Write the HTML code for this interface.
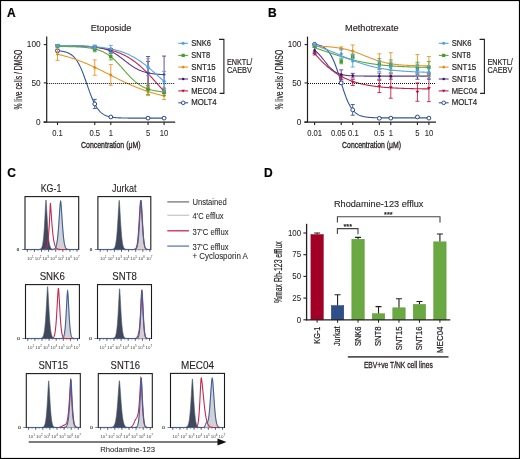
<!DOCTYPE html>
<html><head><meta charset="utf-8"><style>
html,body{margin:0;padding:0;background:#fff;}
svg{display:block;will-change:transform;}
text{font-family:"Liberation Sans",sans-serif;}
</style></head><body>
<svg width="520" height="459" viewBox="0 0 520 459">
<rect x="0" y="0" width="520" height="459" fill="#fff"/>
<text x="7.00" y="17.20" font-size="12" text-anchor="start" fill="#000" font-weight="bold" stroke="#000" stroke-width="0.18" >A</text>
<text x="111.00" y="31.30" font-size="9.9" text-anchor="middle" fill="#231f20" textLength="40.7" lengthAdjust="spacingAndGlyphs" stroke="#231f20" stroke-width="0.15" >Etoposide</text>
<path d="M57.50 50.73 L58.04 50.77 L58.57 50.82 L59.11 50.87 L59.64 50.92 L60.18 50.99 L60.71 51.05 L61.25 51.13 L61.79 51.21 L62.32 51.29 L62.86 51.39 L63.39 51.49 L63.93 51.61 L64.46 51.73 L65.00 51.87 L65.54 52.02 L66.07 52.18 L66.61 52.35 L67.14 52.54 L67.68 52.75 L68.21 52.98 L68.75 53.23 L69.28 53.49 L69.82 53.79 L70.36 54.10 L70.89 54.44 L71.43 54.81 L71.96 55.22 L72.50 55.65 L73.03 56.12 L73.57 56.62 L74.11 57.17 L74.64 57.75 L75.18 58.38 L75.71 59.05 L76.25 59.77 L76.78 60.54 L77.32 61.36 L77.86 62.23 L78.39 63.16 L78.93 64.13 L79.46 65.17 L80.00 66.25 L80.53 67.39 L81.07 68.58 L81.61 69.83 L82.14 71.12 L82.68 72.46 L83.21 73.84 L83.75 75.26 L84.28 76.71 L84.82 78.20 L85.36 79.70 L85.89 81.23 L86.43 82.77 L86.96 84.31 L87.50 85.86 L88.03 87.40 L88.57 88.92 L89.11 90.43 L89.64 91.91 L90.18 93.36 L90.71 94.77 L91.25 96.15 L91.78 97.48 L92.32 98.76 L92.85 100.00 L93.39 101.18 L93.93 102.32 L94.46 103.39 L95.00 104.42 L95.53 105.39 L96.07 106.30 L96.60 107.17 L97.14 107.98 L97.68 108.74 L98.21 109.46 L98.75 110.12 L99.28 110.74 L99.82 111.32 L100.35 111.86 L100.89 112.36 L101.43 112.83 L101.96 113.25 L102.50 113.65 L103.03 114.02 L103.57 114.36 L104.10 114.67 L104.64 114.96 L105.18 115.22 L105.71 115.47 L106.25 115.69 L106.78 115.90 L107.32 116.09 L107.85 116.26 L108.39 116.42 L108.93 116.56 L109.46 116.70 L110.00 116.82 L110.53 116.93 L111.07 117.04 L111.60 117.13 L112.14 117.22 L112.67 117.30 L113.21 117.37 L113.75 117.44 L114.28 117.50 L114.82 117.55 L115.35 117.60 L115.89 117.65 L116.42 117.69 L116.96 117.73 L117.50 117.76 L118.03 117.80 L118.57 117.83 L119.10 117.85 L119.64 117.88 L120.17 117.90 L120.71 117.92 L121.25 117.94 L121.78 117.96 L122.32 117.97 L122.85 117.99 L123.39 118.00 L123.92 118.01 L124.46 118.02 L125.00 118.03 L125.53 118.04 L126.07 118.05 L126.60 118.06 L127.14 118.06 L127.67 118.07 L128.21 118.08 L128.75 118.08 L129.28 118.09 L129.82 118.09 L130.35 118.10 L130.89 118.10 L131.42 118.10 L131.96 118.11 L132.49 118.11 L133.03 118.11 L133.57 118.11 L134.10 118.11 L134.64 118.12 L135.17 118.12 L135.71 118.12 L136.24 118.12 L136.78 118.12 L137.32 118.12 L137.85 118.13 L138.39 118.13 L138.92 118.13 L139.46 118.13 L139.99 118.13 L140.53 118.13 L141.07 118.13 L141.60 118.13 L142.14 118.13 L142.67 118.13 L143.21 118.13 L143.74 118.13 L144.28 118.13 L144.82 118.13 L145.35 118.13 L145.89 118.13 L146.42 118.13 L146.96 118.13 L147.49 118.13 L148.03 118.13 L148.57 118.14 L149.10 118.14 L149.64 118.14 L150.17 118.14 L150.71 118.14 L151.24 118.14 L151.78 118.14 L152.32 118.14 L152.85 118.14 L153.39 118.14 L153.92 118.14 L154.46 118.14 L154.99 118.14 L155.53 118.14 L156.06 118.14 L156.60 118.14 L157.14 118.14 L157.67 118.14 L158.21 118.14 L158.74 118.14 L159.28 118.14 L159.81 118.14 L160.35 118.14 L160.89 118.14 L161.42 118.14 L161.96 118.14 L162.49 118.14 L163.03 118.14 L163.56 118.14 L164.10 118.14" fill="none" stroke="#34569a" stroke-width="1.1"/>
<path d="M57.50 45.53 L58.04 45.54 L58.57 45.55 L59.11 45.55 L59.64 45.56 L60.18 45.57 L60.71 45.58 L61.25 45.59 L61.79 45.60 L62.32 45.61 L62.86 45.62 L63.39 45.63 L63.93 45.64 L64.46 45.65 L65.00 45.66 L65.54 45.67 L66.07 45.68 L66.61 45.70 L67.14 45.71 L67.68 45.72 L68.21 45.73 L68.75 45.75 L69.28 45.76 L69.82 45.78 L70.36 45.79 L70.89 45.81 L71.43 45.82 L71.96 45.84 L72.50 45.86 L73.03 45.88 L73.57 45.89 L74.11 45.91 L74.64 45.93 L75.18 45.95 L75.71 45.97 L76.25 45.99 L76.78 46.02 L77.32 46.04 L77.86 46.06 L78.39 46.09 L78.93 46.11 L79.46 46.14 L80.00 46.16 L80.53 46.19 L81.07 46.22 L81.61 46.25 L82.14 46.28 L82.68 46.31 L83.21 46.34 L83.75 46.37 L84.28 46.40 L84.82 46.44 L85.36 46.47 L85.89 46.51 L86.43 46.55 L86.96 46.59 L87.50 46.63 L88.03 46.67 L88.57 46.71 L89.11 46.75 L89.64 46.80 L90.18 46.85 L90.71 46.89 L91.25 46.94 L91.78 46.99 L92.32 47.05 L92.85 47.10 L93.39 47.15 L93.93 47.21 L94.46 47.27 L95.00 47.33 L95.53 47.39 L96.07 47.46 L96.60 47.52 L97.14 47.59 L97.68 47.66 L98.21 47.73 L98.75 47.81 L99.28 47.88 L99.82 47.96 L100.35 48.04 L100.89 48.13 L101.43 48.21 L101.96 48.30 L102.50 48.39 L103.03 48.48 L103.57 48.58 L104.10 48.68 L104.64 48.78 L105.18 48.89 L105.71 48.99 L106.25 49.10 L106.78 49.22 L107.32 49.33 L107.85 49.45 L108.39 49.58 L108.93 49.70 L109.46 49.83 L110.00 49.97 L110.53 50.11 L111.07 50.25 L111.60 50.39 L112.14 50.54 L112.67 50.70 L113.21 50.85 L113.75 51.02 L114.28 51.18 L114.82 51.35 L115.35 51.53 L115.89 51.71 L116.42 51.89 L116.96 52.08 L117.50 52.27 L118.03 52.47 L118.57 52.68 L119.10 52.89 L119.64 53.10 L120.17 53.32 L120.71 53.55 L121.25 53.78 L121.78 54.01 L122.32 54.25 L122.85 54.50 L123.39 54.76 L123.92 55.02 L124.46 55.28 L125.00 55.55 L125.53 55.83 L126.07 56.12 L126.60 56.41 L127.14 56.71 L127.67 57.01 L128.21 57.32 L128.75 57.64 L129.28 57.96 L129.82 58.29 L130.35 58.63 L130.89 58.98 L131.42 59.33 L131.96 59.69 L132.49 60.05 L133.03 60.43 L133.57 60.81 L134.10 61.20 L134.64 61.59 L135.17 61.99 L135.71 62.40 L136.24 62.82 L136.78 63.24 L137.32 63.67 L137.85 64.11 L138.39 64.55 L138.92 65.00 L139.46 65.46 L139.99 65.93 L140.53 66.40 L141.07 66.88 L141.60 67.36 L142.14 67.85 L142.67 68.35 L143.21 68.86 L143.74 69.37 L144.28 69.88 L144.82 70.41 L145.35 70.93 L145.89 71.47 L146.42 72.01 L146.96 72.55 L147.49 73.10 L148.03 73.66 L148.57 74.22 L149.10 74.78 L149.64 75.35 L150.17 75.92 L150.71 76.49 L151.24 77.07 L151.78 77.66 L152.32 78.24 L152.85 78.83 L153.39 79.42 L153.92 80.01 L154.46 80.61 L154.99 81.20 L155.53 81.80 L156.06 82.40 L156.60 83.00 L157.14 83.60 L157.67 84.20 L158.21 84.80 L158.74 85.41 L159.28 86.01 L159.81 86.60 L160.35 87.20 L160.89 87.80 L161.42 88.39 L161.96 88.99 L162.49 89.58 L163.03 90.17 L163.56 90.75 L164.10 91.33" fill="none" stroke="#be2447" stroke-width="1.1"/>
<path d="M57.50 45.84 L58.04 45.84 L58.57 45.84 L59.11 45.84 L59.64 45.85 L60.18 45.85 L60.71 45.85 L61.25 45.85 L61.79 45.85 L62.32 45.85 L62.86 45.86 L63.39 45.86 L63.93 45.86 L64.46 45.86 L65.00 45.87 L65.54 45.87 L66.07 45.87 L66.61 45.88 L67.14 45.88 L67.68 45.88 L68.21 45.89 L68.75 45.89 L69.28 45.90 L69.82 45.90 L70.36 45.91 L70.89 45.91 L71.43 45.92 L71.96 45.92 L72.50 45.93 L73.03 45.93 L73.57 45.94 L74.11 45.95 L74.64 45.96 L75.18 45.96 L75.71 45.97 L76.25 45.98 L76.78 45.99 L77.32 46.00 L77.86 46.01 L78.39 46.02 L78.93 46.04 L79.46 46.05 L80.00 46.06 L80.53 46.08 L81.07 46.09 L81.61 46.11 L82.14 46.13 L82.68 46.14 L83.21 46.16 L83.75 46.18 L84.28 46.20 L84.82 46.23 L85.36 46.25 L85.89 46.28 L86.43 46.30 L86.96 46.33 L87.50 46.36 L88.03 46.39 L88.57 46.43 L89.11 46.46 L89.64 46.50 L90.18 46.54 L90.71 46.58 L91.25 46.62 L91.78 46.67 L92.32 46.72 L92.85 46.77 L93.39 46.82 L93.93 46.88 L94.46 46.94 L95.00 47.00 L95.53 47.07 L96.07 47.14 L96.60 47.22 L97.14 47.29 L97.68 47.38 L98.21 47.46 L98.75 47.56 L99.28 47.65 L99.82 47.75 L100.35 47.86 L100.89 47.97 L101.43 48.09 L101.96 48.21 L102.50 48.34 L103.03 48.48 L103.57 48.62 L104.10 48.77 L104.64 48.92 L105.18 49.09 L105.71 49.26 L106.25 49.43 L106.78 49.62 L107.32 49.81 L107.85 50.02 L108.39 50.23 L108.93 50.44 L109.46 50.67 L110.00 50.91 L110.53 51.16 L111.07 51.41 L111.60 51.67 L112.14 51.95 L112.67 52.23 L113.21 52.52 L113.75 52.82 L114.28 53.13 L114.82 53.45 L115.35 53.78 L115.89 54.12 L116.42 54.46 L116.96 54.82 L117.50 55.18 L118.03 55.55 L118.57 55.93 L119.10 56.31 L119.64 56.70 L120.17 57.09 L120.71 57.49 L121.25 57.90 L121.78 58.31 L122.32 58.72 L122.85 59.13 L123.39 59.55 L123.92 59.97 L124.46 60.39 L125.00 60.81 L125.53 61.23 L126.07 61.64 L126.60 62.06 L127.14 62.47 L127.67 62.88 L128.21 63.29 L128.75 63.69 L129.28 64.09 L129.82 64.48 L130.35 64.86 L130.89 65.24 L131.42 65.61 L131.96 65.97 L132.49 66.33 L133.03 66.68 L133.57 67.02 L134.10 67.35 L134.64 67.67 L135.17 67.98 L135.71 68.28 L136.24 68.58 L136.78 68.86 L137.32 69.14 L137.85 69.41 L138.39 69.66 L138.92 69.91 L139.46 70.15 L139.99 70.38 L140.53 70.60 L141.07 70.82 L141.60 71.02 L142.14 71.22 L142.67 71.40 L143.21 71.58 L143.74 71.76 L144.28 71.92 L144.82 72.08 L145.35 72.23 L145.89 72.37 L146.42 72.51 L146.96 72.64 L147.49 72.76 L148.03 72.88 L148.57 73.00 L149.10 73.10 L149.64 73.21 L150.17 73.30 L150.71 73.40 L151.24 73.48 L151.78 73.57 L152.32 73.65 L152.85 73.72 L153.39 73.79 L153.92 73.86 L154.46 73.93 L154.99 73.99 L155.53 74.05 L156.06 74.10 L156.60 74.15 L157.14 74.20 L157.67 74.25 L158.21 74.29 L158.74 74.33 L159.28 74.37 L159.81 74.41 L160.35 74.45 L160.89 74.48 L161.42 74.51 L161.96 74.54 L162.49 74.57 L163.03 74.60 L163.56 74.62 L164.10 74.65" fill="none" stroke="#5b3b8c" stroke-width="1.1"/>
<path d="M57.50 54.22 L58.04 54.34 L58.57 54.47 L59.11 54.59 L59.64 54.72 L60.18 54.85 L60.71 54.98 L61.25 55.11 L61.79 55.25 L62.32 55.39 L62.86 55.53 L63.39 55.67 L63.93 55.81 L64.46 55.95 L65.00 56.10 L65.54 56.25 L66.07 56.40 L66.61 56.55 L67.14 56.71 L67.68 56.86 L68.21 57.02 L68.75 57.18 L69.28 57.34 L69.82 57.51 L70.36 57.68 L70.89 57.84 L71.43 58.01 L71.96 58.19 L72.50 58.36 L73.03 58.54 L73.57 58.72 L74.11 58.90 L74.64 59.08 L75.18 59.26 L75.71 59.45 L76.25 59.64 L76.78 59.83 L77.32 60.02 L77.86 60.22 L78.39 60.42 L78.93 60.61 L79.46 60.82 L80.00 61.02 L80.53 61.22 L81.07 61.43 L81.61 61.64 L82.14 61.85 L82.68 62.06 L83.21 62.28 L83.75 62.49 L84.28 62.71 L84.82 62.93 L85.36 63.15 L85.89 63.38 L86.43 63.60 L86.96 63.83 L87.50 64.06 L88.03 64.29 L88.57 64.52 L89.11 64.76 L89.64 64.99 L90.18 65.23 L90.71 65.47 L91.25 65.71 L91.78 65.95 L92.32 66.20 L92.85 66.44 L93.39 66.69 L93.93 66.94 L94.46 67.19 L95.00 67.44 L95.53 67.69 L96.07 67.95 L96.60 68.20 L97.14 68.46 L97.68 68.71 L98.21 68.97 L98.75 69.23 L99.28 69.49 L99.82 69.75 L100.35 70.02 L100.89 70.28 L101.43 70.54 L101.96 70.81 L102.50 71.07 L103.03 71.34 L103.57 71.61 L104.10 71.87 L104.64 72.14 L105.18 72.41 L105.71 72.68 L106.25 72.95 L106.78 73.22 L107.32 73.49 L107.85 73.76 L108.39 74.03 L108.93 74.30 L109.46 74.57 L110.00 74.84 L110.53 75.12 L111.07 75.39 L111.60 75.66 L112.14 75.93 L112.67 76.20 L113.21 76.47 L113.75 76.74 L114.28 77.01 L114.82 77.28 L115.35 77.55 L115.89 77.81 L116.42 78.08 L116.96 78.35 L117.50 78.62 L118.03 78.88 L118.57 79.15 L119.10 79.41 L119.64 79.67 L120.17 79.94 L120.71 80.20 L121.25 80.46 L121.78 80.72 L122.32 80.98 L122.85 81.23 L123.39 81.49 L123.92 81.75 L124.46 82.00 L125.00 82.25 L125.53 82.50 L126.07 82.75 L126.60 83.00 L127.14 83.25 L127.67 83.49 L128.21 83.74 L128.75 83.98 L129.28 84.22 L129.82 84.46 L130.35 84.70 L130.89 84.94 L131.42 85.17 L131.96 85.40 L132.49 85.64 L133.03 85.86 L133.57 86.09 L134.10 86.32 L134.64 86.54 L135.17 86.76 L135.71 86.99 L136.24 87.20 L136.78 87.42 L137.32 87.64 L137.85 87.85 L138.39 88.06 L138.92 88.27 L139.46 88.48 L139.99 88.68 L140.53 88.88 L141.07 89.08 L141.60 89.28 L142.14 89.48 L142.67 89.68 L143.21 89.87 L143.74 90.06 L144.28 90.25 L144.82 90.44 L145.35 90.62 L145.89 90.80 L146.42 90.98 L146.96 91.16 L147.49 91.34 L148.03 91.52 L148.57 91.69 L149.10 91.86 L149.64 92.03 L150.17 92.19 L150.71 92.36 L151.24 92.52 L151.78 92.68 L152.32 92.84 L152.85 93.00 L153.39 93.15 L153.92 93.31 L154.46 93.46 L154.99 93.61 L155.53 93.75 L156.06 93.90 L156.60 94.04 L157.14 94.18 L157.67 94.32 L158.21 94.46 L158.74 94.59 L159.28 94.73 L159.81 94.86 L160.35 94.99 L160.89 95.12 L161.42 95.24 L161.96 95.37 L162.49 95.49 L163.03 95.61 L163.56 95.73 L164.10 95.85" fill="none" stroke="#e8962a" stroke-width="1.1"/>
<path d="M57.50 46.46 L58.04 46.47 L58.57 46.47 L59.11 46.48 L59.64 46.48 L60.18 46.49 L60.71 46.49 L61.25 46.50 L61.79 46.50 L62.32 46.51 L62.86 46.51 L63.39 46.52 L63.93 46.53 L64.46 46.53 L65.00 46.54 L65.54 46.55 L66.07 46.56 L66.61 46.57 L67.14 46.57 L67.68 46.58 L68.21 46.59 L68.75 46.61 L69.28 46.62 L69.82 46.63 L70.36 46.64 L70.89 46.65 L71.43 46.67 L71.96 46.68 L72.50 46.70 L73.03 46.72 L73.57 46.73 L74.11 46.75 L74.64 46.77 L75.18 46.79 L75.71 46.81 L76.25 46.83 L76.78 46.86 L77.32 46.88 L77.86 46.91 L78.39 46.93 L78.93 46.96 L79.46 46.99 L80.00 47.03 L80.53 47.06 L81.07 47.10 L81.61 47.13 L82.14 47.17 L82.68 47.21 L83.21 47.26 L83.75 47.30 L84.28 47.35 L84.82 47.40 L85.36 47.45 L85.89 47.51 L86.43 47.57 L86.96 47.63 L87.50 47.70 L88.03 47.76 L88.57 47.84 L89.11 47.91 L89.64 47.99 L90.18 48.07 L90.71 48.16 L91.25 48.25 L91.78 48.35 L92.32 48.45 L92.85 48.56 L93.39 48.67 L93.93 48.79 L94.46 48.91 L95.00 49.04 L95.53 49.17 L96.07 49.31 L96.60 49.46 L97.14 49.61 L97.68 49.77 L98.21 49.94 L98.75 50.12 L99.28 50.30 L99.82 50.50 L100.35 50.70 L100.89 50.91 L101.43 51.13 L101.96 51.36 L102.50 51.59 L103.03 51.84 L103.57 52.10 L104.10 52.37 L104.64 52.65 L105.18 52.94 L105.71 53.24 L106.25 53.56 L106.78 53.88 L107.32 54.22 L107.85 54.57 L108.39 54.93 L108.93 55.30 L109.46 55.68 L110.00 56.08 L110.53 56.49 L111.07 56.92 L111.60 57.35 L112.14 57.80 L112.67 58.26 L113.21 58.73 L113.75 59.21 L114.28 59.70 L114.82 60.21 L115.35 60.73 L115.89 61.25 L116.42 61.79 L116.96 62.34 L117.50 62.89 L118.03 63.46 L118.57 64.03 L119.10 64.61 L119.64 65.19 L120.17 65.79 L120.71 66.38 L121.25 66.99 L121.78 67.59 L122.32 68.20 L122.85 68.81 L123.39 69.42 L123.92 70.03 L124.46 70.64 L125.00 71.25 L125.53 71.86 L126.07 72.46 L126.60 73.06 L127.14 73.65 L127.67 74.24 L128.21 74.83 L128.75 75.40 L129.28 75.97 L129.82 76.53 L130.35 77.09 L130.89 77.63 L131.42 78.16 L131.96 78.68 L132.49 79.20 L133.03 79.70 L133.57 80.19 L134.10 80.66 L134.64 81.13 L135.17 81.59 L135.71 82.03 L136.24 82.46 L136.78 82.87 L137.32 83.28 L137.85 83.67 L138.39 84.05 L138.92 84.42 L139.46 84.77 L139.99 85.12 L140.53 85.45 L141.07 85.77 L141.60 86.08 L142.14 86.38 L142.67 86.66 L143.21 86.94 L143.74 87.20 L144.28 87.46 L144.82 87.70 L145.35 87.93 L145.89 88.16 L146.42 88.37 L146.96 88.58 L147.49 88.78 L148.03 88.97 L148.57 89.15 L149.10 89.32 L149.64 89.49 L150.17 89.65 L150.71 89.80 L151.24 89.94 L151.78 90.08 L152.32 90.21 L152.85 90.34 L153.39 90.46 L153.92 90.57 L154.46 90.68 L154.99 90.78 L155.53 90.88 L156.06 90.98 L156.60 91.07 L157.14 91.15 L157.67 91.24 L158.21 91.31 L158.74 91.39 L159.28 91.46 L159.81 91.52 L160.35 91.59 L160.89 91.65 L161.42 91.71 L161.96 91.76 L162.49 91.81 L163.03 91.86 L163.56 91.91 L164.10 91.95" fill="none" stroke="#5fa83a" stroke-width="1.1"/>
<path d="M57.50 45.44 L58.04 45.44 L58.57 45.45 L59.11 45.45 L59.64 45.46 L60.18 45.47 L60.71 45.47 L61.25 45.48 L61.79 45.49 L62.32 45.49 L62.86 45.50 L63.39 45.51 L63.93 45.51 L64.46 45.52 L65.00 45.53 L65.54 45.54 L66.07 45.55 L66.61 45.56 L67.14 45.57 L67.68 45.58 L68.21 45.59 L68.75 45.60 L69.28 45.61 L69.82 45.62 L70.36 45.63 L70.89 45.64 L71.43 45.65 L71.96 45.66 L72.50 45.68 L73.03 45.69 L73.57 45.70 L74.11 45.72 L74.64 45.73 L75.18 45.74 L75.71 45.76 L76.25 45.78 L76.78 45.79 L77.32 45.81 L77.86 45.83 L78.39 45.84 L78.93 45.86 L79.46 45.88 L80.00 45.90 L80.53 45.92 L81.07 45.94 L81.61 45.96 L82.14 45.98 L82.68 46.01 L83.21 46.03 L83.75 46.05 L84.28 46.08 L84.82 46.10 L85.36 46.13 L85.89 46.16 L86.43 46.18 L86.96 46.21 L87.50 46.24 L88.03 46.27 L88.57 46.30 L89.11 46.34 L89.64 46.37 L90.18 46.40 L90.71 46.44 L91.25 46.48 L91.78 46.51 L92.32 46.55 L92.85 46.59 L93.39 46.63 L93.93 46.68 L94.46 46.72 L95.00 46.77 L95.53 46.81 L96.07 46.86 L96.60 46.91 L97.14 46.96 L97.68 47.01 L98.21 47.07 L98.75 47.12 L99.28 47.18 L99.82 47.24 L100.35 47.30 L100.89 47.36 L101.43 47.42 L101.96 47.49 L102.50 47.56 L103.03 47.63 L103.57 47.70 L104.10 47.77 L104.64 47.85 L105.18 47.93 L105.71 48.01 L106.25 48.09 L106.78 48.18 L107.32 48.27 L107.85 48.36 L108.39 48.45 L108.93 48.55 L109.46 48.64 L110.00 48.75 L110.53 48.85 L111.07 48.96 L111.60 49.07 L112.14 49.18 L112.67 49.30 L113.21 49.42 L113.75 49.54 L114.28 49.66 L114.82 49.79 L115.35 49.93 L115.89 50.06 L116.42 50.20 L116.96 50.35 L117.50 50.49 L118.03 50.65 L118.57 50.80 L119.10 50.96 L119.64 51.12 L120.17 51.29 L120.71 51.46 L121.25 51.64 L121.78 51.82 L122.32 52.01 L122.85 52.20 L123.39 52.39 L123.92 52.59 L124.46 52.79 L125.00 53.00 L125.53 53.22 L126.07 53.44 L126.60 53.66 L127.14 53.89 L127.67 54.12 L128.21 54.36 L128.75 54.61 L129.28 54.86 L129.82 55.12 L130.35 55.38 L130.89 55.64 L131.42 55.92 L131.96 56.19 L132.49 56.48 L133.03 56.77 L133.57 57.06 L134.10 57.36 L134.64 57.67 L135.17 57.98 L135.71 58.30 L136.24 58.63 L136.78 58.96 L137.32 59.29 L137.85 59.64 L138.39 59.98 L138.92 60.34 L139.46 60.70 L139.99 61.06 L140.53 61.43 L141.07 61.81 L141.60 62.19 L142.14 62.58 L142.67 62.97 L143.21 63.37 L143.74 63.77 L144.28 64.18 L144.82 64.59 L145.35 65.01 L145.89 65.43 L146.42 65.86 L146.96 66.29 L147.49 66.73 L148.03 67.17 L148.57 67.61 L149.10 68.06 L149.64 68.51 L150.17 68.97 L150.71 69.43 L151.24 69.89 L151.78 70.35 L152.32 70.82 L152.85 71.29 L153.39 71.76 L153.92 72.24 L154.46 72.72 L154.99 73.19 L155.53 73.67 L156.06 74.16 L156.60 74.64 L157.14 75.12 L157.67 75.61 L158.21 76.09 L158.74 76.57 L159.28 77.06 L159.81 77.54 L160.35 78.03 L160.89 78.51 L161.42 78.99 L161.96 79.47 L162.49 79.95 L163.03 80.42 L163.56 80.90 L164.10 81.37" fill="none" stroke="#57a5e3" stroke-width="1.1"/>
<line x1="47.20" y1="83.5" x2="175.20" y2="83.5" stroke="#111" stroke-width="1" stroke-dasharray="1 1"/>
<path d="M57.50 49.58V51.88M55.50 49.58H59.50M55.50 51.88H59.50" stroke="#34569a" stroke-width="0.9" fill="none"/>
<path d="M94.76 99.37V108.56M92.76 99.37H96.76M92.76 108.56H96.76" stroke="#34569a" stroke-width="0.9" fill="none"/>
<path d="M110.80 116.22V117.75M108.80 116.22H112.80M108.80 117.75H112.80" stroke="#34569a" stroke-width="0.9" fill="none"/>
<path d="M148.06 117.37V118.90M146.06 117.37H150.06M146.06 118.90H150.06" stroke="#34569a" stroke-width="0.9" fill="none"/>
<path d="M164.10 117.37V118.90M162.10 117.37H166.10M162.10 118.90H166.10" stroke="#34569a" stroke-width="0.9" fill="none"/>
<circle cx="57.50" cy="50.73" r="1.90" fill="#fff" stroke="#2a4a8a" stroke-width="1"/>
<circle cx="94.76" cy="103.97" r="1.90" fill="#fff" stroke="#2a4a8a" stroke-width="1"/>
<circle cx="110.80" cy="116.99" r="1.90" fill="#fff" stroke="#2a4a8a" stroke-width="1"/>
<circle cx="148.06" cy="118.14" r="1.90" fill="#fff" stroke="#2a4a8a" stroke-width="1"/>
<circle cx="164.10" cy="118.14" r="1.90" fill="#fff" stroke="#2a4a8a" stroke-width="1"/>
<path d="M57.50 44.60V46.13M55.50 44.60H59.50M55.50 46.13H59.50" stroke="#be2447" stroke-width="0.9" fill="none"/>
<path d="M94.76 46.13V49.20M92.76 46.13H96.76M92.76 49.20H96.76" stroke="#be2447" stroke-width="0.9" fill="none"/>
<path d="M110.80 48.43V51.49M108.80 48.43H112.80M108.80 51.49H112.80" stroke="#be2447" stroke-width="0.9" fill="none"/>
<path d="M148.06 61.45V85.96M146.06 61.45H150.06M146.06 85.96H150.06" stroke="#be2447" stroke-width="0.9" fill="none"/>
<path d="M164.10 89.03V93.62M162.10 89.03H166.10M162.10 93.62H166.10" stroke="#be2447" stroke-width="0.9" fill="none"/>
<path d="M55.70 44.11L59.30 44.11L57.50 46.99Z" fill="#b0102e"/>
<path d="M92.96 46.40L96.56 46.40L94.76 49.28Z" fill="#b0102e"/>
<path d="M109.00 48.70L112.60 48.70L110.80 51.58Z" fill="#b0102e"/>
<path d="M146.26 72.45L149.86 72.45L148.06 75.33Z" fill="#b0102e"/>
<path d="M162.30 90.07L165.90 90.07L164.10 92.95Z" fill="#b0102e"/>
<path d="M57.50 44.60V46.13M55.50 44.60H59.50M55.50 46.13H59.50" stroke="#5b3b8c" stroke-width="0.9" fill="none"/>
<path d="M94.76 46.13V49.20M92.76 46.13H96.76M92.76 49.20H96.76" stroke="#5b3b8c" stroke-width="0.9" fill="none"/>
<path d="M110.80 48.74V53.33M108.80 48.74H112.80M108.80 53.33H112.80" stroke="#5b3b8c" stroke-width="0.9" fill="none"/>
<path d="M148.06 56.55V89.64M146.06 56.55H150.06M146.06 89.64H150.06" stroke="#5b3b8c" stroke-width="0.9" fill="none"/>
<path d="M164.10 56.09V92.86M162.10 56.09H166.10M162.10 92.86H166.10" stroke="#5b3b8c" stroke-width="0.9" fill="none"/>
<circle cx="57.50" cy="45.37" r="1.30" fill="#3a105e"/>
<circle cx="94.76" cy="47.66" r="1.30" fill="#3a105e"/>
<circle cx="110.80" cy="51.03" r="1.30" fill="#3a105e"/>
<circle cx="148.06" cy="73.10" r="1.30" fill="#3a105e"/>
<circle cx="164.10" cy="74.47" r="1.30" fill="#3a105e"/>
<path d="M57.50 48.05V60.30M55.50 48.05H59.50M55.50 60.30H59.50" stroke="#e8962a" stroke-width="0.9" fill="none"/>
<path d="M94.76 59.92V75.24M92.76 59.92H96.76M92.76 75.24H96.76" stroke="#e8962a" stroke-width="0.9" fill="none"/>
<path d="M110.80 64.59V85.27M108.80 64.59H112.80M108.80 85.27H112.80" stroke="#e8962a" stroke-width="0.9" fill="none"/>
<path d="M148.06 87.96V95.62M146.06 87.96H150.06M146.06 95.62H150.06" stroke="#e8962a" stroke-width="0.9" fill="none"/>
<path d="M164.10 91.86V99.52M162.10 91.86H166.10M162.10 99.52H166.10" stroke="#e8962a" stroke-width="0.9" fill="none"/>
<path d="M57.50 52.38L59.30 54.17L57.50 55.97L55.70 54.17Z" fill="#e08a14"/>
<path d="M94.76 65.78L96.56 67.58L94.76 69.38L92.96 67.58Z" fill="#e08a14"/>
<path d="M110.80 73.13L112.60 74.93L110.80 76.73L109.00 74.93Z" fill="#e08a14"/>
<path d="M148.06 89.99L149.86 91.79L148.06 93.59L146.26 91.79Z" fill="#e08a14"/>
<path d="M164.10 93.89L165.90 95.69L164.10 97.49L162.30 95.69Z" fill="#e08a14"/>
<path d="M57.50 45.37V46.90M55.50 45.37H59.50M55.50 46.90H59.50" stroke="#5fa83a" stroke-width="0.9" fill="none"/>
<path d="M94.76 47.20V51.80M92.76 47.20H96.76M92.76 51.80H96.76" stroke="#5fa83a" stroke-width="0.9" fill="none"/>
<path d="M110.80 53.03V59.92M108.80 53.03H112.80M108.80 59.92H112.80" stroke="#5fa83a" stroke-width="0.9" fill="none"/>
<path d="M148.06 83.82V94.54M146.06 83.82H150.06M146.06 94.54H150.06" stroke="#5fa83a" stroke-width="0.9" fill="none"/>
<path d="M164.10 87.96V95.62M162.10 87.96H166.10M162.10 95.62H166.10" stroke="#5fa83a" stroke-width="0.9" fill="none"/>
<rect x="55.80" y="44.43" width="3.40" height="3.40" fill="#4a9a2a"/>
<rect x="93.06" y="47.80" width="3.40" height="3.40" fill="#4a9a2a"/>
<rect x="109.10" y="54.77" width="3.40" height="3.40" fill="#4a9a2a"/>
<rect x="146.36" y="87.48" width="3.40" height="3.40" fill="#4a9a2a"/>
<rect x="162.40" y="90.09" width="3.40" height="3.40" fill="#4a9a2a"/>
<path d="M57.50 44.45V46.29M55.50 44.45H59.50M55.50 46.29H59.50" stroke="#57a5e3" stroke-width="0.9" fill="none"/>
<path d="M94.76 44.98V48.81M92.76 44.98H96.76M92.76 48.81H96.76" stroke="#57a5e3" stroke-width="0.9" fill="none"/>
<path d="M110.80 45.37V52.26M108.80 45.37H112.80M108.80 52.26H112.80" stroke="#57a5e3" stroke-width="0.9" fill="none"/>
<path d="M148.06 58.77V75.62M146.06 58.77H150.06M146.06 75.62H150.06" stroke="#57a5e3" stroke-width="0.9" fill="none"/>
<path d="M164.10 71.41V91.33M162.10 71.41H166.10M162.10 91.33H166.10" stroke="#57a5e3" stroke-width="0.9" fill="none"/>
<circle cx="57.50" cy="45.37" r="1.60" fill="#4e9fe0"/>
<circle cx="94.76" cy="46.90" r="1.60" fill="#4e9fe0"/>
<circle cx="110.80" cy="48.81" r="1.60" fill="#4e9fe0"/>
<circle cx="148.06" cy="67.20" r="1.60" fill="#4e9fe0"/>
<circle cx="164.10" cy="81.37" r="1.60" fill="#4e9fe0"/>
<path d="M46.70 36.6V122.10" stroke="#231f20" stroke-width="1.2" fill="none"/>
<path d="M43.50 122.10H175.20" stroke="#231f20" stroke-width="1.2" fill="none"/>
<path d="M43.80 44.60H46.70" stroke="#231f20" stroke-width="1.1"/>
<text x="40.60" y="47.40" font-size="8.5" text-anchor="end" fill="#231f20" textLength="13.76" lengthAdjust="spacingAndGlyphs" stroke="#231f20" stroke-width="0.06" >100</text>
<path d="M43.80 82.90H46.70" stroke="#231f20" stroke-width="1.1"/>
<text x="40.60" y="85.70" font-size="8.5" text-anchor="end" fill="#231f20" textLength="9.17" lengthAdjust="spacingAndGlyphs" stroke="#231f20" stroke-width="0.06" >50</text>
<path d="M43.80 122.10H46.70" stroke="#231f20" stroke-width="1.1"/>
<text x="40.60" y="124.90" font-size="8.5" text-anchor="end" fill="#231f20" textLength="4.59" lengthAdjust="spacingAndGlyphs" stroke="#231f20" stroke-width="0.06" >0</text>
<path d="M57.50 122.10V125.00" stroke="#231f20" stroke-width="1.1"/>
<text x="57.50" y="135.80" font-size="8.5" text-anchor="middle" fill="#231f20" textLength="10.63" lengthAdjust="spacingAndGlyphs" stroke="#231f20" stroke-width="0.06" >0.1</text>
<path d="M94.76 122.10V125.00" stroke="#231f20" stroke-width="1.1"/>
<text x="94.76" y="135.80" font-size="8.5" text-anchor="middle" fill="#231f20" textLength="10.63" lengthAdjust="spacingAndGlyphs" stroke="#231f20" stroke-width="0.06" >0.5</text>
<path d="M110.80 122.10V125.00" stroke="#231f20" stroke-width="1.1"/>
<text x="110.80" y="135.80" font-size="8.5" text-anchor="middle" fill="#231f20" textLength="4.25" lengthAdjust="spacingAndGlyphs" stroke="#231f20" stroke-width="0.06" >1</text>
<path d="M148.06 122.10V125.00" stroke="#231f20" stroke-width="1.1"/>
<text x="148.06" y="135.80" font-size="8.5" text-anchor="middle" fill="#231f20" textLength="4.25" lengthAdjust="spacingAndGlyphs" stroke="#231f20" stroke-width="0.06" >5</text>
<path d="M164.10 122.10V125.00" stroke="#231f20" stroke-width="1.1"/>
<text x="164.10" y="135.80" font-size="8.5" text-anchor="middle" fill="#231f20" textLength="8.51" lengthAdjust="spacingAndGlyphs" stroke="#231f20" stroke-width="0.06" >10</text>
<text x="110.80" y="148.10" font-size="9.9" text-anchor="middle" fill="#231f20" textLength="59.5" lengthAdjust="spacingAndGlyphs" stroke="#231f20" stroke-width="0.35" >Concentration (μM)</text>
<text transform="translate(22.00,79.7) rotate(-90)" x="0" y="0" font-size="10.4" text-anchor="middle" fill="#231f20" stroke="#231f20" stroke-width="0.2" textLength="59.8" lengthAdjust="spacingAndGlyphs">% live cells / DMSO</text>
<path d="M178.30 43.30H188.10" stroke="#57a5e3" stroke-width="1.1"/>
<circle cx="183.20" cy="43.30" r="1.52" fill="#4e9fe0"/>
<text x="191.20" y="45.90" font-size="8.4" text-anchor="start" fill="#231f20" textLength="19.9" lengthAdjust="spacingAndGlyphs" stroke="#231f20" stroke-width="0.18" >SNK6</text>
<path d="M178.30 55.40H188.10" stroke="#5fa83a" stroke-width="1.1"/>
<rect x="181.59" y="53.78" width="3.23" height="3.23" fill="#4a9a2a"/>
<text x="191.20" y="58.00" font-size="8.4" text-anchor="start" fill="#231f20" textLength="19.0" lengthAdjust="spacingAndGlyphs" stroke="#231f20" stroke-width="0.18" >SNT8</text>
<path d="M178.30 67.10H188.10" stroke="#e8962a" stroke-width="1.1"/>
<path d="M183.20 65.39L184.91 67.10L183.20 68.81L181.49 67.10Z" fill="#e08a14"/>
<text x="191.20" y="69.70" font-size="8.4" text-anchor="start" fill="#231f20" textLength="24.5" lengthAdjust="spacingAndGlyphs" stroke="#231f20" stroke-width="0.18" >SNT15</text>
<path d="M178.30 79.00H188.10" stroke="#5b3b8c" stroke-width="1.1"/>
<circle cx="183.20" cy="79.00" r="1.23" fill="#3a105e"/>
<text x="191.20" y="81.60" font-size="8.4" text-anchor="start" fill="#231f20" textLength="24.5" lengthAdjust="spacingAndGlyphs" stroke="#231f20" stroke-width="0.18" >SNT16</text>
<path d="M178.30 90.90H188.10" stroke="#be2447" stroke-width="1.1"/>
<path d="M181.49 89.70L184.91 89.70L183.20 92.44Z" fill="#b0102e"/>
<text x="191.20" y="93.50" font-size="8.4" text-anchor="start" fill="#231f20" textLength="25.5" lengthAdjust="spacingAndGlyphs" stroke="#231f20" stroke-width="0.18" >MEC04</text>
<path d="M178.30 102.80H188.10" stroke="#34569a" stroke-width="1.1"/>
<circle cx="183.20" cy="102.80" r="1.80" fill="#fff" stroke="#2a4a8a" stroke-width="1"/>
<text x="191.20" y="105.40" font-size="8.4" text-anchor="start" fill="#231f20" textLength="25.5" lengthAdjust="spacingAndGlyphs" stroke="#231f20" stroke-width="0.18" >MOLT4</text>
<path d="M219.10 39.4H223.90V93.4H219.60" stroke="#231f20" stroke-width="1.1" fill="none"/>
<text x="226.90" y="64.80" font-size="8.3" text-anchor="start" fill="#231f20" textLength="25.5" lengthAdjust="spacingAndGlyphs" stroke="#231f20" stroke-width="0.18" >ENKTL/</text>
<text x="226.90" y="73.30" font-size="8.3" text-anchor="start" fill="#231f20" textLength="25" lengthAdjust="spacingAndGlyphs" stroke="#231f20" stroke-width="0.18" >CAEBV</text>
<text x="268.00" y="17.30" font-size="12" text-anchor="start" fill="#000" font-weight="bold" stroke="#000" stroke-width="0.18" >B</text>
<text x="371.80" y="31.30" font-size="9.9" text-anchor="middle" fill="#231f20" textLength="53.5" lengthAdjust="spacingAndGlyphs" stroke="#231f20" stroke-width="0.15" >Methotrexate</text>
<path d="M314.60 44.29 L315.17 44.38 L315.75 44.47 L316.32 44.57 L316.90 44.68 L317.47 44.81 L318.05 44.94 L318.62 45.09 L319.19 45.26 L319.77 45.44 L320.34 45.64 L320.92 45.86 L321.49 46.10 L322.07 46.36 L322.64 46.65 L323.22 46.96 L323.79 47.31 L324.36 47.69 L324.94 48.10 L325.51 48.56 L326.09 49.05 L326.66 49.58 L327.24 50.17 L327.81 50.80 L328.38 51.49 L328.96 52.23 L329.53 53.03 L330.11 53.89 L330.68 54.82 L331.26 55.81 L331.83 56.87 L332.41 58.00 L332.98 59.21 L333.55 60.48 L334.13 61.83 L334.70 63.24 L335.28 64.72 L335.85 66.27 L336.43 67.88 L337.00 69.55 L337.57 71.26 L338.15 73.02 L338.72 74.82 L339.30 76.65 L339.87 78.49 L340.45 80.35 L341.02 82.20 L341.60 84.06 L342.17 85.89 L342.74 87.70 L343.32 89.47 L343.89 91.21 L344.47 92.89 L345.04 94.52 L345.62 96.09 L346.19 97.60 L346.76 99.04 L347.34 100.42 L347.91 101.72 L348.49 102.95 L349.06 104.11 L349.64 105.19 L350.21 106.21 L350.79 107.16 L351.36 108.05 L351.93 108.87 L352.51 109.64 L353.08 110.34 L353.66 111.00 L354.23 111.60 L354.81 112.15 L355.38 112.66 L355.95 113.13 L356.53 113.55 L357.10 113.95 L357.68 114.31 L358.25 114.63 L358.83 114.93 L359.40 115.20 L359.98 115.45 L360.55 115.68 L361.12 115.89 L361.70 116.07 L362.27 116.24 L362.85 116.40 L363.42 116.54 L364.00 116.67 L364.57 116.78 L365.14 116.89 L365.72 116.98 L366.29 117.07 L366.87 117.15 L367.44 117.22 L368.02 117.29 L368.59 117.34 L369.17 117.40 L369.74 117.45 L370.31 117.49 L370.89 117.53 L371.46 117.57 L372.04 117.60 L372.61 117.63 L373.19 117.65 L373.76 117.68 L374.33 117.70 L374.91 117.72 L375.48 117.74 L376.06 117.75 L376.63 117.77 L377.21 117.78 L377.78 117.79 L378.36 117.80 L378.93 117.81 L379.50 117.82 L380.08 117.83 L380.65 117.84 L381.23 117.84 L381.80 117.85 L382.38 117.86 L382.95 117.86 L383.52 117.87 L384.10 117.87 L384.67 117.87 L385.25 117.88 L385.82 117.88 L386.40 117.88 L386.97 117.88 L387.55 117.89 L388.12 117.89 L388.69 117.89 L389.27 117.89 L389.84 117.89 L390.42 117.90 L390.99 117.90 L391.57 117.90 L392.14 117.90 L392.71 117.90 L393.29 117.90 L393.86 117.90 L394.44 117.90 L395.01 117.90 L395.59 117.90 L396.16 117.90 L396.74 117.90 L397.31 117.90 L397.88 117.90 L398.46 117.90 L399.03 117.91 L399.61 117.91 L400.18 117.91 L400.76 117.91 L401.33 117.91 L401.90 117.91 L402.48 117.91 L403.05 117.91 L403.63 117.91 L404.20 117.91 L404.78 117.91 L405.35 117.91 L405.93 117.91 L406.50 117.91 L407.07 117.91 L407.65 117.91 L408.22 117.91 L408.80 117.91 L409.37 117.91 L409.95 117.91 L410.52 117.91 L411.09 117.91 L411.67 117.91 L412.24 117.91 L412.82 117.91 L413.39 117.91 L413.97 117.91 L414.54 117.91 L415.12 117.91 L415.69 117.91 L416.26 117.91 L416.84 117.91 L417.41 117.91 L417.99 117.91 L418.56 117.91 L419.14 117.91 L419.71 117.91 L420.28 117.91 L420.86 117.91 L421.43 117.91 L422.01 117.91 L422.58 117.91 L423.16 117.91 L423.73 117.91 L424.31 117.91 L424.88 117.91 L425.45 117.91 L426.03 117.91 L426.60 117.91 L427.18 117.91 L427.75 117.91 L428.33 117.91 L428.90 117.91" fill="none" stroke="#34569a" stroke-width="1.1"/>
<path d="M314.60 53.38 L315.17 54.06 L315.75 54.73 L316.32 55.40 L316.90 56.06 L317.47 56.71 L318.05 57.35 L318.62 57.99 L319.19 58.62 L319.77 59.23 L320.34 59.84 L320.92 60.44 L321.49 61.04 L322.07 61.62 L322.64 62.20 L323.22 62.76 L323.79 63.32 L324.36 63.87 L324.94 64.41 L325.51 64.94 L326.09 65.46 L326.66 65.98 L327.24 66.49 L327.81 66.98 L328.38 67.47 L328.96 67.95 L329.53 68.42 L330.11 68.89 L330.68 69.34 L331.26 69.79 L331.83 70.23 L332.41 70.66 L332.98 71.08 L333.55 71.50 L334.13 71.90 L334.70 72.30 L335.28 72.69 L335.85 73.08 L336.43 73.45 L337.00 73.82 L337.57 74.18 L338.15 74.54 L338.72 74.88 L339.30 75.22 L339.87 75.55 L340.45 75.88 L341.02 76.20 L341.60 76.51 L342.17 76.81 L342.74 77.11 L343.32 77.40 L343.89 77.69 L344.47 77.97 L345.04 78.24 L345.62 78.51 L346.19 78.77 L346.76 79.02 L347.34 79.27 L347.91 79.52 L348.49 79.76 L349.06 79.99 L349.64 80.22 L350.21 80.44 L350.79 80.66 L351.36 80.87 L351.93 81.08 L352.51 81.28 L353.08 81.48 L353.66 81.67 L354.23 81.86 L354.81 82.04 L355.38 82.22 L355.95 82.40 L356.53 82.57 L357.10 82.74 L357.68 82.90 L358.25 83.06 L358.83 83.21 L359.40 83.37 L359.98 83.51 L360.55 83.66 L361.12 83.80 L361.70 83.94 L362.27 84.07 L362.85 84.20 L363.42 84.33 L364.00 84.45 L364.57 84.57 L365.14 84.69 L365.72 84.81 L366.29 84.92 L366.87 85.03 L367.44 85.14 L368.02 85.24 L368.59 85.34 L369.17 85.44 L369.74 85.54 L370.31 85.63 L370.89 85.72 L371.46 85.81 L372.04 85.90 L372.61 85.98 L373.19 86.06 L373.76 86.15 L374.33 86.22 L374.91 86.30 L375.48 86.37 L376.06 86.45 L376.63 86.52 L377.21 86.59 L377.78 86.65 L378.36 86.72 L378.93 86.78 L379.50 86.84 L380.08 86.91 L380.65 86.96 L381.23 87.02 L381.80 87.08 L382.38 87.13 L382.95 87.18 L383.52 87.24 L384.10 87.29 L384.67 87.34 L385.25 87.38 L385.82 87.43 L386.40 87.47 L386.97 87.52 L387.55 87.56 L388.12 87.60 L388.69 87.64 L389.27 87.68 L389.84 87.72 L390.42 87.76 L390.99 87.80 L391.57 87.83 L392.14 87.87 L392.71 87.90 L393.29 87.93 L393.86 87.96 L394.44 88.00 L395.01 88.03 L395.59 88.06 L396.16 88.08 L396.74 88.11 L397.31 88.14 L397.88 88.17 L398.46 88.19 L399.03 88.22 L399.61 88.24 L400.18 88.27 L400.76 88.29 L401.33 88.31 L401.90 88.33 L402.48 88.35 L403.05 88.38 L403.63 88.40 L404.20 88.42 L404.78 88.43 L405.35 88.45 L405.93 88.47 L406.50 88.49 L407.07 88.51 L407.65 88.52 L408.22 88.54 L408.80 88.56 L409.37 88.57 L409.95 88.59 L410.52 88.60 L411.09 88.62 L411.67 88.63 L412.24 88.64 L412.82 88.66 L413.39 88.67 L413.97 88.68 L414.54 88.69 L415.12 88.71 L415.69 88.72 L416.26 88.73 L416.84 88.74 L417.41 88.75 L417.99 88.76 L418.56 88.77 L419.14 88.78 L419.71 88.79 L420.28 88.80 L420.86 88.81 L421.43 88.82 L422.01 88.82 L422.58 88.83 L423.16 88.84 L423.73 88.85 L424.31 88.86 L424.88 88.86 L425.45 88.87 L426.03 88.88 L426.60 88.89 L427.18 88.89 L427.75 88.90 L428.33 88.90 L428.90 88.91" fill="none" stroke="#be2447" stroke-width="1.1"/>
<path d="M314.60 50.45 L315.17 50.86 L315.75 51.30 L316.32 51.77 L316.90 52.26 L317.47 52.78 L318.05 53.33 L318.62 53.90 L319.19 54.50 L319.77 55.13 L320.34 55.78 L320.92 56.45 L321.49 57.13 L322.07 57.84 L322.64 58.56 L323.22 59.28 L323.79 60.02 L324.36 60.76 L324.94 61.50 L325.51 62.23 L326.09 62.96 L326.66 63.68 L327.24 64.39 L327.81 65.08 L328.38 65.75 L328.96 66.40 L329.53 67.03 L330.11 67.64 L330.68 68.22 L331.26 68.77 L331.83 69.29 L332.41 69.79 L332.98 70.26 L333.55 70.71 L334.13 71.13 L334.70 71.52 L335.28 71.88 L335.85 72.22 L336.43 72.54 L337.00 72.83 L337.57 73.11 L338.15 73.36 L338.72 73.59 L339.30 73.81 L339.87 74.01 L340.45 74.19 L341.02 74.36 L341.60 74.51 L342.17 74.65 L342.74 74.78 L343.32 74.90 L343.89 75.01 L344.47 75.11 L345.04 75.20 L345.62 75.28 L346.19 75.35 L346.76 75.42 L347.34 75.49 L347.91 75.54 L348.49 75.59 L349.06 75.64 L349.64 75.69 L350.21 75.72 L350.79 75.76 L351.36 75.79 L351.93 75.82 L352.51 75.85 L353.08 75.87 L353.66 75.90 L354.23 75.92 L354.81 75.94 L355.38 75.95 L355.95 75.97 L356.53 75.98 L357.10 75.99 L357.68 76.00 L358.25 76.02 L358.83 76.02 L359.40 76.03 L359.98 76.04 L360.55 76.05 L361.12 76.05 L361.70 76.06 L362.27 76.07 L362.85 76.07 L363.42 76.07 L364.00 76.08 L364.57 76.08 L365.14 76.09 L365.72 76.09 L366.29 76.09 L366.87 76.09 L367.44 76.10 L368.02 76.10 L368.59 76.10 L369.17 76.10 L369.74 76.10 L370.31 76.10 L370.89 76.11 L371.46 76.11 L372.04 76.11 L372.61 76.11 L373.19 76.11 L373.76 76.11 L374.33 76.11 L374.91 76.11 L375.48 76.11 L376.06 76.11 L376.63 76.11 L377.21 76.11 L377.78 76.11 L378.36 76.11 L378.93 76.11 L379.50 76.11 L380.08 76.12 L380.65 76.12 L381.23 76.12 L381.80 76.12 L382.38 76.12 L382.95 76.12 L383.52 76.12 L384.10 76.12 L384.67 76.12 L385.25 76.12 L385.82 76.12 L386.40 76.12 L386.97 76.12 L387.55 76.12 L388.12 76.12 L388.69 76.12 L389.27 76.12 L389.84 76.12 L390.42 76.12 L390.99 76.12 L391.57 76.12 L392.14 76.12 L392.71 76.12 L393.29 76.12 L393.86 76.12 L394.44 76.12 L395.01 76.12 L395.59 76.12 L396.16 76.12 L396.74 76.12 L397.31 76.12 L397.88 76.12 L398.46 76.12 L399.03 76.12 L399.61 76.12 L400.18 76.12 L400.76 76.12 L401.33 76.12 L401.90 76.12 L402.48 76.12 L403.05 76.12 L403.63 76.12 L404.20 76.12 L404.78 76.12 L405.35 76.12 L405.93 76.12 L406.50 76.12 L407.07 76.12 L407.65 76.12 L408.22 76.12 L408.80 76.12 L409.37 76.12 L409.95 76.12 L410.52 76.12 L411.09 76.12 L411.67 76.12 L412.24 76.12 L412.82 76.12 L413.39 76.12 L413.97 76.12 L414.54 76.12 L415.12 76.12 L415.69 76.12 L416.26 76.12 L416.84 76.12 L417.41 76.12 L417.99 76.12 L418.56 76.12 L419.14 76.12 L419.71 76.12 L420.28 76.12 L420.86 76.12 L421.43 76.12 L422.01 76.12 L422.58 76.12 L423.16 76.12 L423.73 76.12 L424.31 76.12 L424.88 76.12 L425.45 76.12 L426.03 76.12 L426.60 76.12 L427.18 76.12 L427.75 76.12 L428.33 76.12 L428.90 76.12" fill="none" stroke="#5b3b8c" stroke-width="1.1"/>
<path d="M314.60 46.09 L315.17 46.10 L315.75 46.12 L316.32 46.14 L316.90 46.16 L317.47 46.18 L318.05 46.20 L318.62 46.22 L319.19 46.24 L319.77 46.26 L320.34 46.29 L320.92 46.31 L321.49 46.34 L322.07 46.36 L322.64 46.39 L323.22 46.42 L323.79 46.45 L324.36 46.48 L324.94 46.52 L325.51 46.55 L326.09 46.59 L326.66 46.63 L327.24 46.67 L327.81 46.71 L328.38 46.75 L328.96 46.80 L329.53 46.85 L330.11 46.89 L330.68 46.95 L331.26 47.00 L331.83 47.05 L332.41 47.11 L332.98 47.17 L333.55 47.23 L334.13 47.30 L334.70 47.37 L335.28 47.44 L335.85 47.51 L336.43 47.59 L337.00 47.67 L337.57 47.75 L338.15 47.83 L338.72 47.92 L339.30 48.01 L339.87 48.11 L340.45 48.20 L341.02 48.31 L341.60 48.41 L342.17 48.52 L342.74 48.63 L343.32 48.75 L343.89 48.87 L344.47 48.99 L345.04 49.12 L345.62 49.25 L346.19 49.39 L346.76 49.53 L347.34 49.67 L347.91 49.82 L348.49 49.97 L349.06 50.13 L349.64 50.29 L350.21 50.46 L350.79 50.62 L351.36 50.80 L351.93 50.97 L352.51 51.16 L353.08 51.34 L353.66 51.53 L354.23 51.72 L354.81 51.92 L355.38 52.12 L355.95 52.32 L356.53 52.53 L357.10 52.74 L357.68 52.95 L358.25 53.17 L358.83 53.39 L359.40 53.61 L359.98 53.83 L360.55 54.06 L361.12 54.28 L361.70 54.51 L362.27 54.74 L362.85 54.97 L363.42 55.21 L364.00 55.44 L364.57 55.67 L365.14 55.91 L365.72 56.14 L366.29 56.38 L366.87 56.61 L367.44 56.84 L368.02 57.07 L368.59 57.30 L369.17 57.53 L369.74 57.76 L370.31 57.98 L370.89 58.21 L371.46 58.43 L372.04 58.64 L372.61 58.86 L373.19 59.07 L373.76 59.28 L374.33 59.49 L374.91 59.69 L375.48 59.89 L376.06 60.08 L376.63 60.28 L377.21 60.46 L377.78 60.65 L378.36 60.83 L378.93 61.00 L379.50 61.18 L380.08 61.34 L380.65 61.51 L381.23 61.67 L381.80 61.82 L382.38 61.97 L382.95 62.12 L383.52 62.26 L384.10 62.40 L384.67 62.54 L385.25 62.67 L385.82 62.80 L386.40 62.92 L386.97 63.04 L387.55 63.15 L388.12 63.27 L388.69 63.37 L389.27 63.48 L389.84 63.58 L390.42 63.68 L390.99 63.77 L391.57 63.86 L392.14 63.95 L392.71 64.03 L393.29 64.11 L393.86 64.19 L394.44 64.26 L395.01 64.34 L395.59 64.41 L396.16 64.47 L396.74 64.54 L397.31 64.60 L397.88 64.66 L398.46 64.72 L399.03 64.77 L399.61 64.82 L400.18 64.87 L400.76 64.92 L401.33 64.97 L401.90 65.01 L402.48 65.06 L403.05 65.10 L403.63 65.14 L404.20 65.18 L404.78 65.21 L405.35 65.25 L405.93 65.28 L406.50 65.31 L407.07 65.34 L407.65 65.37 L408.22 65.40 L408.80 65.43 L409.37 65.45 L409.95 65.48 L410.52 65.50 L411.09 65.52 L411.67 65.54 L412.24 65.57 L412.82 65.59 L413.39 65.60 L413.97 65.62 L414.54 65.64 L415.12 65.66 L415.69 65.67 L416.26 65.69 L416.84 65.70 L417.41 65.72 L417.99 65.73 L418.56 65.74 L419.14 65.75 L419.71 65.76 L420.28 65.78 L420.86 65.79 L421.43 65.80 L422.01 65.81 L422.58 65.82 L423.16 65.82 L423.73 65.83 L424.31 65.84 L424.88 65.85 L425.45 65.86 L426.03 65.86 L426.60 65.87 L427.18 65.88 L427.75 65.88 L428.33 65.89 L428.90 65.89" fill="none" stroke="#e8962a" stroke-width="1.1"/>
<path d="M314.60 47.79 L315.17 47.96 L315.75 48.14 L316.32 48.33 L316.90 48.51 L317.47 48.69 L318.05 48.87 L318.62 49.06 L319.19 49.25 L319.77 49.43 L320.34 49.62 L320.92 49.81 L321.49 50.00 L322.07 50.19 L322.64 50.38 L323.22 50.57 L323.79 50.77 L324.36 50.96 L324.94 51.15 L325.51 51.35 L326.09 51.54 L326.66 51.73 L327.24 51.93 L327.81 52.12 L328.38 52.32 L328.96 52.51 L329.53 52.71 L330.11 52.90 L330.68 53.10 L331.26 53.29 L331.83 53.48 L332.41 53.68 L332.98 53.87 L333.55 54.06 L334.13 54.25 L334.70 54.44 L335.28 54.64 L335.85 54.83 L336.43 55.01 L337.00 55.20 L337.57 55.39 L338.15 55.58 L338.72 55.76 L339.30 55.95 L339.87 56.13 L340.45 56.31 L341.02 56.49 L341.60 56.67 L342.17 56.85 L342.74 57.03 L343.32 57.21 L343.89 57.38 L344.47 57.55 L345.04 57.72 L345.62 57.89 L346.19 58.06 L346.76 58.23 L347.34 58.40 L347.91 58.56 L348.49 58.72 L349.06 58.88 L349.64 59.04 L350.21 59.20 L350.79 59.35 L351.36 59.51 L351.93 59.66 L352.51 59.81 L353.08 59.95 L353.66 60.10 L354.23 60.25 L354.81 60.39 L355.38 60.53 L355.95 60.67 L356.53 60.80 L357.10 60.94 L357.68 61.07 L358.25 61.20 L358.83 61.33 L359.40 61.46 L359.98 61.58 L360.55 61.71 L361.12 61.83 L361.70 61.95 L362.27 62.07 L362.85 62.18 L363.42 62.30 L364.00 62.41 L364.57 62.52 L365.14 62.63 L365.72 62.74 L366.29 62.84 L366.87 62.94 L367.44 63.05 L368.02 63.15 L368.59 63.24 L369.17 63.34 L369.74 63.43 L370.31 63.53 L370.89 63.62 L371.46 63.71 L372.04 63.80 L372.61 63.88 L373.19 63.97 L373.76 64.05 L374.33 64.13 L374.91 64.21 L375.48 64.29 L376.06 64.37 L376.63 64.44 L377.21 64.51 L377.78 64.59 L378.36 64.66 L378.93 64.73 L379.50 64.79 L380.08 64.86 L380.65 64.93 L381.23 64.99 L381.80 65.05 L382.38 65.11 L382.95 65.17 L383.52 65.23 L384.10 65.29 L384.67 65.35 L385.25 65.40 L385.82 65.46 L386.40 65.51 L386.97 65.56 L387.55 65.61 L388.12 65.66 L388.69 65.71 L389.27 65.76 L389.84 65.80 L390.42 65.85 L390.99 65.89 L391.57 65.94 L392.14 65.98 L392.71 66.02 L393.29 66.06 L393.86 66.10 L394.44 66.14 L395.01 66.18 L395.59 66.22 L396.16 66.25 L396.74 66.29 L397.31 66.32 L397.88 66.36 L398.46 66.39 L399.03 66.42 L399.61 66.45 L400.18 66.48 L400.76 66.51 L401.33 66.54 L401.90 66.57 L402.48 66.60 L403.05 66.63 L403.63 66.65 L404.20 66.68 L404.78 66.71 L405.35 66.73 L405.93 66.76 L406.50 66.78 L407.07 66.80 L407.65 66.83 L408.22 66.85 L408.80 66.87 L409.37 66.89 L409.95 66.91 L410.52 66.93 L411.09 66.95 L411.67 66.97 L412.24 66.99 L412.82 67.01 L413.39 67.02 L413.97 67.04 L414.54 67.06 L415.12 67.08 L415.69 67.09 L416.26 67.11 L416.84 67.12 L417.41 67.14 L417.99 67.15 L418.56 67.17 L419.14 67.18 L419.71 67.20 L420.28 67.21 L420.86 67.22 L421.43 67.23 L422.01 67.25 L422.58 67.26 L423.16 67.27 L423.73 67.28 L424.31 67.29 L424.88 67.31 L425.45 67.32 L426.03 67.33 L426.60 67.34 L427.18 67.35 L427.75 67.36 L428.33 67.37 L428.90 67.38" fill="none" stroke="#5fa83a" stroke-width="1.1"/>
<path d="M314.60 45.37 L315.17 45.55 L315.75 45.72 L316.32 45.91 L316.90 46.09 L317.47 46.28 L318.05 46.47 L318.62 46.66 L319.19 46.85 L319.77 47.05 L320.34 47.25 L320.92 47.45 L321.49 47.66 L322.07 47.86 L322.64 48.07 L323.22 48.28 L323.79 48.49 L324.36 48.71 L324.94 48.92 L325.51 49.14 L326.09 49.36 L326.66 49.58 L327.24 49.81 L327.81 50.03 L328.38 50.26 L328.96 50.49 L329.53 50.72 L330.11 50.95 L330.68 51.19 L331.26 51.42 L331.83 51.66 L332.41 51.89 L332.98 52.13 L333.55 52.37 L334.13 52.61 L334.70 52.85 L335.28 53.09 L335.85 53.34 L336.43 53.58 L337.00 53.82 L337.57 54.07 L338.15 54.31 L338.72 54.56 L339.30 54.80 L339.87 55.04 L340.45 55.29 L341.02 55.53 L341.60 55.78 L342.17 56.02 L342.74 56.26 L343.32 56.51 L343.89 56.75 L344.47 56.99 L345.04 57.23 L345.62 57.47 L346.19 57.71 L346.76 57.95 L347.34 58.18 L347.91 58.42 L348.49 58.65 L349.06 58.88 L349.64 59.12 L350.21 59.35 L350.79 59.57 L351.36 59.80 L351.93 60.03 L352.51 60.25 L353.08 60.47 L353.66 60.69 L354.23 60.91 L354.81 61.12 L355.38 61.34 L355.95 61.55 L356.53 61.76 L357.10 61.96 L357.68 62.17 L358.25 62.37 L358.83 62.57 L359.40 62.77 L359.98 62.97 L360.55 63.16 L361.12 63.35 L361.70 63.54 L362.27 63.72 L362.85 63.91 L363.42 64.09 L364.00 64.27 L364.57 64.44 L365.14 64.62 L365.72 64.79 L366.29 64.95 L366.87 65.12 L367.44 65.28 L368.02 65.44 L368.59 65.60 L369.17 65.76 L369.74 65.91 L370.31 66.06 L370.89 66.21 L371.46 66.35 L372.04 66.50 L372.61 66.64 L373.19 66.77 L373.76 66.91 L374.33 67.04 L374.91 67.17 L375.48 67.30 L376.06 67.43 L376.63 67.55 L377.21 67.67 L377.78 67.79 L378.36 67.90 L378.93 68.02 L379.50 68.13 L380.08 68.24 L380.65 68.35 L381.23 68.45 L381.80 68.55 L382.38 68.66 L382.95 68.75 L383.52 68.85 L384.10 68.95 L384.67 69.04 L385.25 69.13 L385.82 69.22 L386.40 69.30 L386.97 69.39 L387.55 69.47 L388.12 69.55 L388.69 69.63 L389.27 69.71 L389.84 69.79 L390.42 69.86 L390.99 69.93 L391.57 70.00 L392.14 70.07 L392.71 70.14 L393.29 70.21 L393.86 70.27 L394.44 70.33 L395.01 70.40 L395.59 70.46 L396.16 70.51 L396.74 70.57 L397.31 70.63 L397.88 70.68 L398.46 70.74 L399.03 70.79 L399.61 70.84 L400.18 70.89 L400.76 70.94 L401.33 70.98 L401.90 71.03 L402.48 71.08 L403.05 71.12 L403.63 71.16 L404.20 71.20 L404.78 71.25 L405.35 71.28 L405.93 71.32 L406.50 71.36 L407.07 71.40 L407.65 71.43 L408.22 71.47 L408.80 71.50 L409.37 71.54 L409.95 71.57 L410.52 71.60 L411.09 71.63 L411.67 71.66 L412.24 71.69 L412.82 71.72 L413.39 71.75 L413.97 71.78 L414.54 71.80 L415.12 71.83 L415.69 71.85 L416.26 71.88 L416.84 71.90 L417.41 71.92 L417.99 71.95 L418.56 71.97 L419.14 71.99 L419.71 72.01 L420.28 72.03 L420.86 72.05 L421.43 72.07 L422.01 72.09 L422.58 72.11 L423.16 72.13 L423.73 72.14 L424.31 72.16 L424.88 72.18 L425.45 72.19 L426.03 72.21 L426.60 72.23 L427.18 72.24 L427.75 72.25 L428.33 72.27 L428.90 72.28" fill="none" stroke="#57a5e3" stroke-width="1.1"/>
<line x1="308.00" y1="83.5" x2="436.00" y2="83.5" stroke="#111" stroke-width="1" stroke-dasharray="1 1"/>
<path d="M314.60 43.53V45.06M312.60 43.53H316.60M312.60 45.06H316.60" stroke="#34569a" stroke-width="0.9" fill="none"/>
<path d="M341.23 81.37V84.43M339.23 81.37H343.23M339.23 84.43H343.23" stroke="#34569a" stroke-width="0.9" fill="none"/>
<path d="M352.70 104.50V115.23M350.70 104.50H354.70M350.70 115.23H354.70" stroke="#34569a" stroke-width="0.9" fill="none"/>
<path d="M379.33 117.52V119.06M377.33 117.52H381.33M377.33 119.06H381.33" stroke="#34569a" stroke-width="0.9" fill="none"/>
<path d="M390.80 117.37V118.90M388.80 117.37H392.80M388.80 118.90H392.80" stroke="#34569a" stroke-width="0.9" fill="none"/>
<path d="M417.43 116.22V117.75M415.43 116.22H419.43M415.43 117.75H419.43" stroke="#34569a" stroke-width="0.9" fill="none"/>
<path d="M428.90 117.37V118.90M426.90 117.37H430.90M426.90 118.90H430.90" stroke="#34569a" stroke-width="0.9" fill="none"/>
<circle cx="314.60" cy="44.29" r="1.90" fill="#fff" stroke="#2a4a8a" stroke-width="1"/>
<circle cx="341.23" cy="82.90" r="1.90" fill="#fff" stroke="#2a4a8a" stroke-width="1"/>
<circle cx="352.70" cy="109.86" r="1.90" fill="#fff" stroke="#2a4a8a" stroke-width="1"/>
<circle cx="379.33" cy="118.29" r="1.90" fill="#fff" stroke="#2a4a8a" stroke-width="1"/>
<circle cx="390.80" cy="118.14" r="1.90" fill="#fff" stroke="#2a4a8a" stroke-width="1"/>
<circle cx="417.43" cy="116.99" r="1.90" fill="#fff" stroke="#2a4a8a" stroke-width="1"/>
<circle cx="428.90" cy="118.14" r="1.90" fill="#fff" stroke="#2a4a8a" stroke-width="1"/>
<path d="M314.60 51.88V54.94M312.60 51.88H316.60M312.60 54.94H316.60" stroke="#be2447" stroke-width="0.9" fill="none"/>
<path d="M341.23 75.24V79.84M339.23 75.24H343.23M339.23 79.84H343.23" stroke="#be2447" stroke-width="0.9" fill="none"/>
<path d="M352.70 79.38V85.50M350.70 79.38H354.70M350.70 85.50H354.70" stroke="#be2447" stroke-width="0.9" fill="none"/>
<path d="M379.33 80.30V92.55M377.33 80.30H381.33M377.33 92.55H381.33" stroke="#be2447" stroke-width="0.9" fill="none"/>
<path d="M390.80 76.77V98.22M388.80 76.77H392.80M388.80 98.22H392.80" stroke="#be2447" stroke-width="0.9" fill="none"/>
<path d="M417.43 82.90V101.28M415.43 82.90H419.43M415.43 101.28H419.43" stroke="#be2447" stroke-width="0.9" fill="none"/>
<path d="M428.90 74.86V101.67M426.90 74.86H430.90M426.90 101.67H430.90" stroke="#be2447" stroke-width="0.9" fill="none"/>
<path d="M312.80 52.15L316.40 52.15L314.60 55.03Z" fill="#b0102e"/>
<path d="M339.43 76.28L343.03 76.28L341.23 79.16Z" fill="#b0102e"/>
<path d="M350.90 81.18L354.50 81.18L352.70 84.06Z" fill="#b0102e"/>
<path d="M377.53 85.16L381.13 85.16L379.33 88.04Z" fill="#b0102e"/>
<path d="M389.00 86.24L392.60 86.24L390.80 89.12Z" fill="#b0102e"/>
<path d="M415.63 90.83L419.23 90.83L417.43 93.71Z" fill="#b0102e"/>
<path d="M427.10 87.00L430.70 87.00L428.90 89.88Z" fill="#b0102e"/>
<path d="M314.60 47.36V53.49M312.60 47.36H316.60M312.60 53.49H316.60" stroke="#5b3b8c" stroke-width="0.9" fill="none"/>
<path d="M341.23 69.88V79.07M339.23 69.88H343.23M339.23 79.07H343.23" stroke="#5b3b8c" stroke-width="0.9" fill="none"/>
<path d="M352.70 73.33V77.92M350.70 73.33H354.70M350.70 77.92H354.70" stroke="#5b3b8c" stroke-width="0.9" fill="none"/>
<path d="M379.33 73.10V79.22M377.33 73.10H381.33M377.33 79.22H381.33" stroke="#5b3b8c" stroke-width="0.9" fill="none"/>
<path d="M390.80 73.10V79.22M388.80 73.10H392.80M388.80 79.22H392.80" stroke="#5b3b8c" stroke-width="0.9" fill="none"/>
<path d="M417.43 73.10V79.22M415.43 73.10H419.43M415.43 79.22H419.43" stroke="#5b3b8c" stroke-width="0.9" fill="none"/>
<path d="M428.90 73.10V79.22M426.90 73.10H430.90M426.90 79.22H430.90" stroke="#5b3b8c" stroke-width="0.9" fill="none"/>
<circle cx="314.60" cy="50.42" r="1.30" fill="#3a105e"/>
<circle cx="341.23" cy="74.47" r="1.30" fill="#3a105e"/>
<circle cx="352.70" cy="75.62" r="1.30" fill="#3a105e"/>
<circle cx="379.33" cy="76.16" r="1.30" fill="#3a105e"/>
<circle cx="390.80" cy="76.16" r="1.30" fill="#3a105e"/>
<circle cx="417.43" cy="76.16" r="1.30" fill="#3a105e"/>
<circle cx="428.90" cy="76.16" r="1.30" fill="#3a105e"/>
<path d="M314.60 45.37V46.90M312.60 45.37H316.60M312.60 46.90H316.60" stroke="#e8962a" stroke-width="0.9" fill="none"/>
<path d="M341.23 46.90V49.96M339.23 46.90H343.23M339.23 49.96H343.23" stroke="#e8962a" stroke-width="0.9" fill="none"/>
<path d="M352.70 44.98V57.24M350.70 44.98H354.70M350.70 57.24H354.70" stroke="#e8962a" stroke-width="0.9" fill="none"/>
<path d="M379.33 53.79V69.11M377.33 53.79H381.33M377.33 69.11H381.33" stroke="#e8962a" stroke-width="0.9" fill="none"/>
<path d="M390.80 52.64V74.09M388.80 52.64H392.80M388.80 74.09H392.80" stroke="#e8962a" stroke-width="0.9" fill="none"/>
<path d="M417.43 54.56V76.01M415.43 54.56H419.43M415.43 76.01H419.43" stroke="#e8962a" stroke-width="0.9" fill="none"/>
<path d="M428.90 56.47V76.39M426.90 56.47H430.90M426.90 76.39H430.90" stroke="#e8962a" stroke-width="0.9" fill="none"/>
<path d="M314.60 44.33L316.40 46.13L314.60 47.93L312.80 46.13Z" fill="#e08a14"/>
<path d="M341.23 46.63L343.03 48.43L341.23 50.23L339.43 48.43Z" fill="#e08a14"/>
<path d="M352.70 49.31L354.50 51.11L352.70 52.91L350.90 51.11Z" fill="#e08a14"/>
<path d="M379.33 59.65L381.13 61.45L379.33 63.25L377.53 61.45Z" fill="#e08a14"/>
<path d="M390.80 61.57L392.60 63.37L390.80 65.17L389.00 63.37Z" fill="#e08a14"/>
<path d="M417.43 63.48L419.23 65.28L417.43 67.08L415.63 65.28Z" fill="#e08a14"/>
<path d="M428.90 64.63L430.70 66.43L428.90 68.23L427.10 66.43Z" fill="#e08a14"/>
<path d="M314.60 45.37V46.90M312.60 45.37H316.60M312.60 46.90H316.60" stroke="#5fa83a" stroke-width="0.9" fill="none"/>
<path d="M341.23 59.15V63.75M339.23 59.15H343.23M339.23 63.75H343.23" stroke="#5fa83a" stroke-width="0.9" fill="none"/>
<path d="M352.70 54.02V58.62M350.70 54.02H354.70M350.70 58.62H354.70" stroke="#5fa83a" stroke-width="0.9" fill="none"/>
<path d="M379.33 58.62V69.34M377.33 58.62H381.33M377.33 69.34H381.33" stroke="#5fa83a" stroke-width="0.9" fill="none"/>
<path d="M390.80 59.92V70.64M388.80 59.92H392.80M388.80 70.64H392.80" stroke="#5fa83a" stroke-width="0.9" fill="none"/>
<path d="M417.43 62.22V74.47M415.43 62.22H419.43M415.43 74.47H419.43" stroke="#5fa83a" stroke-width="0.9" fill="none"/>
<path d="M428.90 61.45V73.71M426.90 61.45H430.90M426.90 73.71H430.90" stroke="#5fa83a" stroke-width="0.9" fill="none"/>
<rect x="312.90" y="44.43" width="3.40" height="3.40" fill="#4a9a2a"/>
<rect x="339.53" y="59.75" width="3.40" height="3.40" fill="#4a9a2a"/>
<rect x="351.00" y="54.62" width="3.40" height="3.40" fill="#4a9a2a"/>
<rect x="377.63" y="62.28" width="3.40" height="3.40" fill="#4a9a2a"/>
<rect x="389.10" y="63.58" width="3.40" height="3.40" fill="#4a9a2a"/>
<rect x="415.73" y="66.65" width="3.40" height="3.40" fill="#4a9a2a"/>
<rect x="427.20" y="65.88" width="3.40" height="3.40" fill="#4a9a2a"/>
<path d="M314.60 44.06V45.60M312.60 44.06H316.60M312.60 45.60H316.60" stroke="#57a5e3" stroke-width="0.9" fill="none"/>
<path d="M341.23 49.20V58.39M339.23 49.20H343.23M339.23 58.39H343.23" stroke="#57a5e3" stroke-width="0.9" fill="none"/>
<path d="M352.70 54.79V67.04M350.70 54.79H354.70M350.70 67.04H354.70" stroke="#57a5e3" stroke-width="0.9" fill="none"/>
<path d="M379.33 60.69V71.41M377.33 60.69H381.33M377.33 71.41H381.33" stroke="#57a5e3" stroke-width="0.9" fill="none"/>
<path d="M390.80 62.22V72.94M388.80 62.22H392.80M388.80 72.94H392.80" stroke="#57a5e3" stroke-width="0.9" fill="none"/>
<path d="M417.43 64.13V76.39M415.43 64.13H419.43M415.43 76.39H419.43" stroke="#57a5e3" stroke-width="0.9" fill="none"/>
<path d="M428.90 66.05V78.30M426.90 66.05H430.90M426.90 78.30H430.90" stroke="#57a5e3" stroke-width="0.9" fill="none"/>
<circle cx="314.60" cy="44.83" r="1.60" fill="#4e9fe0"/>
<circle cx="341.23" cy="53.79" r="1.60" fill="#4e9fe0"/>
<circle cx="352.70" cy="60.92" r="1.60" fill="#4e9fe0"/>
<circle cx="379.33" cy="66.05" r="1.60" fill="#4e9fe0"/>
<circle cx="390.80" cy="67.58" r="1.60" fill="#4e9fe0"/>
<circle cx="417.43" cy="70.26" r="1.60" fill="#4e9fe0"/>
<circle cx="428.90" cy="72.18" r="1.60" fill="#4e9fe0"/>
<path d="M307.50 36.6V122.10" stroke="#231f20" stroke-width="1.2" fill="none"/>
<path d="M304.30 122.10H436.00" stroke="#231f20" stroke-width="1.2" fill="none"/>
<path d="M304.60 44.60H307.50" stroke="#231f20" stroke-width="1.1"/>
<text x="301.40" y="47.40" font-size="8.5" text-anchor="end" fill="#231f20" textLength="13.76" lengthAdjust="spacingAndGlyphs" stroke="#231f20" stroke-width="0.06" >100</text>
<path d="M304.60 82.90H307.50" stroke="#231f20" stroke-width="1.1"/>
<text x="301.40" y="85.70" font-size="8.5" text-anchor="end" fill="#231f20" textLength="9.17" lengthAdjust="spacingAndGlyphs" stroke="#231f20" stroke-width="0.06" >50</text>
<path d="M304.60 122.10H307.50" stroke="#231f20" stroke-width="1.1"/>
<text x="301.40" y="124.90" font-size="8.5" text-anchor="end" fill="#231f20" textLength="4.59" lengthAdjust="spacingAndGlyphs" stroke="#231f20" stroke-width="0.06" >0</text>
<path d="M314.60 122.10V125.00" stroke="#231f20" stroke-width="1.1"/>
<text x="314.60" y="135.80" font-size="8.5" text-anchor="middle" fill="#231f20" textLength="14.89" lengthAdjust="spacingAndGlyphs" stroke="#231f20" stroke-width="0.06" >0.01</text>
<path d="M341.23 122.10V125.00" stroke="#231f20" stroke-width="1.1"/>
<text x="338.43" y="135.80" font-size="8.5" text-anchor="middle" fill="#231f20" textLength="14.89" lengthAdjust="spacingAndGlyphs" stroke="#231f20" stroke-width="0.06" >0.05</text>
<path d="M352.70 122.10V125.00" stroke="#231f20" stroke-width="1.1"/>
<text x="353.40" y="135.80" font-size="8.5" text-anchor="middle" fill="#231f20" textLength="10.63" lengthAdjust="spacingAndGlyphs" stroke="#231f20" stroke-width="0.06" >0.1</text>
<path d="M379.33 122.10V125.00" stroke="#231f20" stroke-width="1.1"/>
<text x="379.33" y="135.80" font-size="8.5" text-anchor="middle" fill="#231f20" textLength="10.63" lengthAdjust="spacingAndGlyphs" stroke="#231f20" stroke-width="0.06" >0.5</text>
<path d="M390.80 122.10V125.00" stroke="#231f20" stroke-width="1.1"/>
<text x="390.80" y="135.80" font-size="8.5" text-anchor="middle" fill="#231f20" textLength="4.25" lengthAdjust="spacingAndGlyphs" stroke="#231f20" stroke-width="0.06" >1</text>
<path d="M417.43 122.10V125.00" stroke="#231f20" stroke-width="1.1"/>
<text x="417.43" y="135.80" font-size="8.5" text-anchor="middle" fill="#231f20" textLength="4.25" lengthAdjust="spacingAndGlyphs" stroke="#231f20" stroke-width="0.06" >5</text>
<path d="M428.90 122.10V125.00" stroke="#231f20" stroke-width="1.1"/>
<text x="428.90" y="135.80" font-size="8.5" text-anchor="middle" fill="#231f20" textLength="8.51" lengthAdjust="spacingAndGlyphs" stroke="#231f20" stroke-width="0.06" >10</text>
<text x="371.60" y="148.10" font-size="9.9" text-anchor="middle" fill="#231f20" textLength="59.0" lengthAdjust="spacingAndGlyphs" stroke="#231f20" stroke-width="0.35" >Concentration (μM)</text>
<text transform="translate(282.80,79.7) rotate(-90)" x="0" y="0" font-size="10.4" text-anchor="middle" fill="#231f20" stroke="#231f20" stroke-width="0.2" textLength="59.8" lengthAdjust="spacingAndGlyphs">% live cells / DMSO</text>
<path d="M438.80 43.30H448.60" stroke="#57a5e3" stroke-width="1.1"/>
<circle cx="443.70" cy="43.30" r="1.52" fill="#4e9fe0"/>
<text x="451.70" y="45.90" font-size="8.4" text-anchor="start" fill="#231f20" textLength="19.9" lengthAdjust="spacingAndGlyphs" stroke="#231f20" stroke-width="0.18" >SNK6</text>
<path d="M438.80 55.40H448.60" stroke="#5fa83a" stroke-width="1.1"/>
<rect x="442.08" y="53.78" width="3.23" height="3.23" fill="#4a9a2a"/>
<text x="451.70" y="58.00" font-size="8.4" text-anchor="start" fill="#231f20" textLength="19.0" lengthAdjust="spacingAndGlyphs" stroke="#231f20" stroke-width="0.18" >SNT8</text>
<path d="M438.80 67.10H448.60" stroke="#e8962a" stroke-width="1.1"/>
<path d="M443.70 65.39L445.41 67.10L443.70 68.81L441.99 67.10Z" fill="#e08a14"/>
<text x="451.70" y="69.70" font-size="8.4" text-anchor="start" fill="#231f20" textLength="24.5" lengthAdjust="spacingAndGlyphs" stroke="#231f20" stroke-width="0.18" >SNT15</text>
<path d="M438.80 79.00H448.60" stroke="#5b3b8c" stroke-width="1.1"/>
<circle cx="443.70" cy="79.00" r="1.23" fill="#3a105e"/>
<text x="451.70" y="81.60" font-size="8.4" text-anchor="start" fill="#231f20" textLength="24.5" lengthAdjust="spacingAndGlyphs" stroke="#231f20" stroke-width="0.18" >SNT16</text>
<path d="M438.80 90.90H448.60" stroke="#be2447" stroke-width="1.1"/>
<path d="M441.99 89.70L445.41 89.70L443.70 92.44Z" fill="#b0102e"/>
<text x="451.70" y="93.50" font-size="8.4" text-anchor="start" fill="#231f20" textLength="25.5" lengthAdjust="spacingAndGlyphs" stroke="#231f20" stroke-width="0.18" >MEC04</text>
<path d="M438.80 102.80H448.60" stroke="#34569a" stroke-width="1.1"/>
<circle cx="443.70" cy="102.80" r="1.80" fill="#fff" stroke="#2a4a8a" stroke-width="1"/>
<text x="451.70" y="105.40" font-size="8.4" text-anchor="start" fill="#231f20" textLength="25.5" lengthAdjust="spacingAndGlyphs" stroke="#231f20" stroke-width="0.18" >MOLT4</text>
<path d="M479.60 39.4H484.40V93.4H480.10" stroke="#231f20" stroke-width="1.1" fill="none"/>
<text x="487.40" y="64.80" font-size="8.3" text-anchor="start" fill="#231f20" textLength="25.5" lengthAdjust="spacingAndGlyphs" stroke="#231f20" stroke-width="0.18" >ENKTL/</text>
<text x="487.40" y="73.30" font-size="8.3" text-anchor="start" fill="#231f20" textLength="25" lengthAdjust="spacingAndGlyphs" stroke="#231f20" stroke-width="0.18" >CAEBV</text>
<text x="7.30" y="177.00" font-size="12" text-anchor="start" fill="#000" font-weight="bold" stroke="#000" stroke-width="0.18" >C</text>
<text x="51.00" y="191.80" font-size="10.4" text-anchor="middle" fill="#231f20" textLength="20.7" lengthAdjust="spacingAndGlyphs" stroke="#231f20" stroke-width="0.12" >KG-1</text>
<rect x="25.00" y="196.60" width="53.70" height="52.90" fill="none" stroke="#1a1a1a" stroke-width="1.1"/>
<path d="M25.50 249.50 L25.83 249.50 L26.16 249.50 L26.49 249.50 L26.83 249.50 L27.16 249.50 L27.49 249.50 L27.82 249.50 L28.15 249.50 L28.48 249.50 L28.81 249.50 L29.15 249.50 L29.48 249.50 L29.81 249.50 L30.14 249.50 L30.47 249.50 L30.80 249.50 L31.13 249.50 L31.47 249.50 L31.80 249.50 L32.13 249.50 L32.46 249.50 L32.79 249.50 L33.12 249.50 L33.45 249.50 L33.79 249.50 L34.12 249.50 L34.45 249.50 L34.78 249.50 L35.11 249.50 L35.44 249.50 L35.77 249.50 L36.11 249.50 L36.44 249.50 L36.77 249.50 L37.10 249.50 L37.43 249.49 L37.76 249.49 L38.00 249.48 L38.09 249.48 L38.13 249.48 L38.27 249.47 L38.40 249.47 L38.43 249.47 L38.54 249.46 L38.67 249.45 L38.76 249.45 L38.81 249.44 L38.94 249.43 L39.08 249.42 L39.09 249.42 L39.21 249.40 L39.34 249.38 L39.42 249.37 L39.48 249.36 L39.61 249.34 L39.75 249.30 L39.75 249.30 L39.88 249.27 L40.02 249.22 L40.08 249.20 L40.15 249.17 L40.29 249.11 L40.42 249.05 L40.42 249.05 L40.55 248.97 L40.69 248.87 L40.75 248.83 L40.82 248.76 L40.96 248.64 L41.08 248.51 L41.09 248.49 L41.23 248.32 L41.36 248.13 L41.41 248.05 L41.50 247.91 L41.63 247.65 L41.74 247.42 L41.76 247.36 L41.90 247.03 L42.03 246.66 L42.07 246.54 L42.17 246.23 L42.30 245.75 L42.40 245.35 L42.44 245.21 L42.57 244.60 L42.71 243.91 L42.74 243.75 L42.84 243.15 L42.97 242.30 L43.07 241.66 L43.11 241.35 L43.24 240.30 L43.38 239.15 L43.40 238.97 L43.51 237.88 L43.65 236.50 L43.73 235.59 L43.78 234.99 L43.92 233.35 L44.05 231.59 L44.06 231.44 L44.18 229.69 L44.32 227.66 L44.39 226.51 L44.45 225.51 L44.59 223.25 L44.72 220.88 L44.72 220.85 L44.86 218.42 L44.99 215.89 L45.06 214.67 L45.13 213.32 L45.26 210.74 L45.39 208.36 L45.39 208.21 L45.53 205.78 L45.66 203.53 L45.72 202.69 L45.80 201.56 L45.93 200.08 L46.05 199.93 L46.07 200.05 L46.20 201.41 L46.34 203.21 L46.38 203.89 L46.47 205.30 L46.61 207.55 L46.71 209.44 L46.74 209.92 L46.87 212.33 L47.01 214.76 L47.04 215.40 L47.14 217.16 L47.28 219.51 L47.38 221.19 L47.41 221.79 L47.55 223.99 L47.68 226.10 L47.71 226.49 L47.82 228.09 L47.95 229.98 L48.04 231.16 L48.08 231.75 L48.22 233.40 L48.35 234.94 L48.37 235.13 L48.49 236.37 L48.62 237.69 L48.70 238.42 L48.76 238.90 L48.89 240.01 L49.03 241.02 L49.03 241.08 L49.16 241.95 L49.29 242.78 L49.36 243.19 L49.43 243.54 L49.56 244.22 L49.70 244.83 L49.70 244.84 L49.83 245.39 L49.97 245.88 L50.03 246.09 L50.10 246.32 L50.24 246.72 L50.36 247.04 L50.37 247.06 L50.50 247.37 L50.64 247.65 L50.69 247.74 L50.77 247.89 L50.91 248.10 L51.02 248.26 L51.04 248.29 L51.18 248.45 L51.31 248.59 L51.35 248.63 L51.45 248.72 L51.58 248.83 L51.68 248.90 L51.71 248.92 L51.85 249.00 L51.98 249.07 L52.02 249.09 L52.12 249.13 L52.25 249.19 L52.35 249.22 L52.39 249.23 L52.52 249.27 L52.66 249.31 L52.68 249.31 L52.79 249.34 L52.92 249.36 L53.01 249.38 L53.06 249.38 L53.19 249.40 L53.33 249.42 L53.34 249.42 L53.46 249.43 L53.60 249.44 L53.67 249.45 L53.73 249.45 L53.87 249.46 L54.00 249.46 L54.00 249.46 L54.34 249.48 L54.67 249.49 L55.00 249.49 L55.33 249.49 L55.66 249.50 L55.99 249.50 L56.32 249.50 L56.66 249.50 L56.99 249.50 L57.32 249.50 L57.65 249.50 L57.98 249.50 L58.31 249.50 L58.64 249.50 L58.98 249.50 L59.31 249.50 L59.64 249.50 L59.97 249.50 L60.30 249.50 L60.63 249.50 L60.96 249.50 L61.30 249.50 L61.63 249.50 L61.96 249.50 L62.29 249.50 L62.62 249.50 L62.95 249.50 L63.28 249.50 L63.62 249.50 L63.95 249.50 L64.28 249.50 L64.61 249.50 L64.94 249.50 L65.27 249.50 L65.61 249.50 L65.94 249.50 L66.27 249.50 L66.60 249.50 L66.93 249.50 L67.26 249.50 L67.59 249.50 L67.93 249.50 L68.26 249.50 L68.59 249.50 L68.92 249.50 L69.25 249.50 L69.58 249.50 L69.91 249.50 L70.25 249.50 L70.58 249.50 L70.91 249.50 L71.24 249.50 L71.57 249.50 L71.90 249.50 L72.23 249.50 L72.57 249.50 L72.90 249.50 L73.23 249.50 L73.56 249.50 L73.89 249.50 L74.22 249.50 L74.55 249.50 L74.89 249.50 L75.22 249.50 L75.55 249.50 L75.88 249.50 L76.21 249.50 L76.54 249.50 L76.87 249.50 L77.21 249.50 L77.54 249.50 L77.87 249.50 L78.20 249.50 L78.20 249.50 L25.50 249.50Z" fill="#3f495b" stroke="#4c566a" stroke-width="0.6"/>
<path d="M25.50 249.50 L25.83 249.50 L26.16 249.50 L26.49 249.50 L26.83 249.50 L27.16 249.50 L27.49 249.50 L27.82 249.50 L28.15 249.50 L28.48 249.50 L28.81 249.50 L29.15 249.50 L29.48 249.50 L29.81 249.50 L30.14 249.50 L30.47 249.50 L30.80 249.50 L31.13 249.50 L31.47 249.50 L31.80 249.50 L32.13 249.50 L32.46 249.50 L32.79 249.50 L33.12 249.50 L33.45 249.50 L33.79 249.50 L34.12 249.50 L34.45 249.50 L34.78 249.50 L35.11 249.50 L35.44 249.50 L35.77 249.50 L36.11 249.50 L36.44 249.50 L36.77 249.50 L37.10 249.50 L37.43 249.50 L37.76 249.50 L38.09 249.50 L38.43 249.50 L38.76 249.50 L39.09 249.50 L39.42 249.50 L39.75 249.50 L40.08 249.50 L40.42 249.50 L40.75 249.50 L41.08 249.50 L41.41 249.50 L41.74 249.50 L42.07 249.50 L42.40 249.50 L42.74 249.50 L43.07 249.50 L43.40 249.50 L43.73 249.50 L44.06 249.50 L44.39 249.50 L44.72 249.50 L45.06 249.50 L45.39 249.50 L45.72 249.50 L46.05 249.50 L46.38 249.50 L46.71 249.50 L47.04 249.50 L47.38 249.50 L47.71 249.50 L48.04 249.50 L48.37 249.50 L48.70 249.50 L49.03 249.50 L49.36 249.50 L49.70 249.50 L50.03 249.50 L50.36 249.50 L50.69 249.50 L51.02 249.50 L51.35 249.50 L51.68 249.50 L52.02 249.49 L52.35 249.49 L52.60 249.48 L52.68 249.48 L52.73 249.48 L52.87 249.47 L53.00 249.46 L53.01 249.46 L53.14 249.45 L53.27 249.44 L53.34 249.44 L53.41 249.43 L53.54 249.41 L53.67 249.39 L53.68 249.39 L53.81 249.37 L53.94 249.34 L54.00 249.33 L54.08 249.31 L54.21 249.27 L54.34 249.22 L54.35 249.22 L54.48 249.16 L54.62 249.09 L54.67 249.06 L54.75 249.01 L54.89 248.92 L55.00 248.83 L55.02 248.81 L55.15 248.68 L55.29 248.53 L55.33 248.48 L55.42 248.36 L55.56 248.16 L55.66 247.98 L55.69 247.92 L55.83 247.66 L55.96 247.36 L55.99 247.28 L56.10 247.01 L56.23 246.62 L56.32 246.31 L56.36 246.17 L56.50 245.67 L56.63 245.11 L56.66 245.01 L56.77 244.48 L56.90 243.78 L56.99 243.30 L57.04 243.01 L57.17 242.15 L57.31 241.21 L57.32 241.11 L57.44 240.18 L57.57 239.05 L57.65 238.38 L57.71 237.83 L57.84 236.52 L57.98 235.11 L57.98 235.07 L58.11 233.61 L58.25 232.01 L58.31 231.19 L58.38 230.32 L58.52 228.55 L58.64 226.79 L58.65 226.71 L58.78 224.80 L58.92 222.85 L58.98 222.01 L59.05 220.85 L59.19 218.84 L59.31 217.06 L59.32 216.83 L59.46 214.85 L59.59 212.91 L59.64 212.25 L59.73 211.06 L59.86 209.32 L59.97 207.99 L59.99 207.71 L60.13 206.29 L60.26 205.10 L60.30 204.81 L60.40 204.18 L60.53 203.61 L60.63 203.53 L60.67 203.61 L60.80 204.18 L60.94 205.10 L60.96 205.33 L61.07 206.29 L61.21 207.71 L61.30 208.78 L61.34 209.32 L61.47 211.06 L61.61 212.91 L61.63 213.19 L61.74 214.85 L61.88 216.83 L61.96 218.05 L62.01 218.84 L62.15 220.85 L62.28 222.85 L62.29 222.99 L62.42 224.80 L62.55 226.71 L62.62 227.71 L62.68 228.55 L62.82 230.32 L62.95 232.01 L62.95 232.01 L63.09 233.61 L63.22 235.11 L63.28 235.78 L63.36 236.52 L63.49 237.83 L63.62 238.98 L63.63 239.05 L63.76 240.18 L63.89 241.21 L63.95 241.59 L64.03 242.15 L64.16 243.01 L64.28 243.68 L64.30 243.78 L64.43 244.48 L64.57 245.11 L64.61 245.30 L64.70 245.67 L64.84 246.17 L64.94 246.53 L64.97 246.62 L65.10 247.01 L65.24 247.36 L65.27 247.44 L65.37 247.66 L65.51 247.92 L65.61 248.09 L65.64 248.16 L65.78 248.36 L65.91 248.53 L65.94 248.56 L66.05 248.68 L66.18 248.81 L66.27 248.88 L66.31 248.92 L66.45 249.01 L66.58 249.09 L66.60 249.10 L66.72 249.16 L66.85 249.22 L66.93 249.25 L66.99 249.27 L67.12 249.31 L67.26 249.34 L67.26 249.34 L67.39 249.37 L67.52 249.39 L67.59 249.40 L67.66 249.41 L67.79 249.43 L67.93 249.44 L67.93 249.44 L68.06 249.45 L68.20 249.46 L68.26 249.47 L68.33 249.47 L68.47 249.48 L68.59 249.48 L68.60 249.48 L68.92 249.49 L69.25 249.49 L69.58 249.50 L69.91 249.50 L70.25 249.50 L70.58 249.50 L70.91 249.50 L71.24 249.50 L71.57 249.50 L71.90 249.50 L72.23 249.50 L72.57 249.50 L72.90 249.50 L73.23 249.50 L73.56 249.50 L73.89 249.50 L74.22 249.50 L74.55 249.50 L74.89 249.50 L75.22 249.50 L75.55 249.50 L75.88 249.50 L76.21 249.50 L76.54 249.50 L76.87 249.50 L77.21 249.50 L77.54 249.50 L77.87 249.50 L78.20 249.50 L78.20 249.50 L25.50 249.50Z" fill="#d2d2d4" stroke="#b9b9bb" stroke-width="0.5"/>
<path d="M25.50 249.50 L25.83 249.50 L26.16 249.50 L26.49 249.50 L26.83 249.50 L27.16 249.50 L27.49 249.50 L27.82 249.50 L28.15 249.50 L28.48 249.50 L28.81 249.50 L29.15 249.50 L29.48 249.50 L29.81 249.50 L30.14 249.50 L30.47 249.50 L30.80 249.50 L31.13 249.50 L31.47 249.50 L31.80 249.50 L32.13 249.50 L32.46 249.50 L32.79 249.50 L33.12 249.50 L33.45 249.50 L33.79 249.50 L34.12 249.50 L34.45 249.50 L34.78 249.50 L35.11 249.50 L35.44 249.50 L35.77 249.50 L36.11 249.50 L36.44 249.50 L36.77 249.50 L37.10 249.50 L37.43 249.50 L37.76 249.50 L38.09 249.50 L38.43 249.50 L38.76 249.50 L39.09 249.50 L39.42 249.50 L39.75 249.50 L40.08 249.50 L40.42 249.50 L40.75 249.50 L41.08 249.50 L41.41 249.50 L41.74 249.49 L42.07 249.49 L42.40 249.49 L42.40 249.49 L42.53 249.48 L42.67 249.48 L42.74 249.48 L42.80 249.48 L42.94 249.47 L43.07 249.47 L43.07 249.47 L43.21 249.46 L43.34 249.45 L43.40 249.45 L43.48 249.44 L43.61 249.43 L43.73 249.42 L43.74 249.42 L43.88 249.41 L44.01 249.39 L44.06 249.38 L44.15 249.37 L44.28 249.35 L44.39 249.33 L44.42 249.32 L44.55 249.29 L44.69 249.25 L44.72 249.24 L44.82 249.21 L44.95 249.16 L45.06 249.12 L45.09 249.10 L45.22 249.03 L45.36 248.96 L45.39 248.94 L45.49 248.87 L45.63 248.76 L45.72 248.68 L45.76 248.64 L45.90 248.50 L46.03 248.34 L46.05 248.32 L46.16 248.16 L46.30 247.95 L46.38 247.81 L46.43 247.71 L46.57 247.44 L46.70 247.12 L46.71 247.10 L46.84 246.77 L46.97 246.36 L47.04 246.12 L47.11 245.90 L47.24 245.38 L47.37 244.80 L47.38 244.79 L47.51 244.14 L47.64 243.39 L47.71 243.01 L47.78 242.56 L47.91 241.63 L48.04 240.67 L48.05 240.60 L48.18 239.45 L48.32 238.17 L48.37 237.62 L48.45 236.76 L48.58 235.22 L48.70 233.76 L48.72 233.52 L48.85 231.67 L48.99 229.66 L49.03 228.97 L49.12 227.50 L49.26 225.17 L49.36 223.21 L49.39 222.70 L49.53 220.08 L49.66 217.34 L49.70 216.61 L49.79 214.52 L49.93 211.65 L50.03 209.59 L50.06 208.82 L50.20 206.14 L50.33 203.85 L50.36 203.50 L50.47 203.57 L50.60 205.02 L50.69 206.14 L50.74 206.76 L50.87 208.64 L51.01 210.60 L51.02 210.84 L51.14 212.59 L51.27 214.58 L51.35 215.74 L51.41 216.55 L51.54 218.49 L51.68 220.37 L51.68 220.47 L51.81 222.19 L51.95 223.95 L52.02 224.83 L52.08 225.64 L52.22 227.25 L52.35 228.76 L52.35 228.79 L52.48 230.25 L52.62 231.63 L52.68 232.22 L52.75 232.94 L52.89 234.17 L53.01 235.22 L53.02 235.32 L53.16 236.41 L53.29 237.42 L53.34 237.79 L53.43 238.37 L53.56 239.26 L53.67 239.96 L53.69 240.09 L53.83 240.86 L53.96 241.57 L54.00 241.78 L54.10 242.23 L54.23 242.84 L54.34 243.29 L54.37 243.41 L54.50 243.93 L54.64 244.42 L54.67 244.53 L54.77 244.86 L54.90 245.27 L55.00 245.54 L55.04 245.65 L55.17 246.00 L55.31 246.31 L55.33 246.36 L55.44 246.60 L55.58 246.87 L55.66 247.03 L55.71 247.11 L55.85 247.34 L55.98 247.54 L55.99 247.56 L56.11 247.73 L56.25 247.90 L56.32 247.98 L56.38 248.05 L56.52 248.19 L56.65 248.32 L56.66 248.32 L56.79 248.43 L56.92 248.54 L56.99 248.59 L57.06 248.63 L57.19 248.72 L57.32 248.79 L57.32 248.80 L57.46 248.87 L57.59 248.93 L57.65 248.96 L57.73 248.99 L57.86 249.04 L57.98 249.08 L58.00 249.09 L58.13 249.13 L58.27 249.17 L58.31 249.18 L58.40 249.20 L58.64 249.26 L58.98 249.32 L59.31 249.36 L59.64 249.40 L59.97 249.42 L60.30 249.44 L60.63 249.46 L60.96 249.47 L61.30 249.48 L61.63 249.48 L61.96 249.49 L62.29 249.49 L62.62 249.49 L62.95 249.49 L63.28 249.50 L63.62 249.50 L63.95 249.50 L64.28 249.50 L64.61 249.50 L64.94 249.50 L65.27 249.50 L65.61 249.50 L65.94 249.50 L66.27 249.50 L66.60 249.50 L66.93 249.50 L67.26 249.50 L67.59 249.50 L67.93 249.50 L68.26 249.50 L68.59 249.50 L68.92 249.50 L69.25 249.50 L69.58 249.50 L69.91 249.50 L70.25 249.50 L70.58 249.50 L70.91 249.50 L71.24 249.50 L71.57 249.50 L71.90 249.50 L72.23 249.50 L72.57 249.50 L72.90 249.50 L73.23 249.50 L73.56 249.50 L73.89 249.50 L74.22 249.50 L74.55 249.50 L74.89 249.50 L75.22 249.50 L75.55 249.50 L75.88 249.50 L76.21 249.50 L76.54 249.50 L76.87 249.50 L77.21 249.50 L77.54 249.50 L77.87 249.50 L78.20 249.50" fill="none" stroke="#c62a50" stroke-width="1.1"/>
<path d="M25.50 249.50 L25.83 249.50 L26.16 249.50 L26.49 249.50 L26.83 249.50 L27.16 249.50 L27.49 249.50 L27.82 249.50 L28.15 249.50 L28.48 249.50 L28.81 249.50 L29.15 249.50 L29.48 249.50 L29.81 249.50 L30.14 249.50 L30.47 249.50 L30.80 249.50 L31.13 249.50 L31.47 249.50 L31.80 249.50 L32.13 249.50 L32.46 249.50 L32.79 249.50 L33.12 249.50 L33.45 249.50 L33.79 249.50 L34.12 249.50 L34.45 249.50 L34.78 249.50 L35.11 249.50 L35.44 249.50 L35.77 249.50 L36.11 249.50 L36.44 249.50 L36.77 249.50 L37.10 249.50 L37.43 249.50 L37.76 249.50 L38.09 249.50 L38.43 249.50 L38.76 249.50 L39.09 249.50 L39.42 249.50 L39.75 249.50 L40.08 249.50 L40.42 249.50 L40.75 249.50 L41.08 249.50 L41.41 249.50 L41.74 249.50 L42.07 249.50 L42.40 249.50 L42.74 249.50 L43.07 249.50 L43.40 249.50 L43.73 249.50 L44.06 249.50 L44.39 249.50 L44.72 249.50 L45.06 249.50 L45.39 249.50 L45.72 249.50 L46.05 249.50 L46.38 249.50 L46.71 249.50 L47.04 249.50 L47.38 249.50 L47.71 249.50 L48.04 249.50 L48.37 249.50 L48.70 249.50 L49.03 249.50 L49.36 249.50 L49.70 249.50 L50.03 249.50 L50.36 249.50 L50.69 249.50 L51.02 249.49 L51.35 249.49 L51.68 249.49 L52.02 249.48 L52.35 249.46 L52.60 249.45 L52.68 249.44 L52.73 249.44 L52.87 249.43 L53.00 249.41 L53.01 249.41 L53.14 249.40 L53.27 249.38 L53.34 249.36 L53.41 249.35 L53.54 249.32 L53.67 249.29 L53.68 249.29 L53.81 249.25 L53.94 249.21 L54.00 249.19 L54.08 249.16 L54.21 249.10 L54.34 249.03 L54.35 249.03 L54.48 248.95 L54.62 248.85 L54.67 248.81 L54.75 248.74 L54.89 248.62 L55.00 248.50 L55.02 248.48 L55.15 248.31 L55.29 248.13 L55.33 248.07 L55.42 247.92 L55.56 247.68 L55.66 247.47 L55.69 247.41 L55.83 247.10 L55.96 246.76 L55.99 246.67 L56.10 246.37 L56.23 245.94 L56.32 245.60 L56.36 245.45 L56.50 244.91 L56.63 244.32 L56.66 244.21 L56.77 243.66 L56.90 242.93 L56.99 242.43 L57.04 242.13 L57.17 241.25 L57.31 240.30 L57.32 240.20 L57.44 239.25 L57.57 238.13 L57.65 237.46 L57.71 236.91 L57.84 235.60 L57.98 234.20 L57.98 234.17 L58.11 232.71 L58.25 231.13 L58.31 230.32 L58.38 229.46 L58.52 227.71 L58.64 225.95 L58.65 225.87 L58.78 223.97 L58.92 222.01 L58.98 221.16 L59.05 219.99 L59.19 217.95 L59.31 216.12 L59.32 215.89 L59.46 213.83 L59.59 211.80 L59.64 211.09 L59.73 209.82 L59.86 207.93 L59.97 206.47 L59.99 206.15 L60.13 204.54 L60.26 203.14 L60.30 202.79 L60.40 202.01 L60.53 201.26 L60.63 201.15 L60.67 201.26 L60.80 202.01 L60.94 203.14 L60.96 203.42 L61.07 204.54 L61.21 206.15 L61.30 207.34 L61.34 207.93 L61.47 209.82 L61.61 211.80 L61.63 212.08 L61.74 213.83 L61.88 215.89 L61.96 217.14 L62.01 217.95 L62.15 219.99 L62.28 222.01 L62.29 222.15 L62.42 223.97 L62.55 225.87 L62.62 226.87 L62.68 227.71 L62.82 229.46 L62.95 231.13 L62.95 231.14 L63.09 232.71 L63.22 234.20 L63.28 234.87 L63.36 235.60 L63.49 236.91 L63.62 238.05 L63.63 238.13 L63.76 239.25 L63.89 240.30 L63.95 240.69 L64.03 241.25 L64.16 242.13 L64.28 242.82 L64.30 242.93 L64.43 243.66 L64.57 244.32 L64.61 244.52 L64.70 244.91 L64.84 245.45 L64.94 245.84 L64.97 245.94 L65.10 246.37 L65.24 246.76 L65.27 246.85 L65.37 247.10 L65.51 247.41 L65.61 247.61 L65.64 247.68 L65.78 247.92 L65.91 248.13 L65.94 248.17 L66.05 248.31 L66.18 248.48 L66.27 248.57 L66.31 248.62 L66.45 248.74 L66.58 248.85 L66.60 248.86 L66.72 248.95 L66.85 249.03 L66.93 249.07 L66.99 249.10 L67.12 249.16 L67.26 249.21 L67.26 249.21 L67.39 249.25 L67.52 249.29 L67.59 249.31 L67.66 249.32 L67.79 249.35 L67.93 249.38 L67.93 249.38 L68.06 249.40 L68.20 249.41 L68.26 249.42 L68.33 249.43 L68.47 249.44 L68.59 249.45 L68.60 249.45 L68.92 249.47 L69.25 249.48 L69.58 249.49 L69.91 249.49 L70.25 249.50 L70.58 249.50 L70.91 249.50 L71.24 249.50 L71.57 249.50 L71.90 249.50 L72.23 249.50 L72.57 249.50 L72.90 249.50 L73.23 249.50 L73.56 249.50 L73.89 249.50 L74.22 249.50 L74.55 249.50 L74.89 249.50 L75.22 249.50 L75.55 249.50 L75.88 249.50 L76.21 249.50 L76.54 249.50 L76.87 249.50 L77.21 249.50 L77.54 249.50 L77.87 249.50 L78.20 249.50" fill="none" stroke="#41609c" stroke-width="1.1"/>
<path d="M22.00 249.50H25.00" stroke="#444" stroke-width="0.7"/>
<text x="18.10" y="251.10" font-size="4.4" text-anchor="middle" fill="#333" stroke="#333" stroke-width="0.18" >0</text>
<path d="M27.30 249.50V251.80M34.40 249.50V251.80M41.50 249.50V251.80M48.60 249.50V251.80M55.70 249.50V251.80M62.80 249.50V251.80M69.90 249.50V251.80M77.00 249.50V251.80" stroke="#333" stroke-width="0.8"/>
<path d="M30.80 249.50V250.90M37.90 249.50V250.90M45.00 249.50V250.90M52.10 249.50V250.90M59.20 249.50V250.90M66.30 249.50V250.90M73.40 249.50V250.90" stroke="#777" stroke-width="0.6"/>
<text x="30.40" y="260.10" font-size="4.4" text-anchor="middle" fill="#444">10<tspan font-size="3" dy="-2.3">1</tspan></text>
<text x="38.05" y="260.10" font-size="4.4" text-anchor="middle" fill="#444">10<tspan font-size="3" dy="-2.3">2</tspan></text>
<text x="45.70" y="260.10" font-size="4.4" text-anchor="middle" fill="#444">10<tspan font-size="3" dy="-2.3">3</tspan></text>
<text x="53.35" y="260.10" font-size="4.4" text-anchor="middle" fill="#444">10<tspan font-size="3" dy="-2.3">4</tspan></text>
<text x="61.00" y="260.10" font-size="4.4" text-anchor="middle" fill="#444">10<tspan font-size="3" dy="-2.3">5</tspan></text>
<text x="68.65" y="260.10" font-size="4.4" text-anchor="middle" fill="#444">10<tspan font-size="3" dy="-2.3">6</tspan></text>
<text x="76.30" y="260.10" font-size="4.4" text-anchor="middle" fill="#444">10<tspan font-size="3" dy="-2.3">7</tspan></text>
<text x="124.20" y="191.90" font-size="10.4" text-anchor="middle" fill="#231f20" textLength="24.4" lengthAdjust="spacingAndGlyphs" stroke="#231f20" stroke-width="0.12" >Jurkat</text>
<rect x="97.90" y="196.60" width="52.90" height="52.90" fill="none" stroke="#1a1a1a" stroke-width="1.1"/>
<path d="M98.40 249.50 L98.73 249.50 L99.05 249.50 L99.38 249.50 L99.71 249.50 L100.03 249.50 L100.36 249.50 L100.68 249.50 L101.01 249.50 L101.34 249.50 L101.66 249.50 L101.99 249.50 L102.32 249.50 L102.64 249.50 L102.97 249.50 L103.30 249.50 L103.62 249.50 L103.95 249.50 L104.28 249.50 L104.60 249.50 L104.93 249.50 L105.25 249.50 L105.58 249.50 L105.91 249.50 L106.23 249.50 L106.56 249.50 L106.89 249.50 L107.21 249.50 L107.54 249.50 L107.87 249.50 L108.19 249.50 L108.52 249.50 L108.85 249.50 L109.17 249.50 L109.50 249.50 L109.82 249.49 L110.15 249.49 L110.48 249.49 L110.80 249.48 L111.13 249.47 L111.20 249.46 L111.33 249.46 L111.46 249.45 L111.47 249.45 L111.60 249.44 L111.74 249.43 L111.78 249.43 L111.87 249.42 L112.01 249.40 L112.11 249.39 L112.14 249.38 L112.28 249.36 L112.41 249.34 L112.44 249.33 L112.54 249.31 L112.68 249.27 L112.76 249.25 L112.81 249.24 L112.95 249.19 L113.08 249.14 L113.09 249.13 L113.22 249.08 L113.35 249.01 L113.42 248.97 L113.49 248.92 L113.62 248.83 L113.74 248.73 L113.75 248.72 L113.89 248.60 L114.02 248.46 L114.07 248.40 L114.16 248.29 L114.29 248.11 L114.39 247.95 L114.43 247.90 L114.56 247.66 L114.70 247.39 L114.72 247.33 L114.83 247.08 L114.96 246.73 L115.05 246.50 L115.10 246.34 L115.23 245.91 L115.37 245.41 L115.37 245.39 L115.50 244.87 L115.64 244.26 L115.70 243.95 L115.77 243.58 L115.91 242.82 L116.03 242.08 L116.04 241.99 L116.17 241.07 L116.31 240.07 L116.35 239.72 L116.44 238.96 L116.58 237.76 L116.68 236.78 L116.71 236.45 L116.85 235.03 L116.98 233.50 L117.01 233.21 L117.12 231.85 L117.25 230.09 L117.33 228.97 L117.38 228.22 L117.52 226.24 L117.65 224.15 L117.66 224.07 L117.79 221.96 L117.92 219.69 L117.98 218.62 L118.06 217.35 L118.19 214.97 L118.31 212.82 L118.33 212.56 L118.46 210.16 L118.59 207.81 L118.64 207.08 L118.73 205.56 L118.86 203.49 L118.96 202.12 L119.00 201.70 L119.13 200.35 L119.27 200.35 L119.29 200.54 L119.40 201.70 L119.54 203.49 L119.62 204.71 L119.67 205.56 L119.81 207.81 L119.94 210.16 L119.94 210.22 L120.07 212.56 L120.21 214.97 L120.27 216.06 L120.34 217.35 L120.48 219.69 L120.60 221.70 L120.61 221.96 L120.75 224.15 L120.88 226.24 L120.92 226.87 L121.02 228.22 L121.15 230.09 L121.25 231.41 L121.28 231.85 L121.42 233.50 L121.55 235.03 L121.58 235.28 L121.69 236.45 L121.82 237.76 L121.90 238.49 L121.96 238.96 L122.09 240.07 L122.23 241.07 L122.23 241.10 L122.36 241.99 L122.49 242.82 L122.55 243.17 L122.63 243.58 L122.76 244.26 L122.88 244.80 L122.90 244.87 L123.03 245.41 L123.17 245.91 L123.21 246.04 L123.30 246.34 L123.44 246.73 L123.53 246.99 L123.57 247.08 L123.70 247.39 L123.84 247.66 L123.86 247.70 L123.97 247.90 L124.11 248.11 L124.19 248.22 L124.24 248.29 L124.38 248.46 L124.51 248.60 L124.51 248.60 L124.65 248.72 L124.78 248.83 L124.84 248.87 L124.91 248.92 L125.05 249.01 L125.17 249.07 L125.18 249.08 L125.32 249.14 L125.45 249.19 L125.49 249.20 L125.59 249.24 L125.72 249.27 L125.82 249.30 L125.86 249.31 L125.99 249.34 L126.12 249.36 L126.15 249.37 L126.26 249.38 L126.39 249.40 L126.47 249.41 L126.53 249.42 L126.66 249.43 L126.80 249.44 L126.80 249.44 L126.93 249.45 L127.07 249.46 L127.12 249.46 L127.20 249.46 L127.45 249.47 L127.78 249.48 L128.10 249.49 L128.43 249.49 L128.76 249.50 L129.08 249.50 L129.41 249.50 L129.74 249.50 L130.06 249.50 L130.39 249.50 L130.72 249.50 L131.04 249.50 L131.37 249.50 L131.69 249.50 L132.02 249.50 L132.35 249.50 L132.67 249.50 L133.00 249.50 L133.33 249.50 L133.65 249.50 L133.98 249.50 L134.31 249.50 L134.63 249.50 L134.96 249.50 L135.28 249.50 L135.61 249.50 L135.94 249.50 L136.26 249.50 L136.59 249.50 L136.92 249.50 L137.24 249.50 L137.57 249.50 L137.90 249.50 L138.22 249.50 L138.55 249.50 L138.88 249.50 L139.20 249.50 L139.53 249.50 L139.85 249.50 L140.18 249.50 L140.51 249.50 L140.83 249.50 L141.16 249.50 L141.49 249.50 L141.81 249.50 L142.14 249.50 L142.47 249.50 L142.79 249.50 L143.12 249.50 L143.45 249.50 L143.77 249.50 L144.10 249.50 L144.42 249.50 L144.75 249.50 L145.08 249.50 L145.40 249.50 L145.73 249.50 L146.06 249.50 L146.38 249.50 L146.71 249.50 L147.04 249.50 L147.36 249.50 L147.69 249.50 L148.02 249.50 L148.34 249.50 L148.67 249.50 L148.99 249.50 L149.32 249.50 L149.65 249.50 L149.97 249.50 L150.30 249.50 L150.30 249.50 L98.40 249.50Z" fill="#3f495b" stroke="#4c566a" stroke-width="0.6"/>
<path d="M98.40 249.50 L98.73 249.50 L99.05 249.50 L99.38 249.50 L99.71 249.50 L100.03 249.50 L100.36 249.50 L100.68 249.50 L101.01 249.50 L101.34 249.50 L101.66 249.50 L101.99 249.50 L102.32 249.50 L102.64 249.50 L102.97 249.50 L103.30 249.50 L103.62 249.50 L103.95 249.50 L104.28 249.50 L104.60 249.50 L104.93 249.50 L105.25 249.50 L105.58 249.50 L105.91 249.50 L106.23 249.50 L106.56 249.50 L106.89 249.50 L107.21 249.50 L107.54 249.50 L107.87 249.50 L108.19 249.50 L108.52 249.50 L108.85 249.50 L109.17 249.50 L109.50 249.50 L109.82 249.50 L110.15 249.50 L110.48 249.50 L110.80 249.50 L111.13 249.50 L111.46 249.50 L111.78 249.50 L112.11 249.50 L112.44 249.50 L112.76 249.50 L113.09 249.50 L113.42 249.50 L113.74 249.50 L114.07 249.50 L114.39 249.50 L114.72 249.50 L115.05 249.50 L115.37 249.50 L115.70 249.50 L116.03 249.50 L116.35 249.50 L116.68 249.50 L117.01 249.50 L117.33 249.50 L117.66 249.50 L117.98 249.50 L118.31 249.50 L118.64 249.50 L118.96 249.50 L119.29 249.50 L119.62 249.50 L119.94 249.50 L120.27 249.50 L120.60 249.50 L120.92 249.50 L121.25 249.50 L121.58 249.50 L121.90 249.50 L122.23 249.50 L122.55 249.50 L122.88 249.50 L123.21 249.50 L123.53 249.50 L123.86 249.50 L124.19 249.50 L124.51 249.50 L124.84 249.50 L125.17 249.50 L125.49 249.50 L125.82 249.50 L126.15 249.50 L126.47 249.50 L126.80 249.50 L127.12 249.50 L127.45 249.50 L127.78 249.50 L128.10 249.50 L128.43 249.50 L128.76 249.50 L129.08 249.50 L129.41 249.50 L129.74 249.50 L130.06 249.50 L130.39 249.50 L130.72 249.50 L131.04 249.50 L131.37 249.50 L131.69 249.50 L132.02 249.50 L132.35 249.50 L132.67 249.50 L132.90 249.50 L133.00 249.50 L133.03 249.50 L133.17 249.50 L133.30 249.50 L133.33 249.50 L133.44 249.50 L133.57 249.50 L133.65 249.50 L133.71 249.50 L133.84 249.49 L133.98 249.49 L133.98 249.49 L134.11 249.49 L134.24 249.48 L134.31 249.48 L134.38 249.48 L134.51 249.47 L134.63 249.46 L134.65 249.46 L134.78 249.45 L134.92 249.44 L134.96 249.43 L135.05 249.42 L135.19 249.39 L135.28 249.37 L135.32 249.36 L135.45 249.32 L135.59 249.27 L135.61 249.26 L135.72 249.21 L135.86 249.13 L135.94 249.08 L135.99 249.04 L136.13 248.92 L136.26 248.78 L136.26 248.77 L136.40 248.60 L136.53 248.40 L136.59 248.29 L136.66 248.14 L136.80 247.84 L136.92 247.54 L136.93 247.49 L137.07 247.07 L137.20 246.58 L137.24 246.42 L137.34 246.01 L137.47 245.35 L137.57 244.81 L137.61 244.59 L137.74 243.73 L137.87 242.74 L137.90 242.58 L138.01 241.64 L138.14 240.40 L138.22 239.61 L138.28 239.03 L138.41 237.52 L138.55 235.87 L138.55 235.84 L138.68 234.08 L138.82 232.16 L138.88 231.27 L138.95 230.11 L139.08 227.95 L139.20 226.00 L139.22 225.70 L139.35 223.37 L139.49 220.99 L139.53 220.28 L139.62 218.60 L139.76 216.22 L139.85 214.53 L139.89 213.90 L140.03 211.67 L140.16 209.59 L140.18 209.28 L140.29 207.70 L140.43 206.05 L140.51 205.22 L140.56 204.69 L140.70 203.68 L140.83 203.09 L140.83 203.09 L140.97 203.09 L141.10 203.68 L141.16 204.07 L141.24 204.69 L141.37 206.05 L141.49 207.46 L141.51 207.70 L141.64 209.59 L141.77 211.67 L141.81 212.31 L141.91 213.90 L142.04 216.22 L142.14 217.93 L142.18 218.60 L142.31 220.99 L142.45 223.37 L142.47 223.72 L142.58 225.70 L142.72 227.95 L142.79 229.21 L142.85 230.11 L142.98 232.16 L143.12 234.08 L143.12 234.09 L143.25 235.87 L143.39 237.52 L143.45 238.19 L143.52 239.03 L143.66 240.40 L143.77 241.47 L143.79 241.64 L143.93 242.74 L144.06 243.73 L144.10 243.99 L144.19 244.59 L144.33 245.35 L144.42 245.83 L144.46 246.01 L144.60 246.58 L144.73 247.07 L144.75 247.14 L144.87 247.49 L145.00 247.84 L145.08 248.02 L145.14 248.14 L145.27 248.40 L145.40 248.60 L145.40 248.60 L145.54 248.78 L145.67 248.92 L145.73 248.97 L145.81 249.04 L145.94 249.13 L146.06 249.20 L146.08 249.21 L146.21 249.27 L146.35 249.32 L146.38 249.33 L146.48 249.36 L146.61 249.39 L146.71 249.41 L146.75 249.42 L146.88 249.44 L147.02 249.45 L147.04 249.45 L147.15 249.46 L147.29 249.47 L147.36 249.48 L147.42 249.48 L147.56 249.48 L147.69 249.49 L147.69 249.49 L147.82 249.49 L147.96 249.49 L148.02 249.49 L148.09 249.50 L148.23 249.50 L148.34 249.50 L148.36 249.50 L148.50 249.50 L148.63 249.50 L148.67 249.50 L148.77 249.50 L148.90 249.50 L148.99 249.50 L149.32 249.50 L149.65 249.50 L149.97 249.50 L150.30 249.50 L150.30 249.50 L98.40 249.50Z" fill="#d2d2d4" stroke="#b9b9bb" stroke-width="0.5"/>
<path d="M98.40 249.50 L98.73 249.50 L99.05 249.50 L99.38 249.50 L99.71 249.50 L100.03 249.50 L100.36 249.50 L100.68 249.50 L101.01 249.50 L101.34 249.50 L101.66 249.50 L101.99 249.50 L102.32 249.50 L102.64 249.50 L102.97 249.50 L103.30 249.50 L103.62 249.50 L103.95 249.50 L104.28 249.50 L104.60 249.50 L104.93 249.50 L105.25 249.50 L105.58 249.50 L105.91 249.50 L106.23 249.50 L106.56 249.50 L106.89 249.50 L107.21 249.50 L107.54 249.50 L107.87 249.50 L108.19 249.50 L108.52 249.50 L108.85 249.50 L109.17 249.50 L109.50 249.50 L109.82 249.50 L110.15 249.50 L110.48 249.50 L110.80 249.50 L111.13 249.50 L111.46 249.50 L111.78 249.50 L112.11 249.50 L112.44 249.50 L112.76 249.50 L113.09 249.50 L113.42 249.50 L113.74 249.50 L114.07 249.50 L114.39 249.50 L114.72 249.50 L115.05 249.50 L115.37 249.50 L115.70 249.50 L116.03 249.50 L116.35 249.50 L116.68 249.50 L117.01 249.50 L117.33 249.50 L117.66 249.50 L117.98 249.50 L118.31 249.50 L118.64 249.50 L118.96 249.50 L119.29 249.50 L119.62 249.50 L119.94 249.50 L120.27 249.50 L120.60 249.50 L120.92 249.50 L121.25 249.50 L121.58 249.50 L121.90 249.50 L122.23 249.50 L122.55 249.50 L122.88 249.50 L123.21 249.50 L123.53 249.50 L123.86 249.50 L124.19 249.50 L124.51 249.50 L124.84 249.50 L125.17 249.50 L125.49 249.50 L125.82 249.50 L126.15 249.50 L126.47 249.50 L126.80 249.50 L127.12 249.50 L127.45 249.50 L127.78 249.50 L128.10 249.50 L128.43 249.50 L128.76 249.50 L129.08 249.50 L129.41 249.50 L129.74 249.50 L130.06 249.50 L130.39 249.50 L130.72 249.50 L131.04 249.50 L131.37 249.50 L131.69 249.50 L132.02 249.50 L132.35 249.50 L132.67 249.49 L132.70 249.49 L132.83 249.49 L132.97 249.49 L133.00 249.49 L133.10 249.49 L133.24 249.48 L133.33 249.48 L133.37 249.48 L133.51 249.47 L133.64 249.47 L133.65 249.46 L133.78 249.46 L133.91 249.45 L133.98 249.44 L134.04 249.43 L134.18 249.41 L134.31 249.39 L134.31 249.39 L134.45 249.37 L134.58 249.33 L134.63 249.32 L134.72 249.30 L134.85 249.25 L134.96 249.20 L134.99 249.19 L135.12 249.12 L135.25 249.04 L135.28 249.02 L135.39 248.94 L135.52 248.83 L135.61 248.74 L135.66 248.69 L135.79 248.52 L135.93 248.33 L135.94 248.31 L136.06 248.10 L136.20 247.84 L136.26 247.69 L136.33 247.53 L136.46 247.17 L136.59 246.79 L136.60 246.76 L136.73 246.29 L136.87 245.75 L136.92 245.54 L137.00 245.14 L137.14 244.45 L137.24 243.84 L137.27 243.67 L137.41 242.79 L137.54 241.81 L137.57 241.59 L137.67 240.73 L137.81 239.54 L137.90 238.70 L137.94 238.22 L138.08 236.79 L138.21 235.24 L138.22 235.12 L138.35 233.56 L138.48 231.77 L138.55 230.82 L138.62 229.86 L138.75 227.84 L138.88 225.88 L138.88 225.73 L139.02 223.53 L139.15 221.26 L139.20 220.44 L139.29 218.95 L139.42 216.62 L139.53 214.79 L139.56 214.29 L139.69 212.00 L139.83 209.79 L139.85 209.33 L139.96 207.69 L140.09 205.76 L140.18 204.62 L140.23 204.03 L140.36 202.57 L140.50 201.43 L140.51 201.37 L140.63 200.73 L140.77 200.73 L140.83 201.02 L140.90 201.43 L141.04 202.57 L141.16 203.91 L141.17 204.03 L141.31 205.76 L141.44 207.69 L141.49 208.41 L141.57 209.79 L141.71 212.00 L141.81 213.78 L141.84 214.29 L141.98 216.62 L142.11 218.95 L142.14 219.43 L142.25 221.26 L142.38 223.53 L142.47 224.93 L142.52 225.73 L142.65 227.84 L142.78 229.86 L142.79 229.98 L142.92 231.77 L143.05 233.56 L143.12 234.40 L143.19 235.24 L143.32 236.79 L143.45 238.11 L143.46 238.22 L143.59 239.54 L143.73 240.73 L143.77 241.12 L143.86 241.81 L143.99 242.79 L144.10 243.48 L144.13 243.67 L144.26 244.45 L144.40 245.14 L144.42 245.27 L144.53 245.75 L144.67 246.29 L144.75 246.59 L144.80 246.76 L144.94 247.17 L145.07 247.53 L145.08 247.55 L145.20 247.84 L145.34 248.10 L145.40 248.22 L145.47 248.33 L145.61 248.52 L145.73 248.67 L145.74 248.69 L145.88 248.83 L146.01 248.94 L146.06 248.98 L146.15 249.04 L146.28 249.12 L146.38 249.18 L146.41 249.19 L146.55 249.25 L146.68 249.30 L146.71 249.30 L146.82 249.33 L146.95 249.37 L147.04 249.38 L147.09 249.39 L147.22 249.41 L147.36 249.43 L147.36 249.43 L147.49 249.45 L147.62 249.46 L147.69 249.46 L147.76 249.47 L147.89 249.47 L148.02 249.48 L148.03 249.48 L148.16 249.48 L148.30 249.49 L148.34 249.49 L148.43 249.49 L148.57 249.49 L148.67 249.49 L148.70 249.49 L148.99 249.50 L149.32 249.50 L149.65 249.50 L149.97 249.50 L150.30 249.50" fill="none" stroke="#c62a50" stroke-width="1.1"/>
<path d="M98.40 249.50 L98.73 249.50 L99.05 249.50 L99.38 249.50 L99.71 249.50 L100.03 249.50 L100.36 249.50 L100.68 249.50 L101.01 249.50 L101.34 249.50 L101.66 249.50 L101.99 249.50 L102.32 249.50 L102.64 249.50 L102.97 249.50 L103.30 249.50 L103.62 249.50 L103.95 249.50 L104.28 249.50 L104.60 249.50 L104.93 249.50 L105.25 249.50 L105.58 249.50 L105.91 249.50 L106.23 249.50 L106.56 249.50 L106.89 249.50 L107.21 249.50 L107.54 249.50 L107.87 249.50 L108.19 249.50 L108.52 249.50 L108.85 249.50 L109.17 249.50 L109.50 249.50 L109.82 249.50 L110.15 249.50 L110.48 249.50 L110.80 249.50 L111.13 249.50 L111.46 249.50 L111.78 249.50 L112.11 249.50 L112.44 249.50 L112.76 249.50 L113.09 249.50 L113.42 249.50 L113.74 249.50 L114.07 249.50 L114.39 249.50 L114.72 249.50 L115.05 249.50 L115.37 249.50 L115.70 249.50 L116.03 249.50 L116.35 249.50 L116.68 249.50 L117.01 249.50 L117.33 249.50 L117.66 249.50 L117.98 249.50 L118.31 249.50 L118.64 249.50 L118.96 249.50 L119.29 249.50 L119.62 249.50 L119.94 249.50 L120.27 249.50 L120.60 249.50 L120.92 249.50 L121.25 249.50 L121.58 249.50 L121.90 249.50 L122.23 249.50 L122.55 249.50 L122.88 249.50 L123.21 249.50 L123.53 249.50 L123.86 249.50 L124.19 249.50 L124.51 249.50 L124.84 249.50 L125.17 249.50 L125.49 249.50 L125.82 249.50 L126.15 249.50 L126.47 249.50 L126.80 249.50 L127.12 249.50 L127.45 249.50 L127.78 249.50 L128.10 249.50 L128.43 249.50 L128.76 249.50 L129.08 249.50 L129.41 249.50 L129.74 249.50 L130.06 249.50 L130.39 249.50 L130.72 249.50 L131.04 249.50 L131.37 249.50 L131.69 249.50 L132.02 249.50 L132.35 249.50 L132.67 249.50 L133.00 249.50 L133.13 249.50 L133.27 249.49 L133.33 249.49 L133.40 249.49 L133.54 249.49 L133.65 249.49 L133.67 249.49 L133.81 249.49 L133.94 249.48 L133.98 249.48 L134.08 249.48 L134.21 249.47 L134.31 249.46 L134.34 249.46 L134.48 249.45 L134.61 249.43 L134.63 249.43 L134.75 249.42 L134.88 249.40 L134.96 249.38 L135.02 249.37 L135.15 249.34 L135.28 249.30 L135.29 249.30 L135.42 249.25 L135.55 249.19 L135.61 249.16 L135.69 249.11 L135.82 249.02 L135.94 248.93 L135.96 248.92 L136.09 248.79 L136.23 248.63 L136.26 248.59 L136.36 248.45 L136.50 248.23 L136.59 248.06 L136.63 247.98 L136.76 247.68 L136.90 247.33 L136.92 247.28 L137.03 246.92 L137.17 246.45 L137.24 246.15 L137.30 245.90 L137.44 245.28 L137.57 244.58 L137.57 244.57 L137.71 243.77 L137.84 242.86 L137.90 242.45 L137.97 241.84 L138.11 240.70 L138.22 239.65 L138.24 239.44 L138.38 238.06 L138.51 236.53 L138.55 236.10 L138.65 234.88 L138.78 233.09 L138.88 231.76 L138.92 231.17 L139.05 229.12 L139.18 226.96 L139.20 226.68 L139.32 224.69 L139.45 222.34 L139.53 221.01 L139.59 219.93 L139.72 217.48 L139.85 215.06 L139.86 215.02 L139.99 212.59 L140.13 210.22 L140.18 209.29 L140.26 207.97 L140.39 205.89 L140.51 204.31 L140.53 204.02 L140.66 202.44 L140.80 201.21 L140.83 200.95 L140.93 200.44 L141.07 200.44 L141.16 200.92 L141.20 201.21 L141.34 202.44 L141.47 204.02 L141.49 204.23 L141.61 205.89 L141.74 207.97 L141.81 209.19 L141.87 210.22 L142.01 212.59 L142.14 214.96 L142.14 215.02 L142.28 217.48 L142.41 219.93 L142.47 220.91 L142.55 222.34 L142.68 224.69 L142.79 226.58 L142.82 226.96 L142.95 229.12 L143.08 231.17 L143.12 231.68 L143.22 233.09 L143.35 234.88 L143.45 236.03 L143.49 236.53 L143.62 238.06 L143.76 239.44 L143.77 239.60 L143.89 240.70 L144.03 241.84 L144.10 242.41 L144.16 242.86 L144.29 243.77 L144.42 244.55 L144.43 244.57 L144.56 245.28 L144.70 245.90 L144.75 246.13 L144.83 246.45 L144.97 246.92 L145.08 247.26 L145.10 247.33 L145.24 247.68 L145.37 247.98 L145.40 248.05 L145.50 248.23 L145.64 248.45 L145.73 248.58 L145.77 248.63 L145.91 248.79 L146.04 248.92 L146.06 248.93 L146.18 249.02 L146.31 249.11 L146.38 249.15 L146.45 249.19 L146.58 249.25 L146.71 249.29 L146.71 249.30 L146.85 249.34 L146.98 249.37 L147.04 249.38 L147.12 249.40 L147.25 249.42 L147.36 249.43 L147.39 249.43 L147.52 249.45 L147.66 249.46 L147.69 249.46 L147.79 249.47 L147.92 249.48 L148.02 249.48 L148.06 249.48 L148.19 249.49 L148.33 249.49 L148.34 249.49 L148.46 249.49 L148.60 249.49 L148.67 249.49 L148.73 249.49 L148.87 249.50 L148.99 249.50 L149.00 249.50 L149.32 249.50 L149.65 249.50 L149.97 249.50 L150.30 249.50" fill="none" stroke="#41609c" stroke-width="1.1"/>
<path d="M94.90 249.50H97.90" stroke="#444" stroke-width="0.7"/>
<text x="91.00" y="251.10" font-size="4.4" text-anchor="middle" fill="#333" stroke="#333" stroke-width="0.18" >0</text>
<path d="M100.20 249.50V251.80M107.30 249.50V251.80M114.40 249.50V251.80M121.50 249.50V251.80M128.60 249.50V251.80M135.70 249.50V251.80M142.80 249.50V251.80M149.90 249.50V251.80" stroke="#333" stroke-width="0.8"/>
<path d="M103.70 249.50V250.90M110.80 249.50V250.90M117.90 249.50V250.90M125.00 249.50V250.90M132.10 249.50V250.90M139.20 249.50V250.90M146.30 249.50V250.90" stroke="#777" stroke-width="0.6"/>
<text x="103.30" y="260.10" font-size="4.4" text-anchor="middle" fill="#444">10<tspan font-size="3" dy="-2.3">1</tspan></text>
<text x="110.95" y="260.10" font-size="4.4" text-anchor="middle" fill="#444">10<tspan font-size="3" dy="-2.3">2</tspan></text>
<text x="118.60" y="260.10" font-size="4.4" text-anchor="middle" fill="#444">10<tspan font-size="3" dy="-2.3">3</tspan></text>
<text x="126.25" y="260.10" font-size="4.4" text-anchor="middle" fill="#444">10<tspan font-size="3" dy="-2.3">4</tspan></text>
<text x="133.90" y="260.10" font-size="4.4" text-anchor="middle" fill="#444">10<tspan font-size="3" dy="-2.3">5</tspan></text>
<text x="141.55" y="260.10" font-size="4.4" text-anchor="middle" fill="#444">10<tspan font-size="3" dy="-2.3">6</tspan></text>
<text x="149.20" y="260.10" font-size="4.4" text-anchor="middle" fill="#444">10<tspan font-size="3" dy="-2.3">7</tspan></text>
<text x="52.30" y="280.10" font-size="10.4" text-anchor="middle" fill="#231f20" textLength="25.3" lengthAdjust="spacingAndGlyphs" stroke="#231f20" stroke-width="0.12" >SNK6</text>
<rect x="25.50" y="284.60" width="53.90" height="53.90" fill="none" stroke="#1a1a1a" stroke-width="1.1"/>
<path d="M26.00 338.50 L26.33 338.50 L26.67 338.50 L27.00 338.50 L27.33 338.50 L27.66 338.50 L28.00 338.50 L28.33 338.50 L28.66 338.50 L28.99 338.50 L29.33 338.50 L29.66 338.50 L29.99 338.50 L30.33 338.50 L30.66 338.50 L30.99 338.50 L31.32 338.50 L31.66 338.50 L31.99 338.50 L32.32 338.50 L32.65 338.50 L32.99 338.50 L33.32 338.50 L33.65 338.50 L33.98 338.50 L34.32 338.50 L34.65 338.50 L34.98 338.50 L35.32 338.50 L35.65 338.50 L35.98 338.50 L36.31 338.50 L36.65 338.50 L36.98 338.50 L37.31 338.50 L37.64 338.50 L37.98 338.50 L38.31 338.49 L38.64 338.49 L38.98 338.48 L39.31 338.47 L39.60 338.46 L39.64 338.46 L39.73 338.46 L39.87 338.45 L39.97 338.44 L40.00 338.44 L40.14 338.43 L40.27 338.41 L40.31 338.41 L40.41 338.40 L40.54 338.38 L40.64 338.36 L40.68 338.36 L40.81 338.33 L40.94 338.30 L40.97 338.29 L41.08 338.26 L41.21 338.22 L41.30 338.19 L41.35 338.17 L41.48 338.12 L41.62 338.05 L41.64 338.04 L41.75 337.98 L41.89 337.89 L41.97 337.83 L42.02 337.80 L42.15 337.68 L42.29 337.55 L42.30 337.54 L42.42 337.40 L42.56 337.23 L42.64 337.12 L42.69 337.04 L42.83 336.82 L42.96 336.56 L42.97 336.55 L43.10 336.28 L43.23 335.96 L43.30 335.77 L43.36 335.59 L43.50 335.18 L43.63 334.72 L43.63 334.72 L43.77 334.21 L43.90 333.63 L43.97 333.34 L44.04 332.99 L44.17 332.28 L44.30 331.53 L44.31 331.49 L44.44 330.61 L44.57 329.65 L44.63 329.21 L44.71 328.59 L44.84 327.43 L44.96 326.30 L44.98 326.17 L45.11 324.79 L45.25 323.30 L45.30 322.72 L45.38 321.69 L45.52 319.96 L45.63 318.41 L45.65 318.11 L45.78 316.15 L45.92 314.06 L45.96 313.37 L46.05 311.87 L46.19 309.57 L46.29 307.68 L46.32 307.19 L46.46 304.73 L46.59 302.22 L46.63 301.54 L46.73 299.69 L46.86 297.17 L46.96 295.33 L46.99 294.70 L47.13 292.34 L47.26 290.17 L47.29 289.73 L47.40 288.28 L47.53 286.87 L47.63 286.59 L47.67 286.87 L47.80 288.28 L47.94 290.17 L47.96 290.52 L48.07 292.34 L48.21 294.70 L48.29 296.27 L48.34 297.17 L48.47 299.69 L48.61 302.22 L48.62 302.51 L48.74 304.73 L48.88 307.19 L48.96 308.60 L49.01 309.57 L49.15 311.87 L49.28 314.06 L49.29 314.20 L49.42 316.15 L49.55 318.11 L49.62 319.12 L49.68 319.96 L49.82 321.69 L49.95 323.30 L49.95 323.32 L50.09 324.79 L50.22 326.17 L50.29 326.80 L50.36 327.43 L50.49 328.59 L50.62 329.61 L50.63 329.65 L50.76 330.61 L50.89 331.49 L50.95 331.84 L51.03 332.28 L51.16 332.99 L51.29 333.58 L51.30 333.63 L51.43 334.21 L51.57 334.72 L51.62 334.91 L51.70 335.18 L51.84 335.59 L51.95 335.91 L51.97 335.96 L52.10 336.28 L52.24 336.56 L52.28 336.65 L52.37 336.82 L52.51 337.04 L52.62 337.20 L52.64 337.23 L52.78 337.40 L52.91 337.55 L52.95 337.59 L53.05 337.68 L53.18 337.80 L53.28 337.87 L53.31 337.89 L53.45 337.98 L53.58 338.05 L53.61 338.07 L53.72 338.12 L53.85 338.17 L53.95 338.21 L53.99 338.22 L54.12 338.26 L54.26 338.30 L54.28 338.30 L54.39 338.33 L54.52 338.36 L54.61 338.37 L54.66 338.38 L54.79 338.40 L54.93 338.41 L54.95 338.41 L55.06 338.43 L55.20 338.44 L55.28 338.44 L55.33 338.45 L55.47 338.46 L55.60 338.46 L55.61 338.46 L55.94 338.48 L56.28 338.49 L56.61 338.49 L56.94 338.49 L57.27 338.50 L57.61 338.50 L57.94 338.50 L58.27 338.50 L58.61 338.50 L58.94 338.50 L59.27 338.50 L59.60 338.50 L59.94 338.50 L60.27 338.50 L60.60 338.50 L60.93 338.50 L61.27 338.50 L61.60 338.50 L61.93 338.50 L62.26 338.50 L62.60 338.50 L62.93 338.50 L63.26 338.50 L63.60 338.50 L63.93 338.50 L64.26 338.50 L64.59 338.50 L64.93 338.50 L65.26 338.50 L65.59 338.50 L65.92 338.50 L66.26 338.50 L66.59 338.50 L66.92 338.50 L67.26 338.50 L67.59 338.50 L67.92 338.50 L68.25 338.50 L68.59 338.50 L68.92 338.50 L69.25 338.50 L69.58 338.50 L69.92 338.50 L70.25 338.50 L70.58 338.50 L70.92 338.50 L71.25 338.50 L71.58 338.50 L71.91 338.50 L72.25 338.50 L72.58 338.50 L72.91 338.50 L73.24 338.50 L73.58 338.50 L73.91 338.50 L74.24 338.50 L74.57 338.50 L74.91 338.50 L75.24 338.50 L75.57 338.50 L75.91 338.50 L76.24 338.50 L76.57 338.50 L76.90 338.50 L77.24 338.50 L77.57 338.50 L77.90 338.50 L78.23 338.50 L78.57 338.50 L78.90 338.50 L78.90 338.50 L26.00 338.50Z" fill="#3f495b" stroke="#4c566a" stroke-width="0.6"/>
<path d="M26.00 338.50 L26.33 338.50 L26.67 338.50 L27.00 338.50 L27.33 338.50 L27.66 338.50 L28.00 338.50 L28.33 338.50 L28.66 338.50 L28.99 338.50 L29.33 338.50 L29.66 338.50 L29.99 338.50 L30.33 338.50 L30.66 338.50 L30.99 338.50 L31.32 338.50 L31.66 338.50 L31.99 338.50 L32.32 338.50 L32.65 338.50 L32.99 338.50 L33.32 338.50 L33.65 338.50 L33.98 338.50 L34.32 338.50 L34.65 338.50 L34.98 338.50 L35.32 338.50 L35.65 338.50 L35.98 338.50 L36.31 338.50 L36.65 338.50 L36.98 338.50 L37.31 338.50 L37.64 338.50 L37.98 338.50 L38.31 338.50 L38.64 338.50 L38.98 338.50 L39.31 338.50 L39.64 338.50 L39.97 338.50 L40.31 338.50 L40.64 338.50 L40.97 338.50 L41.30 338.50 L41.64 338.50 L41.97 338.50 L42.30 338.50 L42.64 338.50 L42.97 338.50 L43.30 338.50 L43.63 338.50 L43.97 338.50 L44.30 338.50 L44.63 338.50 L44.96 338.50 L45.30 338.50 L45.63 338.50 L45.96 338.50 L46.29 338.50 L46.63 338.50 L46.96 338.50 L47.29 338.50 L47.63 338.50 L47.96 338.50 L48.29 338.50 L48.62 338.50 L48.96 338.50 L49.29 338.50 L49.62 338.50 L49.95 338.50 L50.29 338.50 L50.62 338.50 L50.95 338.50 L51.29 338.50 L51.62 338.50 L51.95 338.50 L52.28 338.50 L52.62 338.50 L52.95 338.50 L53.28 338.50 L53.61 338.50 L53.95 338.50 L54.28 338.50 L54.61 338.50 L54.95 338.50 L55.28 338.50 L55.61 338.50 L55.94 338.50 L56.28 338.50 L56.61 338.50 L56.94 338.50 L57.27 338.50 L57.61 338.50 L57.94 338.50 L58.27 338.50 L58.61 338.50 L58.94 338.50 L59.27 338.50 L59.60 338.50 L59.60 338.50 L59.73 338.50 L59.87 338.50 L59.94 338.50 L60.00 338.50 L60.14 338.50 L60.27 338.50 L60.27 338.50 L60.41 338.50 L60.54 338.50 L60.60 338.50 L60.68 338.50 L60.81 338.50 L60.93 338.50 L60.94 338.50 L61.08 338.50 L61.21 338.50 L61.27 338.50 L61.35 338.50 L61.48 338.49 L61.60 338.49 L61.62 338.49 L61.75 338.49 L61.89 338.48 L61.93 338.48 L62.02 338.48 L62.15 338.47 L62.26 338.46 L62.29 338.46 L62.42 338.44 L62.56 338.42 L62.60 338.42 L62.69 338.40 L62.83 338.36 L62.93 338.33 L62.96 338.31 L63.10 338.25 L63.23 338.17 L63.26 338.15 L63.36 338.07 L63.50 337.94 L63.60 337.83 L63.63 337.78 L63.77 337.58 L63.90 337.32 L63.93 337.27 L64.04 337.01 L64.17 336.63 L64.26 336.33 L64.31 336.16 L64.44 335.60 L64.57 334.93 L64.59 334.83 L64.71 334.14 L64.84 333.22 L64.93 332.57 L64.98 332.14 L65.11 330.90 L65.25 329.49 L65.26 329.36 L65.38 327.90 L65.52 326.12 L65.59 325.04 L65.65 324.16 L65.78 322.01 L65.92 319.70 L65.92 319.61 L66.05 317.24 L66.19 314.65 L66.26 313.28 L66.32 311.97 L66.46 309.24 L66.59 306.55 L66.59 306.51 L66.73 303.85 L66.86 301.31 L66.92 300.20 L66.99 298.96 L67.13 296.89 L67.26 295.26 L67.26 295.17 L67.40 293.88 L67.53 293.12 L67.59 293.01 L67.67 293.12 L67.80 293.88 L67.92 294.99 L67.94 295.17 L68.07 296.89 L68.21 298.96 L68.25 299.78 L68.34 301.31 L68.47 303.85 L68.59 306.07 L68.61 306.51 L68.74 309.24 L68.88 311.97 L68.92 312.80 L69.01 314.65 L69.15 317.24 L69.25 319.18 L69.28 319.70 L69.42 322.01 L69.55 324.16 L69.58 324.68 L69.68 326.12 L69.82 327.90 L69.92 329.08 L69.95 329.49 L70.09 330.90 L70.22 332.14 L70.25 332.38 L70.36 333.22 L70.49 334.14 L70.58 334.70 L70.63 334.93 L70.76 335.60 L70.89 336.16 L70.92 336.24 L71.03 336.63 L71.16 337.01 L71.25 337.21 L71.30 337.32 L71.43 337.58 L71.57 337.78 L71.58 337.80 L71.70 337.94 L71.84 338.07 L71.91 338.13 L71.97 338.17 L72.10 338.25 L72.24 338.31 L72.25 338.32 L72.37 338.36 L72.51 338.40 L72.58 338.41 L72.64 338.42 L72.78 338.44 L72.91 338.46 L72.91 338.46 L73.05 338.47 L73.18 338.48 L73.24 338.48 L73.31 338.48 L73.45 338.49 L73.58 338.49 L73.58 338.49 L73.72 338.49 L73.85 338.50 L73.91 338.50 L73.99 338.50 L74.12 338.50 L74.24 338.50 L74.26 338.50 L74.39 338.50 L74.52 338.50 L74.57 338.50 L74.66 338.50 L74.79 338.50 L74.91 338.50 L74.93 338.50 L75.06 338.50 L75.20 338.50 L75.24 338.50 L75.33 338.50 L75.47 338.50 L75.57 338.50 L75.60 338.50 L75.91 338.50 L76.24 338.50 L76.57 338.50 L76.90 338.50 L77.24 338.50 L77.57 338.50 L77.90 338.50 L78.23 338.50 L78.57 338.50 L78.90 338.50 L78.90 338.50 L26.00 338.50Z" fill="#d2d2d4" stroke="#b9b9bb" stroke-width="0.5"/>
<path d="M26.00 338.50 L26.33 338.50 L26.67 338.50 L27.00 338.50 L27.33 338.50 L27.66 338.50 L28.00 338.50 L28.33 338.50 L28.66 338.50 L28.99 338.50 L29.33 338.50 L29.66 338.50 L29.99 338.50 L30.33 338.50 L30.66 338.50 L30.99 338.50 L31.32 338.50 L31.66 338.50 L31.99 338.50 L32.32 338.50 L32.65 338.50 L32.99 338.50 L33.32 338.50 L33.65 338.50 L33.98 338.50 L34.32 338.50 L34.65 338.50 L34.98 338.50 L35.32 338.50 L35.65 338.50 L35.98 338.50 L36.31 338.50 L36.65 338.50 L36.98 338.50 L37.31 338.50 L37.64 338.50 L37.98 338.50 L38.31 338.50 L38.64 338.50 L38.98 338.50 L39.31 338.50 L39.64 338.50 L39.97 338.50 L40.31 338.50 L40.64 338.50 L40.97 338.50 L41.30 338.50 L41.64 338.50 L41.97 338.50 L42.30 338.50 L42.64 338.50 L42.97 338.50 L43.30 338.50 L43.63 338.50 L43.97 338.50 L44.30 338.50 L44.63 338.50 L44.96 338.50 L45.30 338.50 L45.63 338.50 L45.96 338.50 L46.29 338.50 L46.63 338.50 L46.96 338.50 L47.29 338.50 L47.63 338.50 L47.96 338.50 L48.29 338.50 L48.62 338.50 L48.96 338.50 L49.29 338.50 L49.62 338.50 L49.95 338.50 L50.29 338.49 L50.40 338.49 L50.53 338.49 L50.62 338.49 L50.67 338.48 L50.80 338.48 L50.94 338.47 L50.95 338.47 L51.07 338.47 L51.21 338.46 L51.29 338.46 L51.34 338.45 L51.48 338.44 L51.61 338.43 L51.62 338.43 L51.74 338.41 L51.88 338.39 L51.95 338.38 L52.01 338.37 L52.15 338.34 L52.28 338.30 L52.28 338.30 L52.42 338.26 L52.55 338.21 L52.62 338.18 L52.69 338.15 L52.82 338.08 L52.95 338.00 L52.95 337.99 L53.09 337.89 L53.22 337.77 L53.28 337.72 L53.36 337.63 L53.49 337.47 L53.61 337.30 L53.63 337.28 L53.76 337.06 L53.90 336.81 L53.95 336.70 L54.03 336.51 L54.16 336.17 L54.28 335.85 L54.30 335.79 L54.43 335.34 L54.57 334.84 L54.61 334.65 L54.70 334.26 L54.84 333.62 L54.95 333.04 L54.97 332.89 L55.11 332.07 L55.24 331.16 L55.28 330.89 L55.37 330.15 L55.51 329.03 L55.61 328.11 L55.64 327.79 L55.78 326.44 L55.91 324.97 L55.94 324.62 L56.05 323.37 L56.18 321.65 L56.28 320.37 L56.32 319.81 L56.45 317.84 L56.58 315.76 L56.61 315.38 L56.72 313.58 L56.85 311.30 L56.94 309.77 L56.99 308.94 L57.12 306.53 L57.26 304.09 L57.27 303.78 L57.39 301.65 L57.53 299.25 L57.61 297.83 L57.66 296.91 L57.79 294.71 L57.93 292.68 L57.94 292.54 L58.06 290.91 L58.20 289.47 L58.27 288.87 L58.33 288.50 L58.47 288.50 L58.60 289.47 L58.61 289.50 L58.74 290.91 L58.87 292.68 L58.94 293.67 L59.01 294.71 L59.14 296.91 L59.27 299.18 L59.27 299.25 L59.41 301.65 L59.54 304.09 L59.60 305.19 L59.68 306.53 L59.81 308.94 L59.94 311.12 L59.95 311.30 L60.08 313.58 L60.22 315.76 L60.27 316.60 L60.35 317.84 L60.48 319.81 L60.60 321.42 L60.62 321.65 L60.75 323.37 L60.89 324.97 L60.93 325.49 L61.02 326.44 L61.16 327.79 L61.27 328.81 L61.29 329.03 L61.43 330.15 L61.56 331.16 L61.60 331.44 L61.69 332.07 L61.83 332.89 L61.93 333.46 L61.96 333.62 L62.10 334.26 L62.23 334.84 L62.26 334.97 L62.37 335.34 L62.50 335.79 L62.60 336.07 L62.64 336.17 L62.77 336.51 L62.90 336.81 L62.93 336.86 L63.04 337.06 L63.17 337.28 L63.26 337.41 L63.31 337.47 L63.44 337.63 L63.58 337.77 L63.60 337.79 L63.71 337.89 L63.85 337.99 L63.93 338.05 L63.98 338.08 L64.11 338.15 L64.25 338.21 L64.26 338.21 L64.38 338.26 L64.52 338.30 L64.59 338.32 L64.65 338.34 L64.79 338.37 L64.92 338.39 L64.93 338.39 L65.06 338.41 L65.19 338.43 L65.26 338.43 L65.32 338.44 L65.46 338.45 L65.59 338.46 L65.59 338.46 L65.73 338.47 L65.86 338.47 L65.92 338.48 L66.00 338.48 L66.13 338.48 L66.26 338.49 L66.27 338.49 L66.40 338.49 L66.59 338.49 L66.92 338.50 L67.26 338.50 L67.59 338.50 L67.92 338.50 L68.25 338.50 L68.59 338.50 L68.92 338.50 L69.25 338.50 L69.58 338.50 L69.92 338.50 L70.25 338.50 L70.58 338.50 L70.92 338.50 L71.25 338.50 L71.58 338.50 L71.91 338.50 L72.25 338.50 L72.58 338.50 L72.91 338.50 L73.24 338.50 L73.58 338.50 L73.91 338.50 L74.24 338.50 L74.57 338.50 L74.91 338.50 L75.24 338.50 L75.57 338.50 L75.91 338.50 L76.24 338.50 L76.57 338.50 L76.90 338.50 L77.24 338.50 L77.57 338.50 L77.90 338.50 L78.23 338.50 L78.57 338.50 L78.90 338.50" fill="none" stroke="#c62a50" stroke-width="1.1"/>
<path d="M26.00 338.50 L26.33 338.50 L26.67 338.50 L27.00 338.50 L27.33 338.50 L27.66 338.50 L28.00 338.50 L28.33 338.50 L28.66 338.50 L28.99 338.50 L29.33 338.50 L29.66 338.50 L29.99 338.50 L30.33 338.50 L30.66 338.50 L30.99 338.50 L31.32 338.50 L31.66 338.50 L31.99 338.50 L32.32 338.50 L32.65 338.50 L32.99 338.50 L33.32 338.50 L33.65 338.50 L33.98 338.50 L34.32 338.50 L34.65 338.50 L34.98 338.50 L35.32 338.50 L35.65 338.50 L35.98 338.50 L36.31 338.50 L36.65 338.50 L36.98 338.50 L37.31 338.50 L37.64 338.50 L37.98 338.50 L38.31 338.50 L38.64 338.50 L38.98 338.50 L39.31 338.50 L39.64 338.50 L39.97 338.50 L40.31 338.50 L40.64 338.50 L40.97 338.50 L41.30 338.50 L41.64 338.50 L41.97 338.50 L42.30 338.50 L42.64 338.50 L42.97 338.50 L43.30 338.50 L43.63 338.50 L43.97 338.50 L44.30 338.50 L44.63 338.50 L44.96 338.50 L45.30 338.50 L45.63 338.50 L45.96 338.50 L46.29 338.50 L46.63 338.50 L46.96 338.50 L47.29 338.50 L47.63 338.50 L47.96 338.50 L48.29 338.50 L48.62 338.50 L48.96 338.50 L49.29 338.50 L49.62 338.50 L49.95 338.50 L50.29 338.50 L50.62 338.50 L50.95 338.50 L51.29 338.50 L51.62 338.50 L51.95 338.50 L52.28 338.50 L52.62 338.50 L52.95 338.50 L53.28 338.50 L53.61 338.50 L53.95 338.50 L54.28 338.50 L54.61 338.50 L54.95 338.50 L55.28 338.50 L55.61 338.50 L55.94 338.50 L56.28 338.50 L56.61 338.50 L56.94 338.50 L57.27 338.50 L57.61 338.50 L57.94 338.50 L58.27 338.50 L58.61 338.50 L58.94 338.50 L59.27 338.50 L59.60 338.50 L59.60 338.50 L59.73 338.50 L59.87 338.50 L59.94 338.50 L60.00 338.50 L60.14 338.49 L60.27 338.49 L60.27 338.49 L60.41 338.49 L60.54 338.49 L60.60 338.48 L60.68 338.48 L60.81 338.48 L60.93 338.47 L60.94 338.47 L61.08 338.46 L61.21 338.45 L61.27 338.45 L61.35 338.44 L61.48 338.43 L61.60 338.41 L61.62 338.41 L61.75 338.39 L61.89 338.36 L61.93 338.35 L62.02 338.32 L62.15 338.28 L62.26 338.24 L62.29 338.23 L62.42 338.17 L62.56 338.09 L62.60 338.07 L62.69 338.00 L62.83 337.89 L62.93 337.80 L62.96 337.76 L63.10 337.61 L63.23 337.42 L63.26 337.37 L63.36 337.20 L63.50 336.95 L63.60 336.73 L63.63 336.64 L63.77 336.29 L63.90 335.88 L63.93 335.79 L64.04 335.40 L64.17 334.85 L64.26 334.44 L64.31 334.22 L64.44 333.50 L64.57 332.69 L64.59 332.56 L64.71 331.76 L64.84 330.72 L64.93 330.02 L64.98 329.56 L65.11 328.26 L65.25 326.83 L65.26 326.69 L65.38 325.26 L65.52 323.54 L65.59 322.50 L65.65 321.68 L65.78 319.67 L65.92 317.53 L65.92 317.44 L66.05 315.26 L66.19 312.88 L66.26 311.63 L66.32 310.42 L66.46 307.88 L66.59 305.35 L66.59 305.32 L66.73 302.76 L66.86 300.26 L66.92 299.13 L66.99 297.86 L67.13 295.65 L67.26 293.81 L67.26 293.69 L67.40 292.10 L67.53 291.03 L67.59 290.81 L67.67 291.03 L67.80 292.10 L67.92 293.49 L67.94 293.69 L68.07 295.65 L68.21 297.86 L68.25 298.71 L68.34 300.26 L68.47 302.76 L68.59 304.89 L68.61 305.32 L68.74 307.88 L68.88 310.42 L68.92 311.19 L69.01 312.88 L69.15 315.26 L69.25 317.05 L69.28 317.53 L69.42 319.67 L69.55 321.68 L69.58 322.17 L69.68 323.54 L69.82 325.26 L69.92 326.42 L69.95 326.83 L70.09 328.26 L70.22 329.56 L70.25 329.81 L70.36 330.72 L70.49 331.76 L70.58 332.40 L70.63 332.69 L70.76 333.50 L70.89 334.22 L70.92 334.33 L71.03 334.85 L71.16 335.40 L71.25 335.71 L71.30 335.88 L71.43 336.29 L71.57 336.64 L71.58 336.68 L71.70 336.95 L71.84 337.20 L71.91 337.34 L71.97 337.42 L72.10 337.61 L72.24 337.76 L72.25 337.77 L72.37 337.89 L72.51 338.00 L72.58 338.05 L72.64 338.09 L72.78 338.17 L72.91 338.23 L72.91 338.23 L73.05 338.28 L73.18 338.32 L73.24 338.34 L73.31 338.36 L73.45 338.39 L73.58 338.41 L73.58 338.41 L73.72 338.43 L73.85 338.44 L73.91 338.45 L73.99 338.45 L74.12 338.46 L74.24 338.47 L74.26 338.47 L74.39 338.48 L74.52 338.48 L74.57 338.48 L74.66 338.49 L74.79 338.49 L74.91 338.49 L74.93 338.49 L75.06 338.49 L75.20 338.50 L75.24 338.50 L75.33 338.50 L75.47 338.50 L75.57 338.50 L75.60 338.50 L75.91 338.50 L76.24 338.50 L76.57 338.50 L76.90 338.50 L77.24 338.50 L77.57 338.50 L77.90 338.50 L78.23 338.50 L78.57 338.50 L78.90 338.50" fill="none" stroke="#41609c" stroke-width="1.1"/>
<path d="M22.50 338.50H25.50" stroke="#444" stroke-width="0.7"/>
<text x="18.60" y="340.10" font-size="4.4" text-anchor="middle" fill="#333" stroke="#333" stroke-width="0.18" >0</text>
<path d="M27.80 338.50V340.80M34.90 338.50V340.80M42.00 338.50V340.80M49.10 338.50V340.80M56.20 338.50V340.80M63.30 338.50V340.80M70.40 338.50V340.80M77.50 338.50V340.80" stroke="#333" stroke-width="0.8"/>
<path d="M31.30 338.50V339.90M38.40 338.50V339.90M45.50 338.50V339.90M52.60 338.50V339.90M59.70 338.50V339.90M66.80 338.50V339.90M73.90 338.50V339.90" stroke="#777" stroke-width="0.6"/>
<text x="30.90" y="349.10" font-size="4.4" text-anchor="middle" fill="#444">10<tspan font-size="3" dy="-2.3">1</tspan></text>
<text x="38.55" y="349.10" font-size="4.4" text-anchor="middle" fill="#444">10<tspan font-size="3" dy="-2.3">2</tspan></text>
<text x="46.20" y="349.10" font-size="4.4" text-anchor="middle" fill="#444">10<tspan font-size="3" dy="-2.3">3</tspan></text>
<text x="53.85" y="349.10" font-size="4.4" text-anchor="middle" fill="#444">10<tspan font-size="3" dy="-2.3">4</tspan></text>
<text x="61.50" y="349.10" font-size="4.4" text-anchor="middle" fill="#444">10<tspan font-size="3" dy="-2.3">5</tspan></text>
<text x="69.15" y="349.10" font-size="4.4" text-anchor="middle" fill="#444">10<tspan font-size="3" dy="-2.3">6</tspan></text>
<text x="76.80" y="349.10" font-size="4.4" text-anchor="middle" fill="#444">10<tspan font-size="3" dy="-2.3">7</tspan></text>
<text x="124.60" y="280.10" font-size="10.4" text-anchor="middle" fill="#231f20" textLength="24.5" lengthAdjust="spacingAndGlyphs" stroke="#231f20" stroke-width="0.12" >SNT8</text>
<rect x="97.50" y="284.60" width="54.00" height="53.90" fill="none" stroke="#1a1a1a" stroke-width="1.1"/>
<path d="M98.00 338.50 L98.33 338.50 L98.67 338.50 L99.00 338.50 L99.33 338.50 L99.67 338.50 L100.00 338.50 L100.33 338.50 L100.67 338.50 L101.00 338.50 L101.33 338.50 L101.67 338.50 L102.00 338.50 L102.33 338.50 L102.67 338.50 L103.00 338.50 L103.33 338.50 L103.67 338.50 L104.00 338.50 L104.33 338.50 L104.67 338.50 L105.00 338.50 L105.33 338.50 L105.67 338.50 L106.00 338.50 L106.33 338.50 L106.67 338.50 L107.00 338.50 L107.33 338.50 L107.67 338.50 L108.00 338.50 L108.33 338.50 L108.67 338.50 L109.00 338.50 L109.33 338.50 L109.67 338.50 L110.00 338.50 L110.33 338.50 L110.67 338.50 L111.00 338.49 L111.33 338.49 L111.60 338.48 L111.67 338.48 L111.73 338.48 L111.87 338.47 L112.00 338.47 L112.00 338.47 L112.14 338.46 L112.27 338.45 L112.33 338.45 L112.41 338.44 L112.54 338.43 L112.67 338.42 L112.68 338.42 L112.81 338.40 L112.94 338.38 L113.00 338.37 L113.08 338.36 L113.21 338.33 L113.33 338.31 L113.35 338.30 L113.48 338.27 L113.62 338.22 L113.67 338.20 L113.75 338.17 L113.89 338.11 L114.00 338.05 L114.02 338.04 L114.15 337.96 L114.29 337.87 L114.33 337.83 L114.42 337.76 L114.56 337.63 L114.67 337.51 L114.69 337.49 L114.83 337.32 L114.96 337.12 L115.00 337.06 L115.10 336.90 L115.23 336.64 L115.33 336.42 L115.36 336.35 L115.50 336.02 L115.63 335.64 L115.67 335.54 L115.77 335.21 L115.90 334.73 L116.00 334.34 L116.04 334.18 L116.17 333.57 L116.31 332.88 L116.33 332.73 L116.44 332.11 L116.57 331.25 L116.67 330.61 L116.71 330.30 L116.84 329.25 L116.98 328.09 L117.00 327.89 L117.11 326.81 L117.25 325.42 L117.33 324.46 L117.38 323.90 L117.52 322.25 L117.65 320.48 L117.67 320.25 L117.78 318.57 L117.92 316.53 L118.00 315.25 L118.05 314.37 L118.19 312.09 L118.32 309.70 L118.33 309.51 L118.46 307.23 L118.59 304.68 L118.67 303.24 L118.73 302.10 L118.86 299.51 L118.99 296.96 L119.00 296.87 L119.13 294.52 L119.26 292.25 L119.33 291.18 L119.40 290.27 L119.53 288.79 L119.67 288.78 L119.67 288.79 L119.80 290.27 L119.94 292.25 L120.00 293.30 L120.07 294.52 L120.21 296.96 L120.33 299.39 L120.34 299.51 L120.47 302.10 L120.61 304.68 L120.67 305.79 L120.74 307.23 L120.88 309.70 L121.00 311.89 L121.01 312.09 L121.15 314.37 L121.28 316.53 L121.33 317.35 L121.42 318.57 L121.55 320.48 L121.67 322.03 L121.68 322.25 L121.82 323.90 L121.95 325.42 L122.00 325.92 L122.09 326.81 L122.22 328.09 L122.33 329.06 L122.36 329.25 L122.49 330.30 L122.63 331.25 L122.67 331.53 L122.76 332.11 L122.89 332.88 L123.00 333.43 L123.03 333.57 L123.16 334.18 L123.30 334.73 L123.33 334.86 L123.43 335.21 L123.57 335.64 L123.67 335.93 L123.70 336.02 L123.84 336.35 L123.97 336.64 L124.00 336.70 L124.10 336.90 L124.24 337.12 L124.33 337.26 L124.37 337.32 L124.51 337.49 L124.64 337.63 L124.67 337.66 L124.78 337.76 L124.91 337.87 L125.00 337.93 L125.05 337.96 L125.18 338.04 L125.31 338.11 L125.33 338.12 L125.45 338.17 L125.58 338.22 L125.67 338.25 L125.72 338.27 L125.85 338.30 L125.99 338.33 L126.00 338.34 L126.12 338.36 L126.26 338.38 L126.33 338.40 L126.39 338.40 L126.52 338.42 L126.66 338.43 L126.67 338.43 L126.79 338.44 L126.93 338.45 L127.00 338.46 L127.06 338.46 L127.20 338.47 L127.33 338.47 L127.33 338.47 L127.47 338.48 L127.60 338.48 L127.67 338.48 L128.00 338.49 L128.33 338.49 L128.67 338.50 L129.00 338.50 L129.33 338.50 L129.67 338.50 L130.00 338.50 L130.33 338.50 L130.67 338.50 L131.00 338.50 L131.33 338.50 L131.67 338.50 L132.00 338.50 L132.33 338.50 L132.67 338.50 L133.00 338.50 L133.33 338.50 L133.67 338.50 L134.00 338.50 L134.33 338.50 L134.67 338.50 L135.00 338.50 L135.33 338.50 L135.67 338.50 L136.00 338.50 L136.33 338.50 L136.67 338.50 L137.00 338.50 L137.33 338.50 L137.67 338.50 L138.00 338.50 L138.33 338.50 L138.67 338.50 L139.00 338.50 L139.33 338.50 L139.67 338.50 L140.00 338.50 L140.33 338.50 L140.67 338.50 L141.00 338.50 L141.33 338.50 L141.67 338.50 L142.00 338.50 L142.33 338.50 L142.67 338.50 L143.00 338.50 L143.33 338.50 L143.67 338.50 L144.00 338.50 L144.33 338.50 L144.67 338.50 L145.00 338.50 L145.33 338.50 L145.67 338.50 L146.00 338.50 L146.33 338.50 L146.67 338.50 L147.00 338.50 L147.33 338.50 L147.67 338.50 L148.00 338.50 L148.33 338.50 L148.67 338.50 L149.00 338.50 L149.33 338.50 L149.67 338.50 L150.00 338.50 L150.33 338.50 L150.67 338.50 L151.00 338.50 L151.00 338.50 L98.00 338.50Z" fill="#3f495b" stroke="#4c566a" stroke-width="0.6"/>
<path d="M98.00 338.50 L98.33 338.50 L98.67 338.50 L99.00 338.50 L99.33 338.50 L99.67 338.50 L100.00 338.50 L100.33 338.50 L100.67 338.50 L101.00 338.50 L101.33 338.50 L101.67 338.50 L102.00 338.50 L102.33 338.50 L102.67 338.50 L103.00 338.50 L103.33 338.50 L103.67 338.50 L104.00 338.50 L104.33 338.50 L104.67 338.50 L105.00 338.50 L105.33 338.50 L105.67 338.50 L106.00 338.50 L106.33 338.50 L106.67 338.50 L107.00 338.50 L107.33 338.50 L107.67 338.50 L108.00 338.50 L108.33 338.50 L108.67 338.50 L109.00 338.50 L109.33 338.50 L109.67 338.50 L110.00 338.50 L110.33 338.50 L110.67 338.50 L111.00 338.50 L111.33 338.50 L111.67 338.50 L112.00 338.50 L112.33 338.50 L112.67 338.50 L113.00 338.50 L113.33 338.50 L113.67 338.50 L114.00 338.50 L114.33 338.50 L114.67 338.50 L115.00 338.50 L115.33 338.50 L115.67 338.50 L116.00 338.50 L116.33 338.50 L116.67 338.50 L117.00 338.50 L117.33 338.50 L117.67 338.50 L118.00 338.50 L118.33 338.50 L118.67 338.50 L119.00 338.50 L119.33 338.50 L119.67 338.50 L120.00 338.50 L120.33 338.50 L120.67 338.50 L121.00 338.50 L121.33 338.50 L121.67 338.50 L122.00 338.50 L122.33 338.50 L122.67 338.50 L123.00 338.50 L123.33 338.50 L123.67 338.50 L124.00 338.50 L124.33 338.50 L124.67 338.50 L125.00 338.50 L125.33 338.50 L125.67 338.50 L126.00 338.50 L126.33 338.50 L126.67 338.50 L127.00 338.50 L127.33 338.50 L127.67 338.50 L128.00 338.50 L128.33 338.50 L128.67 338.50 L129.00 338.50 L129.33 338.50 L129.67 338.50 L130.00 338.50 L130.33 338.50 L130.67 338.50 L131.00 338.50 L131.33 338.50 L131.67 338.50 L132.00 338.50 L132.33 338.50 L132.67 338.50 L133.00 338.50 L133.33 338.50 L133.67 338.50 L133.80 338.50 L133.93 338.50 L134.00 338.50 L134.07 338.50 L134.20 338.50 L134.33 338.50 L134.34 338.50 L134.47 338.50 L134.61 338.50 L134.67 338.50 L134.74 338.50 L134.88 338.50 L135.00 338.50 L135.01 338.50 L135.14 338.50 L135.28 338.50 L135.33 338.50 L135.41 338.50 L135.55 338.50 L135.67 338.50 L135.68 338.50 L135.82 338.50 L135.95 338.50 L136.00 338.50 L136.09 338.50 L136.22 338.50 L136.33 338.49 L136.35 338.49 L136.49 338.49 L136.62 338.49 L136.67 338.49 L136.76 338.48 L136.89 338.47 L137.00 338.47 L137.03 338.46 L137.16 338.45 L137.30 338.43 L137.33 338.42 L137.43 338.40 L137.56 338.35 L137.67 338.31 L137.70 338.30 L137.83 338.22 L137.97 338.12 L138.00 338.10 L138.10 337.99 L138.24 337.82 L138.33 337.67 L138.37 337.60 L138.51 337.31 L138.64 336.95 L138.67 336.87 L138.77 336.50 L138.91 335.94 L139.00 335.49 L139.04 335.25 L139.18 334.42 L139.31 333.41 L139.33 333.24 L139.45 332.22 L139.58 330.82 L139.67 329.82 L139.72 329.20 L139.85 327.34 L139.98 325.24 L140.00 324.99 L140.12 322.91 L140.25 320.34 L140.33 318.72 L140.39 317.57 L140.52 314.63 L140.66 311.56 L140.67 311.34 L140.79 308.42 L140.93 305.29 L141.00 303.61 L141.06 302.26 L141.19 299.41 L141.33 296.86 L141.33 296.80 L141.46 294.72 L141.60 293.10 L141.67 292.53 L141.73 292.15 L141.87 292.15 L142.00 293.09 L142.00 293.10 L142.14 294.72 L142.27 296.86 L142.33 298.01 L142.41 299.41 L142.54 302.26 L142.67 305.13 L142.67 305.29 L142.81 308.42 L142.94 311.56 L143.00 312.87 L143.08 314.63 L143.21 317.57 L143.33 320.08 L143.35 320.34 L143.48 322.91 L143.62 325.24 L143.67 326.08 L143.75 327.34 L143.88 329.20 L144.00 330.61 L144.02 330.82 L144.15 332.22 L144.29 333.41 L144.33 333.78 L144.42 334.42 L144.56 335.25 L144.67 335.83 L144.69 335.94 L144.83 336.50 L144.96 336.95 L145.00 337.07 L145.09 337.31 L145.23 337.60 L145.33 337.78 L145.36 337.82 L145.50 337.99 L145.63 338.12 L145.67 338.15 L145.77 338.22 L145.90 338.30 L146.00 338.34 L146.04 338.35 L146.17 338.40 L146.30 338.43 L146.33 338.43 L146.44 338.45 L146.57 338.46 L146.67 338.47 L146.71 338.47 L146.84 338.48 L146.98 338.49 L147.00 338.49 L147.11 338.49 L147.25 338.49 L147.33 338.50 L147.38 338.50 L147.51 338.50 L147.65 338.50 L147.67 338.50 L147.78 338.50 L147.92 338.50 L148.00 338.50 L148.05 338.50 L148.19 338.50 L148.32 338.50 L148.33 338.50 L148.46 338.50 L148.59 338.50 L148.67 338.50 L148.72 338.50 L148.86 338.50 L148.99 338.50 L149.00 338.50 L149.13 338.50 L149.26 338.50 L149.33 338.50 L149.40 338.50 L149.53 338.50 L149.67 338.50 L149.67 338.50 L149.80 338.50 L150.00 338.50 L150.33 338.50 L150.67 338.50 L151.00 338.50 L151.00 338.50 L98.00 338.50Z" fill="#d2d2d4" stroke="#b9b9bb" stroke-width="0.5"/>
<path d="M98.00 338.50 L98.33 338.50 L98.67 338.50 L99.00 338.50 L99.33 338.50 L99.67 338.50 L100.00 338.50 L100.33 338.50 L100.67 338.50 L101.00 338.50 L101.33 338.50 L101.67 338.50 L102.00 338.50 L102.33 338.50 L102.67 338.50 L103.00 338.50 L103.33 338.50 L103.67 338.50 L104.00 338.50 L104.33 338.50 L104.67 338.50 L105.00 338.50 L105.33 338.50 L105.67 338.50 L106.00 338.50 L106.33 338.50 L106.67 338.50 L107.00 338.50 L107.33 338.50 L107.67 338.50 L108.00 338.50 L108.33 338.50 L108.67 338.50 L109.00 338.50 L109.33 338.50 L109.67 338.50 L110.00 338.50 L110.33 338.50 L110.67 338.50 L111.00 338.50 L111.33 338.50 L111.67 338.50 L112.00 338.50 L112.33 338.50 L112.67 338.50 L113.00 338.50 L113.33 338.50 L113.67 338.50 L114.00 338.50 L114.33 338.50 L114.67 338.50 L115.00 338.50 L115.33 338.50 L115.67 338.50 L116.00 338.50 L116.33 338.50 L116.67 338.50 L117.00 338.50 L117.33 338.50 L117.67 338.50 L118.00 338.50 L118.33 338.50 L118.67 338.50 L119.00 338.50 L119.33 338.50 L119.67 338.50 L120.00 338.50 L120.33 338.50 L120.67 338.50 L121.00 338.50 L121.33 338.50 L121.67 338.50 L122.00 338.50 L122.33 338.50 L122.67 338.50 L123.00 338.50 L123.33 338.50 L123.67 338.50 L124.00 338.50 L124.33 338.50 L124.67 338.50 L125.00 338.50 L125.33 338.50 L125.67 338.50 L126.00 338.50 L126.33 338.50 L126.67 338.50 L127.00 338.50 L127.33 338.50 L127.67 338.50 L128.00 338.50 L128.33 338.50 L128.67 338.50 L129.00 338.50 L129.33 338.50 L129.67 338.50 L130.00 338.50 L130.33 338.50 L130.67 338.50 L131.00 338.50 L131.33 338.50 L131.67 338.50 L132.00 338.50 L132.33 338.50 L132.67 338.50 L133.00 338.50 L133.33 338.50 L133.67 338.50 L133.80 338.50 L133.93 338.50 L134.00 338.50 L134.07 338.50 L134.20 338.50 L134.33 338.50 L134.34 338.50 L134.47 338.50 L134.61 338.50 L134.67 338.49 L134.74 338.49 L134.88 338.49 L135.00 338.48 L135.01 338.48 L135.14 338.48 L135.28 338.47 L135.33 338.46 L135.41 338.45 L135.55 338.43 L135.67 338.41 L135.68 338.41 L135.82 338.37 L135.95 338.33 L136.00 338.31 L136.09 338.27 L136.22 338.20 L136.33 338.13 L136.35 338.11 L136.49 338.00 L136.62 337.87 L136.67 337.82 L136.76 337.71 L136.89 337.53 L137.00 337.36 L137.03 337.32 L137.16 337.08 L137.30 336.82 L137.33 336.74 L137.43 336.53 L137.56 336.21 L137.67 335.96 L137.70 335.88 L137.83 335.52 L137.97 335.14 L138.00 335.05 L138.10 334.74 L138.24 334.32 L138.33 334.00 L138.37 333.87 L138.51 333.38 L138.64 332.85 L138.67 332.74 L138.77 332.26 L138.91 331.60 L139.00 331.10 L139.04 330.85 L139.18 330.00 L139.31 329.02 L139.33 328.85 L139.45 327.90 L139.58 326.62 L139.67 325.72 L139.72 325.16 L139.85 323.52 L139.98 321.68 L140.00 321.47 L140.12 319.65 L140.25 317.43 L140.33 316.03 L140.39 315.03 L140.52 312.46 L140.66 309.76 L140.67 309.56 L140.79 306.96 L140.93 304.11 L141.00 302.55 L141.06 301.28 L141.19 298.52 L141.33 295.94 L141.33 295.87 L141.46 293.63 L141.60 291.73 L141.67 290.99 L141.73 290.45 L141.87 290.46 L142.00 291.74 L142.00 291.76 L142.14 293.67 L142.27 296.00 L142.33 297.19 L142.41 298.61 L142.54 301.40 L142.67 304.13 L142.67 304.29 L142.81 307.19 L142.94 310.06 L143.00 311.26 L143.08 312.85 L143.21 315.52 L143.33 317.81 L143.35 318.05 L143.48 320.41 L143.62 322.59 L143.67 323.38 L143.75 324.59 L143.88 326.41 L144.00 327.84 L144.02 328.05 L144.15 329.52 L144.29 330.82 L144.33 331.23 L144.42 331.96 L144.56 332.97 L144.67 333.69 L144.69 333.84 L144.83 334.59 L144.96 335.24 L145.00 335.42 L145.09 335.79 L145.23 336.26 L145.33 336.58 L145.36 336.66 L145.50 336.99 L145.63 337.27 L145.67 337.33 L145.77 337.50 L145.90 337.69 L146.00 337.81 L146.04 337.85 L146.17 337.98 L146.30 338.08 L146.33 338.10 L146.44 338.17 L146.57 338.24 L146.67 338.28 L146.71 338.29 L146.84 338.34 L146.98 338.37 L147.00 338.38 L147.11 338.40 L147.25 338.42 L147.33 338.43 L147.38 338.44 L147.51 338.45 L147.65 338.46 L147.67 338.47 L147.78 338.47 L147.92 338.48 L148.00 338.48 L148.05 338.48 L148.19 338.49 L148.32 338.49 L148.33 338.49 L148.46 338.49 L148.59 338.49 L148.67 338.50 L148.72 338.50 L148.86 338.50 L148.99 338.50 L149.00 338.50 L149.13 338.50 L149.26 338.50 L149.33 338.50 L149.40 338.50 L149.53 338.50 L149.67 338.50 L149.67 338.50 L149.80 338.50 L150.00 338.50 L150.33 338.50 L150.67 338.50 L151.00 338.50" fill="none" stroke="#c62a50" stroke-width="1.1"/>
<path d="M98.00 338.50 L98.33 338.50 L98.67 338.50 L99.00 338.50 L99.33 338.50 L99.67 338.50 L100.00 338.50 L100.33 338.50 L100.67 338.50 L101.00 338.50 L101.33 338.50 L101.67 338.50 L102.00 338.50 L102.33 338.50 L102.67 338.50 L103.00 338.50 L103.33 338.50 L103.67 338.50 L104.00 338.50 L104.33 338.50 L104.67 338.50 L105.00 338.50 L105.33 338.50 L105.67 338.50 L106.00 338.50 L106.33 338.50 L106.67 338.50 L107.00 338.50 L107.33 338.50 L107.67 338.50 L108.00 338.50 L108.33 338.50 L108.67 338.50 L109.00 338.50 L109.33 338.50 L109.67 338.50 L110.00 338.50 L110.33 338.50 L110.67 338.50 L111.00 338.50 L111.33 338.50 L111.67 338.50 L112.00 338.50 L112.33 338.50 L112.67 338.50 L113.00 338.50 L113.33 338.50 L113.67 338.50 L114.00 338.50 L114.33 338.50 L114.67 338.50 L115.00 338.50 L115.33 338.50 L115.67 338.50 L116.00 338.50 L116.33 338.50 L116.67 338.50 L117.00 338.50 L117.33 338.50 L117.67 338.50 L118.00 338.50 L118.33 338.50 L118.67 338.50 L119.00 338.50 L119.33 338.50 L119.67 338.50 L120.00 338.50 L120.33 338.50 L120.67 338.50 L121.00 338.50 L121.33 338.50 L121.67 338.50 L122.00 338.50 L122.33 338.50 L122.67 338.50 L123.00 338.50 L123.33 338.50 L123.67 338.50 L124.00 338.50 L124.33 338.50 L124.67 338.50 L125.00 338.50 L125.33 338.50 L125.67 338.50 L126.00 338.50 L126.33 338.50 L126.67 338.50 L127.00 338.50 L127.33 338.50 L127.67 338.50 L128.00 338.50 L128.33 338.50 L128.67 338.50 L129.00 338.50 L129.33 338.50 L129.67 338.50 L130.00 338.50 L130.33 338.50 L130.67 338.50 L131.00 338.50 L131.33 338.50 L131.67 338.50 L132.00 338.50 L132.33 338.50 L132.67 338.50 L133.00 338.50 L133.33 338.50 L133.67 338.50 L134.00 338.50 L134.13 338.50 L134.27 338.50 L134.33 338.50 L134.40 338.50 L134.54 338.50 L134.67 338.50 L134.67 338.50 L134.81 338.50 L134.94 338.50 L135.00 338.50 L135.08 338.50 L135.21 338.50 L135.33 338.49 L135.34 338.49 L135.48 338.49 L135.61 338.49 L135.67 338.49 L135.75 338.48 L135.88 338.48 L136.00 338.47 L136.02 338.47 L136.15 338.47 L136.29 338.45 L136.33 338.45 L136.42 338.44 L136.55 338.42 L136.67 338.41 L136.69 338.40 L136.82 338.37 L136.96 338.34 L137.00 338.33 L137.09 338.30 L137.23 338.24 L137.33 338.19 L137.36 338.17 L137.50 338.09 L137.63 337.99 L137.67 337.96 L137.76 337.86 L137.90 337.71 L138.00 337.57 L138.03 337.52 L138.17 337.29 L138.30 337.02 L138.33 336.95 L138.44 336.69 L138.57 336.30 L138.67 335.98 L138.71 335.84 L138.84 335.29 L138.97 334.66 L139.00 334.53 L139.11 333.92 L139.24 333.06 L139.33 332.42 L139.38 332.07 L139.51 330.95 L139.65 329.67 L139.67 329.47 L139.78 328.22 L139.92 326.61 L140.00 325.52 L140.05 324.82 L140.18 322.85 L140.32 320.71 L140.33 320.47 L140.45 318.38 L140.59 315.90 L140.67 314.39 L140.72 313.28 L140.86 310.53 L140.99 307.71 L141.00 307.53 L141.13 304.86 L141.26 302.02 L141.33 300.52 L141.39 299.28 L141.53 296.71 L141.66 294.42 L141.67 294.38 L141.80 292.54 L141.93 291.27 L142.00 291.00 L142.07 291.27 L142.20 292.54 L142.33 294.38 L142.34 294.42 L142.47 296.71 L142.61 299.28 L142.67 300.52 L142.74 302.02 L142.87 304.86 L143.00 307.53 L143.01 307.71 L143.14 310.53 L143.28 313.28 L143.33 314.39 L143.41 315.90 L143.55 318.38 L143.67 320.47 L143.68 320.71 L143.82 322.85 L143.95 324.82 L144.00 325.52 L144.08 326.61 L144.22 328.22 L144.33 329.47 L144.35 329.67 L144.49 330.95 L144.62 332.07 L144.67 332.42 L144.76 333.06 L144.89 333.92 L145.00 334.53 L145.03 334.66 L145.16 335.29 L145.29 335.84 L145.33 335.98 L145.43 336.30 L145.56 336.69 L145.67 336.95 L145.70 337.02 L145.83 337.29 L145.97 337.52 L146.00 337.57 L146.10 337.71 L146.24 337.86 L146.33 337.96 L146.37 337.99 L146.50 338.09 L146.64 338.17 L146.67 338.19 L146.77 338.24 L146.91 338.30 L147.00 338.33 L147.04 338.34 L147.18 338.37 L147.31 338.40 L147.33 338.41 L147.45 338.42 L147.58 338.44 L147.67 338.45 L147.71 338.45 L147.85 338.47 L147.98 338.47 L148.00 338.47 L148.12 338.48 L148.25 338.48 L148.33 338.49 L148.39 338.49 L148.52 338.49 L148.66 338.49 L148.67 338.49 L148.79 338.50 L148.92 338.50 L149.00 338.50 L149.06 338.50 L149.19 338.50 L149.33 338.50 L149.33 338.50 L149.46 338.50 L149.60 338.50 L149.67 338.50 L149.73 338.50 L149.87 338.50 L150.00 338.50 L150.33 338.50 L150.67 338.50 L151.00 338.50" fill="none" stroke="#41609c" stroke-width="1.1"/>
<path d="M94.50 338.50H97.50" stroke="#444" stroke-width="0.7"/>
<text x="90.60" y="340.10" font-size="4.4" text-anchor="middle" fill="#333" stroke="#333" stroke-width="0.18" >0</text>
<path d="M99.80 338.50V340.80M106.90 338.50V340.80M114.00 338.50V340.80M121.10 338.50V340.80M128.20 338.50V340.80M135.30 338.50V340.80M142.40 338.50V340.80M149.50 338.50V340.80" stroke="#333" stroke-width="0.8"/>
<path d="M103.30 338.50V339.90M110.40 338.50V339.90M117.50 338.50V339.90M124.60 338.50V339.90M131.70 338.50V339.90M138.80 338.50V339.90M145.90 338.50V339.90" stroke="#777" stroke-width="0.6"/>
<text x="102.90" y="349.10" font-size="4.4" text-anchor="middle" fill="#444">10<tspan font-size="3" dy="-2.3">1</tspan></text>
<text x="110.55" y="349.10" font-size="4.4" text-anchor="middle" fill="#444">10<tspan font-size="3" dy="-2.3">2</tspan></text>
<text x="118.20" y="349.10" font-size="4.4" text-anchor="middle" fill="#444">10<tspan font-size="3" dy="-2.3">3</tspan></text>
<text x="125.85" y="349.10" font-size="4.4" text-anchor="middle" fill="#444">10<tspan font-size="3" dy="-2.3">4</tspan></text>
<text x="133.50" y="349.10" font-size="4.4" text-anchor="middle" fill="#444">10<tspan font-size="3" dy="-2.3">5</tspan></text>
<text x="141.15" y="349.10" font-size="4.4" text-anchor="middle" fill="#444">10<tspan font-size="3" dy="-2.3">6</tspan></text>
<text x="148.80" y="349.10" font-size="4.4" text-anchor="middle" fill="#444">10<tspan font-size="3" dy="-2.3">7</tspan></text>
<text x="53.20" y="369.40" font-size="10.4" text-anchor="middle" fill="#231f20" textLength="29.5" lengthAdjust="spacingAndGlyphs" stroke="#231f20" stroke-width="0.12" >SNT15</text>
<rect x="26.30" y="373.60" width="54.00" height="53.90" fill="none" stroke="#1a1a1a" stroke-width="1.1"/>
<path d="M26.80 427.50 L27.13 427.50 L27.47 427.50 L27.80 427.50 L28.13 427.50 L28.47 427.50 L28.80 427.50 L29.13 427.50 L29.47 427.50 L29.80 427.50 L30.13 427.50 L30.47 427.50 L30.80 427.50 L31.13 427.50 L31.47 427.50 L31.80 427.50 L32.13 427.50 L32.47 427.50 L32.80 427.50 L33.13 427.50 L33.47 427.50 L33.80 427.50 L34.13 427.50 L34.47 427.50 L34.80 427.50 L35.13 427.50 L35.47 427.50 L35.80 427.50 L36.13 427.50 L36.47 427.50 L36.80 427.50 L37.13 427.50 L37.47 427.50 L37.80 427.50 L38.13 427.50 L38.47 427.50 L38.80 427.50 L39.13 427.50 L39.47 427.50 L39.80 427.50 L40.13 427.49 L40.47 427.49 L40.70 427.48 L40.80 427.48 L40.83 427.48 L40.97 427.47 L41.10 427.47 L41.13 427.47 L41.24 427.46 L41.37 427.46 L41.47 427.45 L41.51 427.45 L41.64 427.44 L41.78 427.42 L41.80 427.42 L41.91 427.41 L42.04 427.39 L42.13 427.38 L42.18 427.37 L42.31 427.34 L42.45 427.32 L42.47 427.31 L42.58 427.28 L42.72 427.24 L42.80 427.21 L42.85 427.19 L42.99 427.14 L43.12 427.07 L43.13 427.06 L43.25 427.00 L43.39 426.91 L43.47 426.85 L43.52 426.80 L43.66 426.69 L43.79 426.55 L43.80 426.54 L43.93 426.39 L44.06 426.21 L44.13 426.10 L44.20 426.00 L44.33 425.76 L44.46 425.48 L44.47 425.48 L44.60 425.17 L44.73 424.82 L44.80 424.63 L44.87 424.42 L45.00 423.96 L45.13 423.46 L45.14 423.45 L45.27 422.87 L45.41 422.23 L45.47 421.91 L45.54 421.50 L45.67 420.70 L45.80 419.87 L45.81 419.81 L45.94 418.82 L46.08 417.73 L46.13 417.25 L46.21 416.54 L46.35 415.23 L46.47 413.97 L46.48 413.80 L46.62 412.26 L46.75 410.59 L46.80 409.95 L46.88 408.80 L47.02 406.89 L47.13 405.18 L47.15 404.86 L47.29 402.72 L47.42 400.49 L47.47 399.73 L47.56 398.16 L47.69 395.78 L47.80 393.82 L47.83 393.35 L47.96 390.92 L48.09 388.53 L48.13 387.86 L48.23 386.24 L48.36 384.11 L48.47 382.66 L48.50 382.26 L48.63 380.86 L48.77 380.86 L48.80 381.14 L48.90 382.26 L49.04 384.11 L49.13 385.63 L49.17 386.24 L49.31 388.53 L49.44 390.92 L49.47 391.41 L49.57 393.35 L49.71 395.78 L49.80 397.41 L49.84 398.16 L49.98 400.49 L50.11 402.72 L50.13 403.07 L50.25 404.86 L50.38 406.89 L50.47 408.13 L50.52 408.80 L50.65 410.59 L50.78 412.26 L50.80 412.45 L50.92 413.80 L51.05 415.23 L51.13 416.02 L51.19 416.54 L51.32 417.73 L51.46 418.82 L51.47 418.90 L51.59 419.81 L51.73 420.70 L51.80 421.16 L51.86 421.50 L51.99 422.23 L52.13 422.87 L52.13 422.89 L52.26 423.45 L52.40 423.96 L52.47 424.20 L52.53 424.42 L52.67 424.82 L52.80 425.17 L52.80 425.17 L52.94 425.48 L53.07 425.76 L53.13 425.88 L53.20 426.00 L53.34 426.21 L53.47 426.38 L53.47 426.39 L53.61 426.55 L53.74 426.69 L53.80 426.74 L53.88 426.80 L54.01 426.91 L54.13 426.99 L54.15 427.00 L54.28 427.07 L54.41 427.14 L54.47 427.16 L54.55 427.19 L54.68 427.24 L54.80 427.28 L54.82 427.28 L54.95 427.32 L55.09 427.34 L55.13 427.35 L55.22 427.37 L55.36 427.39 L55.47 427.41 L55.49 427.41 L55.62 427.42 L55.76 427.44 L55.80 427.44 L55.89 427.45 L56.03 427.46 L56.13 427.46 L56.16 427.46 L56.30 427.47 L56.43 427.47 L56.47 427.48 L56.57 427.48 L56.70 427.48 L56.80 427.49 L57.13 427.49 L57.47 427.49 L57.80 427.50 L58.13 427.50 L58.47 427.50 L58.80 427.50 L59.13 427.50 L59.47 427.50 L59.80 427.50 L60.13 427.50 L60.47 427.50 L60.80 427.50 L61.13 427.50 L61.47 427.50 L61.80 427.50 L62.13 427.50 L62.47 427.50 L62.80 427.50 L63.13 427.50 L63.47 427.50 L63.80 427.50 L64.13 427.50 L64.47 427.50 L64.80 427.50 L65.13 427.50 L65.47 427.50 L65.80 427.50 L66.13 427.50 L66.47 427.50 L66.80 427.50 L67.13 427.50 L67.47 427.50 L67.80 427.50 L68.13 427.50 L68.47 427.50 L68.80 427.50 L69.13 427.50 L69.47 427.50 L69.80 427.50 L70.13 427.50 L70.47 427.50 L70.80 427.50 L71.13 427.50 L71.47 427.50 L71.80 427.50 L72.13 427.50 L72.47 427.50 L72.80 427.50 L73.13 427.50 L73.47 427.50 L73.80 427.50 L74.13 427.50 L74.47 427.50 L74.80 427.50 L75.13 427.50 L75.47 427.50 L75.80 427.50 L76.13 427.50 L76.47 427.50 L76.80 427.50 L77.13 427.50 L77.47 427.50 L77.80 427.50 L78.13 427.50 L78.47 427.50 L78.80 427.50 L79.13 427.50 L79.47 427.50 L79.80 427.50 L79.80 427.50 L26.80 427.50Z" fill="#3f495b" stroke="#4c566a" stroke-width="0.6"/>
<path d="M26.80 427.50 L27.13 427.50 L27.47 427.50 L27.80 427.50 L28.13 427.50 L28.47 427.50 L28.80 427.50 L29.13 427.50 L29.47 427.50 L29.80 427.50 L30.13 427.50 L30.47 427.50 L30.80 427.50 L31.13 427.50 L31.47 427.50 L31.80 427.50 L32.13 427.50 L32.47 427.50 L32.80 427.50 L33.13 427.50 L33.47 427.50 L33.80 427.50 L34.13 427.50 L34.47 427.50 L34.80 427.50 L35.13 427.50 L35.47 427.50 L35.80 427.50 L36.13 427.50 L36.47 427.50 L36.80 427.50 L37.13 427.50 L37.47 427.50 L37.80 427.50 L38.13 427.50 L38.47 427.50 L38.80 427.50 L39.13 427.50 L39.47 427.50 L39.80 427.50 L40.13 427.50 L40.47 427.50 L40.80 427.50 L41.13 427.50 L41.47 427.50 L41.80 427.50 L42.13 427.50 L42.47 427.50 L42.80 427.50 L43.13 427.50 L43.47 427.50 L43.80 427.50 L44.13 427.50 L44.47 427.50 L44.80 427.50 L45.13 427.50 L45.47 427.50 L45.80 427.50 L46.13 427.50 L46.47 427.50 L46.80 427.50 L47.13 427.50 L47.47 427.50 L47.80 427.50 L48.13 427.50 L48.47 427.50 L48.80 427.50 L49.13 427.50 L49.47 427.50 L49.80 427.50 L50.13 427.50 L50.47 427.50 L50.80 427.50 L51.13 427.50 L51.47 427.50 L51.80 427.50 L52.13 427.50 L52.47 427.50 L52.80 427.50 L53.13 427.50 L53.47 427.50 L53.80 427.50 L54.13 427.50 L54.47 427.50 L54.80 427.50 L55.13 427.50 L55.47 427.50 L55.80 427.50 L56.13 427.50 L56.47 427.50 L56.80 427.50 L57.13 427.50 L57.47 427.50 L57.80 427.50 L58.13 427.50 L58.47 427.50 L58.80 427.50 L59.13 427.50 L59.47 427.50 L59.80 427.50 L60.13 427.50 L60.47 427.50 L60.80 427.50 L61.13 427.50 L61.47 427.50 L61.80 427.50 L62.13 427.50 L62.47 427.50 L62.80 427.50 L62.93 427.50 L63.07 427.50 L63.13 427.50 L63.20 427.50 L63.34 427.50 L63.47 427.50 L63.47 427.50 L63.61 427.50 L63.74 427.49 L63.80 427.49 L63.88 427.49 L64.01 427.49 L64.13 427.49 L64.14 427.49 L64.28 427.48 L64.41 427.48 L64.47 427.47 L64.55 427.47 L64.68 427.46 L64.80 427.45 L64.82 427.45 L64.95 427.44 L65.09 427.42 L65.13 427.41 L65.22 427.40 L65.35 427.37 L65.47 427.34 L65.49 427.34 L65.62 427.29 L65.76 427.24 L65.80 427.22 L65.89 427.18 L66.03 427.10 L66.13 427.03 L66.16 427.01 L66.30 426.89 L66.43 426.75 L66.47 426.71 L66.56 426.59 L66.70 426.39 L66.80 426.21 L66.83 426.15 L66.97 425.87 L67.10 425.53 L67.13 425.45 L67.24 425.14 L67.37 424.68 L67.47 424.31 L67.51 424.15 L67.64 423.53 L67.77 422.81 L67.80 422.67 L67.91 422.00 L68.04 421.06 L68.13 420.37 L68.18 420.01 L68.31 418.82 L68.45 417.48 L68.47 417.28 L68.58 416.00 L68.72 414.37 L68.80 413.26 L68.85 412.57 L68.98 410.62 L69.12 408.52 L69.13 408.29 L69.25 406.27 L69.39 403.89 L69.47 402.45 L69.52 401.40 L69.66 398.83 L69.79 396.20 L69.80 396.03 L69.93 393.56 L70.06 390.96 L70.13 389.58 L70.19 388.46 L70.33 386.13 L70.46 384.07 L70.47 384.03 L70.60 382.38 L70.73 381.24 L70.80 381.00 L70.87 381.24 L71.00 382.38 L71.13 384.03 L71.14 384.07 L71.27 386.13 L71.41 388.46 L71.47 389.58 L71.54 390.96 L71.67 393.56 L71.80 396.03 L71.81 396.20 L71.94 398.83 L72.08 401.40 L72.13 402.45 L72.21 403.89 L72.35 406.27 L72.47 408.29 L72.48 408.52 L72.62 410.62 L72.75 412.57 L72.80 413.26 L72.88 414.37 L73.02 416.00 L73.13 417.28 L73.15 417.48 L73.29 418.82 L73.42 420.01 L73.47 420.37 L73.56 421.06 L73.69 422.00 L73.80 422.67 L73.83 422.81 L73.96 423.53 L74.09 424.15 L74.13 424.31 L74.23 424.68 L74.36 425.14 L74.47 425.45 L74.50 425.53 L74.63 425.87 L74.77 426.15 L74.80 426.21 L74.90 426.39 L75.04 426.59 L75.13 426.71 L75.17 426.75 L75.30 426.89 L75.44 427.01 L75.47 427.03 L75.57 427.10 L75.71 427.18 L75.80 427.22 L75.84 427.24 L75.98 427.29 L76.11 427.34 L76.13 427.34 L76.25 427.37 L76.38 427.40 L76.47 427.41 L76.51 427.42 L76.65 427.44 L76.78 427.45 L76.80 427.45 L76.92 427.46 L77.05 427.47 L77.13 427.47 L77.19 427.48 L77.32 427.48 L77.46 427.49 L77.47 427.49 L77.59 427.49 L77.72 427.49 L77.80 427.49 L77.86 427.49 L77.99 427.50 L78.13 427.50 L78.13 427.50 L78.26 427.50 L78.40 427.50 L78.47 427.50 L78.53 427.50 L78.67 427.50 L78.80 427.50 L79.13 427.50 L79.47 427.50 L79.80 427.50 L79.80 427.50 L26.80 427.50Z" fill="#d2d2d4" stroke="#b9b9bb" stroke-width="0.5"/>
<path d="M26.80 427.50 L27.13 427.50 L27.47 427.50 L27.80 427.50 L28.13 427.50 L28.47 427.50 L28.80 427.50 L29.13 427.50 L29.47 427.50 L29.80 427.50 L30.13 427.50 L30.47 427.50 L30.80 427.50 L31.13 427.50 L31.47 427.50 L31.80 427.50 L32.13 427.50 L32.47 427.50 L32.80 427.50 L33.13 427.50 L33.47 427.50 L33.80 427.50 L34.13 427.50 L34.47 427.50 L34.80 427.50 L35.13 427.50 L35.47 427.50 L35.80 427.50 L36.13 427.50 L36.47 427.50 L36.80 427.50 L37.13 427.50 L37.47 427.50 L37.80 427.50 L38.13 427.50 L38.47 427.50 L38.80 427.50 L39.13 427.50 L39.47 427.50 L39.80 427.50 L40.13 427.50 L40.47 427.50 L40.80 427.50 L41.13 427.50 L41.47 427.50 L41.80 427.50 L42.13 427.50 L42.47 427.50 L42.80 427.50 L43.13 427.50 L43.47 427.50 L43.80 427.50 L44.13 427.50 L44.47 427.50 L44.80 427.50 L45.13 427.50 L45.47 427.50 L45.80 427.50 L46.13 427.50 L46.47 427.50 L46.80 427.50 L47.13 427.50 L47.47 427.50 L47.80 427.50 L48.13 427.50 L48.47 427.50 L48.80 427.50 L49.13 427.50 L49.47 427.50 L49.80 427.50 L50.13 427.50 L50.47 427.50 L50.80 427.50 L51.13 427.50 L51.47 427.50 L51.80 427.50 L52.13 427.50 L52.47 427.50 L52.80 427.50 L53.13 427.50 L53.47 427.50 L53.80 427.50 L54.13 427.50 L54.47 427.50 L54.80 427.50 L55.13 427.50 L55.47 427.50 L55.80 427.50 L56.13 427.50 L56.47 427.50 L56.80 427.49 L57.13 427.49 L57.47 427.48 L57.80 427.47 L58.13 427.46 L58.47 427.43 L58.80 427.40 L59.13 427.36 L59.47 427.30 L59.80 427.22 L60.13 427.12 L60.47 427.00 L60.80 426.86 L61.13 426.70 L61.47 426.51 L61.80 426.32 L62.13 426.11 L62.47 425.91 L62.70 425.77 L62.80 425.71 L62.83 425.70 L62.97 425.62 L63.10 425.55 L63.13 425.53 L63.24 425.48 L63.37 425.42 L63.47 425.37 L63.51 425.36 L63.64 425.30 L63.78 425.24 L63.80 425.23 L63.91 425.19 L64.04 425.14 L64.13 425.11 L64.18 425.09 L64.31 425.04 L64.45 425.00 L64.47 424.99 L64.58 424.95 L64.72 424.90 L64.80 424.86 L64.85 424.84 L64.99 424.78 L65.12 424.71 L65.13 424.70 L65.25 424.63 L65.39 424.54 L65.47 424.48 L65.52 424.44 L65.66 424.32 L65.79 424.18 L65.80 424.17 L65.93 424.01 L66.06 423.82 L66.13 423.71 L66.20 423.61 L66.33 423.36 L66.46 423.08 L66.47 423.07 L66.60 422.75 L66.73 422.39 L66.80 422.19 L66.87 421.97 L67.00 421.51 L67.13 421.01 L67.14 420.99 L67.27 420.42 L67.41 419.77 L67.47 419.46 L67.54 419.06 L67.67 418.28 L67.80 417.48 L67.81 417.42 L67.94 416.47 L68.08 415.44 L68.13 414.99 L68.21 414.32 L68.35 413.10 L68.47 411.93 L68.48 411.78 L68.62 410.36 L68.75 408.83 L68.80 408.24 L68.88 407.19 L69.02 405.45 L69.13 403.88 L69.15 403.59 L69.29 401.63 L69.42 399.56 L69.47 398.86 L69.56 397.40 L69.69 395.15 L69.80 393.28 L69.83 392.82 L69.96 390.45 L70.09 388.05 L70.13 387.36 L70.23 385.66 L70.36 383.34 L70.47 381.67 L70.50 381.19 L70.63 379.37 L70.77 379.57 L70.80 380.10 L70.90 381.98 L71.04 384.80 L71.13 386.94 L71.17 387.77 L71.31 390.78 L71.44 393.74 L71.47 394.33 L71.57 396.62 L71.71 399.36 L71.80 401.15 L71.84 401.96 L71.98 404.41 L72.11 406.68 L72.13 407.03 L72.25 408.79 L72.38 410.73 L72.47 411.88 L72.52 412.51 L72.65 414.13 L72.78 415.61 L72.80 415.78 L72.92 416.95 L73.05 418.16 L73.13 418.82 L73.19 419.24 L73.32 420.22 L73.46 421.09 L73.47 421.15 L73.59 421.87 L73.73 422.56 L73.80 422.91 L73.86 423.18 L73.99 423.72 L74.13 424.21 L74.13 424.22 L74.26 424.63 L74.40 425.00 L74.47 425.18 L74.53 425.33 L74.67 425.62 L74.80 425.87 L74.80 425.87 L74.94 426.09 L75.07 426.29 L75.13 426.37 L75.20 426.45 L75.34 426.60 L75.47 426.72 L75.47 426.73 L75.61 426.83 L75.74 426.93 L75.80 426.97 L75.88 427.01 L76.01 427.08 L76.13 427.14 L76.15 427.14 L76.28 427.19 L76.41 427.24 L76.47 427.26 L76.55 427.28 L76.68 427.31 L76.80 427.34 L76.82 427.34 L76.95 427.36 L77.09 427.38 L77.13 427.39 L77.22 427.40 L77.36 427.42 L77.47 427.43 L77.49 427.43 L77.62 427.44 L77.76 427.45 L77.80 427.45 L77.89 427.46 L78.03 427.46 L78.13 427.47 L78.16 427.47 L78.30 427.48 L78.43 427.48 L78.47 427.48 L78.57 427.48 L78.70 427.49 L78.80 427.49 L79.13 427.49 L79.47 427.49 L79.80 427.50" fill="none" stroke="#c62a50" stroke-width="1.1"/>
<path d="M26.80 427.50 L27.13 427.50 L27.47 427.50 L27.80 427.50 L28.13 427.50 L28.47 427.50 L28.80 427.50 L29.13 427.50 L29.47 427.50 L29.80 427.50 L30.13 427.50 L30.47 427.50 L30.80 427.50 L31.13 427.50 L31.47 427.50 L31.80 427.50 L32.13 427.50 L32.47 427.50 L32.80 427.50 L33.13 427.50 L33.47 427.50 L33.80 427.50 L34.13 427.50 L34.47 427.50 L34.80 427.50 L35.13 427.50 L35.47 427.50 L35.80 427.50 L36.13 427.50 L36.47 427.50 L36.80 427.50 L37.13 427.50 L37.47 427.50 L37.80 427.50 L38.13 427.50 L38.47 427.50 L38.80 427.50 L39.13 427.50 L39.47 427.50 L39.80 427.50 L40.13 427.50 L40.47 427.50 L40.80 427.50 L41.13 427.50 L41.47 427.50 L41.80 427.50 L42.13 427.50 L42.47 427.50 L42.80 427.50 L43.13 427.50 L43.47 427.50 L43.80 427.50 L44.13 427.50 L44.47 427.50 L44.80 427.50 L45.13 427.50 L45.47 427.50 L45.80 427.50 L46.13 427.50 L46.47 427.50 L46.80 427.50 L47.13 427.50 L47.47 427.50 L47.80 427.50 L48.13 427.50 L48.47 427.50 L48.80 427.50 L49.13 427.50 L49.47 427.50 L49.80 427.50 L50.13 427.50 L50.47 427.50 L50.80 427.50 L51.13 427.50 L51.47 427.50 L51.80 427.50 L52.13 427.50 L52.47 427.50 L52.80 427.50 L53.13 427.50 L53.47 427.50 L53.80 427.50 L54.13 427.50 L54.47 427.50 L54.80 427.50 L55.13 427.50 L55.47 427.50 L55.80 427.50 L56.13 427.50 L56.47 427.50 L56.80 427.50 L57.13 427.50 L57.47 427.50 L57.80 427.50 L58.13 427.50 L58.47 427.50 L58.80 427.50 L59.13 427.50 L59.47 427.50 L59.80 427.50 L60.13 427.50 L60.47 427.50 L60.80 427.50 L61.13 427.50 L61.47 427.50 L61.80 427.50 L62.13 427.50 L62.47 427.49 L62.80 427.49 L63.00 427.49 L63.13 427.48 L63.13 427.48 L63.27 427.48 L63.40 427.47 L63.47 427.47 L63.54 427.47 L63.67 427.46 L63.80 427.45 L63.81 427.45 L63.94 427.45 L64.08 427.43 L64.13 427.43 L64.21 427.42 L64.34 427.41 L64.47 427.39 L64.48 427.39 L64.61 427.37 L64.75 427.34 L64.80 427.33 L64.88 427.31 L65.02 427.28 L65.13 427.24 L65.15 427.24 L65.29 427.19 L65.42 427.13 L65.47 427.11 L65.55 427.07 L65.69 426.99 L65.80 426.92 L65.82 426.90 L65.96 426.80 L66.09 426.68 L66.13 426.64 L66.23 426.54 L66.36 426.39 L66.47 426.25 L66.50 426.20 L66.63 425.99 L66.76 425.75 L66.80 425.68 L66.90 425.48 L67.03 425.16 L67.13 424.90 L67.17 424.81 L67.30 424.40 L67.44 423.94 L67.47 423.83 L67.57 423.42 L67.71 422.83 L67.80 422.38 L67.84 422.17 L67.97 421.43 L68.11 420.61 L68.13 420.45 L68.24 419.69 L68.38 418.67 L68.47 417.94 L68.51 417.54 L68.65 416.30 L68.78 414.93 L68.80 414.73 L68.92 413.44 L69.05 411.81 L69.13 410.74 L69.18 410.05 L69.32 408.15 L69.45 406.11 L69.47 405.91 L69.59 403.94 L69.72 401.64 L69.80 400.27 L69.86 399.23 L69.99 396.72 L70.13 394.13 L70.13 393.99 L70.26 391.51 L70.39 388.88 L70.47 387.49 L70.53 386.30 L70.66 383.87 L70.80 381.69 L70.80 381.66 L70.93 379.98 L71.07 380.02 L71.13 380.84 L71.20 381.87 L71.34 384.21 L71.47 386.75 L71.47 386.83 L71.61 389.57 L71.74 392.36 L71.80 393.61 L71.87 395.13 L72.01 397.84 L72.13 400.27 L72.14 400.45 L72.28 402.94 L72.41 405.30 L72.47 406.22 L72.55 407.50 L72.68 409.56 L72.80 411.25 L72.82 411.46 L72.95 413.21 L73.08 414.80 L73.13 415.35 L73.22 416.26 L73.35 417.58 L73.47 418.59 L73.49 418.76 L73.62 419.83 L73.76 420.79 L73.80 421.07 L73.89 421.64 L74.03 422.39 L74.13 422.94 L74.16 423.06 L74.29 423.66 L74.43 424.18 L74.47 424.31 L74.56 424.63 L74.70 425.03 L74.80 425.30 L74.83 425.38 L74.97 425.68 L75.10 425.95 L75.13 426.00 L75.24 426.17 L75.37 426.37 L75.47 426.50 L75.50 426.54 L75.64 426.69 L75.77 426.81 L75.80 426.83 L75.91 426.92 L76.04 427.01 L76.13 427.06 L76.18 427.09 L76.31 427.15 L76.45 427.21 L76.47 427.22 L76.58 427.26 L76.71 427.30 L76.80 427.32 L76.85 427.33 L76.98 427.36 L77.12 427.38 L77.13 427.38 L77.25 427.40 L77.39 427.42 L77.47 427.43 L77.52 427.43 L77.66 427.44 L77.79 427.45 L77.80 427.45 L77.92 427.46 L78.06 427.47 L78.13 427.47 L78.19 427.47 L78.33 427.48 L78.46 427.48 L78.47 427.48 L78.60 427.49 L78.73 427.49 L78.80 427.49 L78.87 427.49 L79.00 427.49 L79.13 427.49 L79.47 427.50 L79.80 427.50" fill="none" stroke="#41609c" stroke-width="1.1"/>
<path d="M23.30 427.50H26.30" stroke="#444" stroke-width="0.7"/>
<text x="19.40" y="429.10" font-size="4.4" text-anchor="middle" fill="#333" stroke="#333" stroke-width="0.18" >0</text>
<path d="M28.60 427.50V429.80M35.70 427.50V429.80M42.80 427.50V429.80M49.90 427.50V429.80M57.00 427.50V429.80M64.10 427.50V429.80M71.20 427.50V429.80M78.30 427.50V429.80" stroke="#333" stroke-width="0.8"/>
<path d="M32.10 427.50V428.90M39.20 427.50V428.90M46.30 427.50V428.90M53.40 427.50V428.90M60.50 427.50V428.90M67.60 427.50V428.90M74.70 427.50V428.90" stroke="#777" stroke-width="0.6"/>
<text x="31.70" y="438.10" font-size="4.4" text-anchor="middle" fill="#444">10<tspan font-size="3" dy="-2.3">1</tspan></text>
<text x="39.35" y="438.10" font-size="4.4" text-anchor="middle" fill="#444">10<tspan font-size="3" dy="-2.3">2</tspan></text>
<text x="47.00" y="438.10" font-size="4.4" text-anchor="middle" fill="#444">10<tspan font-size="3" dy="-2.3">3</tspan></text>
<text x="54.65" y="438.10" font-size="4.4" text-anchor="middle" fill="#444">10<tspan font-size="3" dy="-2.3">4</tspan></text>
<text x="62.30" y="438.10" font-size="4.4" text-anchor="middle" fill="#444">10<tspan font-size="3" dy="-2.3">5</tspan></text>
<text x="69.95" y="438.10" font-size="4.4" text-anchor="middle" fill="#444">10<tspan font-size="3" dy="-2.3">6</tspan></text>
<text x="77.60" y="438.10" font-size="4.4" text-anchor="middle" fill="#444">10<tspan font-size="3" dy="-2.3">7</tspan></text>
<text x="125.30" y="369.40" font-size="10.4" text-anchor="middle" fill="#231f20" textLength="29.4" lengthAdjust="spacingAndGlyphs" stroke="#231f20" stroke-width="0.12" >SNT16</text>
<rect x="98.30" y="373.60" width="54.00" height="53.90" fill="none" stroke="#1a1a1a" stroke-width="1.1"/>
<path d="M98.80 427.50 L99.13 427.50 L99.47 427.50 L99.80 427.50 L100.13 427.50 L100.47 427.50 L100.80 427.50 L101.13 427.50 L101.47 427.50 L101.80 427.50 L102.13 427.50 L102.47 427.50 L102.80 427.50 L103.13 427.50 L103.47 427.50 L103.80 427.50 L104.13 427.50 L104.47 427.50 L104.80 427.50 L105.13 427.50 L105.47 427.50 L105.80 427.50 L106.13 427.50 L106.47 427.50 L106.80 427.50 L107.13 427.50 L107.47 427.50 L107.80 427.50 L108.13 427.50 L108.47 427.49 L108.80 427.49 L109.13 427.49 L109.47 427.48 L109.80 427.47 L110.13 427.46 L110.47 427.44 L110.80 427.42 L111.13 427.38 L111.40 427.35 L111.47 427.34 L111.53 427.32 L111.67 427.30 L111.80 427.27 L111.80 427.27 L111.94 427.24 L112.07 427.20 L112.13 427.18 L112.21 427.15 L112.34 427.11 L112.47 427.05 L112.48 427.05 L112.61 426.99 L112.74 426.92 L112.80 426.88 L112.88 426.84 L113.01 426.75 L113.13 426.66 L113.15 426.65 L113.28 426.53 L113.42 426.41 L113.47 426.36 L113.55 426.26 L113.69 426.11 L113.80 425.96 L113.82 425.93 L113.95 425.73 L114.09 425.51 L114.13 425.44 L114.22 425.27 L114.36 425.00 L114.47 424.76 L114.49 424.70 L114.63 424.37 L114.76 424.01 L114.80 423.90 L114.90 423.61 L115.03 423.17 L115.13 422.80 L115.16 422.69 L115.30 422.16 L115.43 421.58 L115.47 421.43 L115.57 420.95 L115.70 420.27 L115.80 419.73 L115.84 419.52 L115.97 418.72 L116.11 417.85 L116.13 417.66 L116.24 416.91 L116.37 415.90 L116.47 415.17 L116.51 414.81 L116.64 413.66 L116.78 412.42 L116.80 412.21 L116.91 411.11 L117.05 409.71 L117.13 408.78 L117.18 408.24 L117.32 406.69 L117.45 405.07 L117.47 404.87 L117.58 403.38 L117.72 401.62 L117.80 400.53 L117.85 399.80 L117.99 397.93 L118.12 396.02 L118.13 395.86 L118.26 394.08 L118.39 392.13 L118.47 391.05 L118.53 390.20 L118.66 388.30 L118.79 386.46 L118.80 386.39 L118.93 384.73 L119.06 383.14 L119.13 382.40 L119.20 381.78 L119.33 380.76 L119.47 380.76 L119.47 380.76 L119.60 381.78 L119.74 383.14 L119.80 383.87 L119.87 384.73 L120.01 386.46 L120.13 388.21 L120.14 388.30 L120.27 390.20 L120.41 392.13 L120.47 392.98 L120.54 394.08 L120.68 396.02 L120.80 397.76 L120.81 397.93 L120.95 399.80 L121.08 401.62 L121.13 402.31 L121.22 403.38 L121.35 405.07 L121.47 406.49 L121.48 406.69 L121.62 408.24 L121.75 409.71 L121.80 410.21 L121.89 411.11 L122.02 412.42 L122.13 413.45 L122.16 413.66 L122.29 414.81 L122.43 415.90 L122.47 416.22 L122.56 416.91 L122.69 417.85 L122.80 418.54 L122.83 418.72 L122.96 419.52 L123.10 420.27 L123.13 420.45 L123.23 420.95 L123.37 421.58 L123.47 422.02 L123.50 422.16 L123.64 422.69 L123.77 423.17 L123.80 423.27 L123.90 423.61 L124.04 424.01 L124.13 424.27 L124.17 424.37 L124.31 424.70 L124.44 425.00 L124.47 425.05 L124.58 425.27 L124.71 425.51 L124.80 425.66 L124.85 425.73 L124.98 425.93 L125.11 426.11 L125.13 426.13 L125.25 426.26 L125.38 426.41 L125.47 426.49 L125.52 426.53 L125.65 426.65 L125.79 426.75 L125.80 426.76 L125.92 426.84 L126.06 426.92 L126.13 426.96 L126.19 426.99 L126.32 427.05 L126.46 427.11 L126.47 427.11 L126.59 427.15 L126.73 427.20 L126.80 427.22 L126.86 427.24 L127.00 427.27 L127.13 427.30 L127.13 427.30 L127.27 427.32 L127.40 427.35 L127.47 427.36 L127.80 427.40 L128.13 427.43 L128.47 427.45 L128.80 427.47 L129.13 427.48 L129.47 427.48 L129.80 427.49 L130.13 427.49 L130.47 427.50 L130.80 427.50 L131.13 427.50 L131.47 427.50 L131.80 427.50 L132.13 427.50 L132.47 427.50 L132.80 427.50 L133.13 427.50 L133.47 427.50 L133.80 427.50 L134.13 427.50 L134.47 427.50 L134.80 427.50 L135.13 427.50 L135.47 427.50 L135.80 427.50 L136.13 427.50 L136.47 427.50 L136.80 427.50 L137.13 427.50 L137.47 427.50 L137.80 427.50 L138.13 427.50 L138.47 427.50 L138.80 427.50 L139.13 427.50 L139.47 427.50 L139.80 427.50 L140.13 427.50 L140.47 427.50 L140.80 427.50 L141.13 427.50 L141.47 427.50 L141.80 427.50 L142.13 427.50 L142.47 427.50 L142.80 427.50 L143.13 427.50 L143.47 427.50 L143.80 427.50 L144.13 427.50 L144.47 427.50 L144.80 427.50 L145.13 427.50 L145.47 427.50 L145.80 427.50 L146.13 427.50 L146.47 427.50 L146.80 427.50 L147.13 427.50 L147.47 427.50 L147.80 427.50 L148.13 427.50 L148.47 427.50 L148.80 427.50 L149.13 427.50 L149.47 427.50 L149.80 427.50 L150.13 427.50 L150.47 427.50 L150.80 427.50 L151.13 427.50 L151.47 427.50 L151.80 427.50 L151.80 427.50 L98.80 427.50Z" fill="#3f495b" stroke="#4c566a" stroke-width="0.6"/>
<path d="M98.80 427.50 L99.13 427.50 L99.47 427.50 L99.80 427.50 L100.13 427.50 L100.47 427.50 L100.80 427.50 L101.13 427.50 L101.47 427.50 L101.80 427.50 L102.13 427.50 L102.47 427.50 L102.80 427.50 L103.13 427.50 L103.47 427.50 L103.80 427.50 L104.13 427.50 L104.47 427.50 L104.80 427.50 L105.13 427.50 L105.47 427.50 L105.80 427.50 L106.13 427.50 L106.47 427.50 L106.80 427.50 L107.13 427.50 L107.47 427.50 L107.80 427.50 L108.13 427.50 L108.47 427.50 L108.80 427.50 L109.13 427.50 L109.47 427.50 L109.80 427.50 L110.13 427.50 L110.47 427.50 L110.80 427.50 L111.13 427.50 L111.47 427.50 L111.80 427.50 L112.13 427.50 L112.47 427.50 L112.80 427.50 L113.13 427.50 L113.47 427.50 L113.80 427.50 L114.13 427.50 L114.47 427.50 L114.80 427.50 L115.13 427.50 L115.47 427.50 L115.80 427.50 L116.13 427.50 L116.47 427.50 L116.80 427.50 L117.13 427.50 L117.47 427.50 L117.80 427.50 L118.13 427.50 L118.47 427.50 L118.80 427.50 L119.13 427.50 L119.47 427.50 L119.80 427.50 L120.13 427.50 L120.47 427.50 L120.80 427.50 L121.13 427.50 L121.47 427.50 L121.80 427.50 L122.13 427.50 L122.47 427.50 L122.80 427.50 L123.13 427.50 L123.47 427.50 L123.80 427.50 L124.13 427.50 L124.47 427.50 L124.80 427.50 L125.13 427.50 L125.47 427.50 L125.80 427.50 L126.13 427.50 L126.47 427.50 L126.80 427.50 L127.13 427.50 L127.47 427.50 L127.80 427.50 L128.13 427.50 L128.47 427.50 L128.80 427.50 L129.13 427.50 L129.47 427.50 L129.80 427.50 L130.13 427.50 L130.47 427.50 L130.80 427.50 L131.13 427.50 L131.47 427.50 L131.80 427.50 L132.13 427.50 L132.47 427.50 L132.80 427.50 L133.13 427.50 L133.30 427.50 L133.43 427.50 L133.47 427.50 L133.57 427.50 L133.70 427.50 L133.80 427.50 L133.84 427.50 L133.97 427.50 L134.11 427.50 L134.13 427.50 L134.24 427.50 L134.38 427.50 L134.47 427.50 L134.51 427.50 L134.64 427.49 L134.78 427.49 L134.80 427.49 L134.91 427.49 L135.05 427.48 L135.13 427.48 L135.18 427.48 L135.32 427.47 L135.45 427.47 L135.47 427.46 L135.59 427.46 L135.72 427.44 L135.80 427.43 L135.85 427.43 L135.99 427.40 L136.12 427.38 L136.13 427.38 L136.26 427.34 L136.39 427.30 L136.47 427.27 L136.53 427.25 L136.66 427.18 L136.80 427.10 L136.80 427.10 L136.93 427.00 L137.06 426.87 L137.13 426.80 L137.20 426.72 L137.33 426.54 L137.47 426.32 L137.47 426.32 L137.60 426.05 L137.74 425.73 L137.80 425.56 L137.87 425.35 L138.01 424.89 L138.13 424.39 L138.14 424.36 L138.27 423.74 L138.41 423.01 L138.47 422.67 L138.54 422.17 L138.68 421.21 L138.80 420.21 L138.81 420.10 L138.95 418.85 L139.08 417.44 L139.13 416.85 L139.22 415.86 L139.35 414.11 L139.47 412.46 L139.48 412.18 L139.62 410.08 L139.75 407.81 L139.80 406.99 L139.89 405.38 L140.02 402.81 L140.13 400.61 L140.16 400.12 L140.29 397.36 L140.43 394.56 L140.47 393.72 L140.56 391.79 L140.69 389.10 L140.80 387.12 L140.83 386.59 L140.96 384.35 L141.10 382.51 L141.13 382.12 L141.23 381.26 L141.37 381.26 L141.47 382.12 L141.50 382.51 L141.64 384.35 L141.77 386.59 L141.80 387.12 L141.91 389.10 L142.04 391.79 L142.13 393.72 L142.17 394.56 L142.31 397.36 L142.44 400.12 L142.47 400.61 L142.58 402.81 L142.71 405.38 L142.80 406.99 L142.85 407.81 L142.98 410.08 L143.12 412.18 L143.13 412.46 L143.25 414.11 L143.38 415.86 L143.47 416.85 L143.52 417.44 L143.65 418.85 L143.79 420.10 L143.80 420.21 L143.92 421.21 L144.06 422.17 L144.13 422.67 L144.19 423.01 L144.33 423.74 L144.46 424.36 L144.47 424.39 L144.59 424.89 L144.73 425.35 L144.80 425.56 L144.86 425.73 L145.00 426.05 L145.13 426.32 L145.13 426.32 L145.27 426.54 L145.40 426.72 L145.47 426.80 L145.54 426.87 L145.67 427.00 L145.80 427.10 L145.80 427.10 L145.94 427.18 L146.07 427.25 L146.13 427.27 L146.21 427.30 L146.34 427.34 L146.47 427.38 L146.48 427.38 L146.61 427.40 L146.75 427.43 L146.80 427.43 L146.88 427.44 L147.01 427.46 L147.13 427.46 L147.15 427.47 L147.28 427.47 L147.42 427.48 L147.47 427.48 L147.55 427.48 L147.69 427.49 L147.80 427.49 L147.82 427.49 L147.96 427.49 L148.09 427.50 L148.13 427.50 L148.22 427.50 L148.36 427.50 L148.47 427.50 L148.49 427.50 L148.63 427.50 L148.76 427.50 L148.80 427.50 L148.90 427.50 L149.03 427.50 L149.13 427.50 L149.17 427.50 L149.30 427.50 L149.47 427.50 L149.80 427.50 L150.13 427.50 L150.47 427.50 L150.80 427.50 L151.13 427.50 L151.47 427.50 L151.80 427.50 L151.80 427.50 L98.80 427.50Z" fill="#d2d2d4" stroke="#b9b9bb" stroke-width="0.5"/>
<path d="M98.80 427.50 L99.13 427.50 L99.47 427.50 L99.80 427.50 L100.13 427.50 L100.47 427.50 L100.80 427.50 L101.13 427.50 L101.47 427.50 L101.80 427.50 L102.13 427.50 L102.47 427.50 L102.80 427.50 L103.13 427.50 L103.47 427.50 L103.80 427.50 L104.13 427.50 L104.47 427.50 L104.80 427.50 L105.13 427.50 L105.47 427.50 L105.80 427.50 L106.13 427.50 L106.47 427.50 L106.80 427.50 L107.13 427.50 L107.47 427.50 L107.80 427.50 L108.13 427.50 L108.47 427.50 L108.80 427.50 L109.13 427.50 L109.47 427.50 L109.80 427.50 L110.13 427.50 L110.47 427.50 L110.80 427.50 L111.13 427.50 L111.47 427.50 L111.80 427.50 L112.13 427.50 L112.47 427.50 L112.80 427.50 L113.13 427.50 L113.47 427.50 L113.80 427.50 L114.13 427.50 L114.47 427.50 L114.80 427.50 L115.13 427.50 L115.47 427.50 L115.80 427.50 L116.13 427.50 L116.47 427.50 L116.80 427.50 L117.13 427.50 L117.47 427.50 L117.80 427.50 L118.13 427.50 L118.47 427.50 L118.80 427.50 L119.13 427.50 L119.47 427.50 L119.80 427.50 L120.13 427.50 L120.47 427.50 L120.80 427.50 L121.13 427.50 L121.47 427.50 L121.80 427.50 L122.13 427.50 L122.47 427.50 L122.80 427.50 L123.13 427.50 L123.47 427.50 L123.80 427.50 L124.13 427.50 L124.47 427.50 L124.80 427.50 L125.13 427.50 L125.47 427.50 L125.80 427.50 L126.13 427.50 L126.47 427.50 L126.80 427.50 L127.13 427.50 L127.47 427.50 L127.80 427.49 L128.13 427.49 L128.47 427.48 L128.80 427.47 L129.13 427.46 L129.47 427.43 L129.80 427.40 L130.13 427.34 L130.47 427.26 L130.80 427.15 L131.13 427.00 L131.47 426.80 L131.80 426.54 L132.13 426.20 L132.47 425.80 L132.80 425.31 L133.00 424.97 L133.13 424.74 L133.13 424.73 L133.27 424.48 L133.40 424.22 L133.47 424.09 L133.54 423.94 L133.67 423.66 L133.80 423.38 L133.81 423.37 L133.94 423.07 L134.08 422.76 L134.13 422.63 L134.21 422.45 L134.34 422.14 L134.47 421.85 L134.48 421.83 L134.61 421.51 L134.75 421.20 L134.80 421.08 L134.88 420.90 L135.02 420.60 L135.13 420.34 L135.15 420.30 L135.29 420.02 L135.42 419.75 L135.47 419.65 L135.55 419.48 L135.69 419.23 L135.80 419.03 L135.82 418.99 L135.96 418.76 L136.09 418.53 L136.13 418.47 L136.23 418.32 L136.36 418.11 L136.47 417.94 L136.50 417.90 L136.63 417.69 L136.76 417.47 L136.80 417.41 L136.90 417.24 L137.03 417.00 L137.13 416.80 L137.17 416.73 L137.30 416.43 L137.44 416.10 L137.47 416.02 L137.57 415.71 L137.71 415.28 L137.80 414.93 L137.84 414.77 L137.97 414.19 L138.11 413.53 L138.13 413.40 L138.24 412.77 L138.38 411.91 L138.47 411.28 L138.51 410.94 L138.65 409.84 L138.78 408.61 L138.80 408.44 L138.92 407.25 L139.05 405.76 L139.13 404.76 L139.18 404.12 L139.32 402.34 L139.45 400.43 L139.47 400.24 L139.59 398.39 L139.72 396.24 L139.80 394.96 L139.86 394.00 L139.99 391.68 L140.13 389.32 L140.13 389.20 L140.26 386.97 L140.39 384.67 L140.47 383.48 L140.53 382.48 L140.66 380.48 L140.80 378.79 L140.80 378.78 L140.93 377.60 L141.07 377.80 L141.13 378.54 L141.20 379.50 L141.34 381.78 L141.47 384.32 L141.47 384.40 L141.61 387.22 L141.74 390.15 L141.80 391.48 L141.87 393.11 L142.01 396.04 L142.13 398.69 L142.14 398.89 L142.28 401.63 L142.41 404.24 L142.47 405.26 L142.55 406.68 L142.68 408.96 L142.80 410.84 L142.82 411.07 L142.95 413.01 L143.08 414.77 L143.13 415.37 L143.22 416.36 L143.35 417.80 L143.47 418.89 L143.49 419.08 L143.62 420.22 L143.76 421.23 L143.80 421.54 L143.89 422.12 L144.03 422.90 L144.13 423.46 L144.16 423.58 L144.29 424.18 L144.43 424.69 L144.47 424.82 L144.56 425.13 L144.70 425.51 L144.80 425.76 L144.83 425.83 L144.97 426.10 L145.10 426.34 L145.13 426.39 L145.24 426.53 L145.37 426.70 L145.47 426.80 L145.50 426.84 L145.64 426.96 L145.77 427.05 L145.80 427.07 L145.91 427.14 L146.04 427.20 L146.13 427.24 L146.18 427.26 L146.31 427.30 L146.45 427.34 L146.47 427.35 L146.58 427.37 L146.71 427.40 L146.80 427.41 L146.85 427.42 L146.98 427.43 L147.12 427.45 L147.13 427.45 L147.25 427.46 L147.39 427.47 L147.47 427.47 L147.52 427.47 L147.66 427.48 L147.79 427.48 L147.80 427.48 L147.92 427.49 L148.06 427.49 L148.13 427.49 L148.19 427.49 L148.33 427.49 L148.46 427.50 L148.47 427.50 L148.60 427.50 L148.73 427.50 L148.80 427.50 L148.87 427.50 L149.00 427.50 L149.13 427.50 L149.47 427.50 L149.80 427.50 L150.13 427.50 L150.47 427.50 L150.80 427.50 L151.13 427.50 L151.47 427.50 L151.80 427.50" fill="none" stroke="#c62a50" stroke-width="1.1"/>
<path d="M98.80 427.50 L99.13 427.50 L99.47 427.50 L99.80 427.50 L100.13 427.50 L100.47 427.50 L100.80 427.50 L101.13 427.50 L101.47 427.50 L101.80 427.50 L102.13 427.50 L102.47 427.50 L102.80 427.50 L103.13 427.50 L103.47 427.50 L103.80 427.50 L104.13 427.50 L104.47 427.50 L104.80 427.50 L105.13 427.50 L105.47 427.50 L105.80 427.50 L106.13 427.50 L106.47 427.50 L106.80 427.50 L107.13 427.50 L107.47 427.50 L107.80 427.50 L108.13 427.50 L108.47 427.50 L108.80 427.50 L109.13 427.50 L109.47 427.50 L109.80 427.50 L110.13 427.50 L110.47 427.50 L110.80 427.50 L111.13 427.50 L111.47 427.50 L111.80 427.50 L112.13 427.50 L112.47 427.50 L112.80 427.50 L113.13 427.50 L113.47 427.50 L113.80 427.50 L114.13 427.50 L114.47 427.50 L114.80 427.50 L115.13 427.50 L115.47 427.50 L115.80 427.50 L116.13 427.50 L116.47 427.50 L116.80 427.50 L117.13 427.50 L117.47 427.50 L117.80 427.50 L118.13 427.50 L118.47 427.50 L118.80 427.50 L119.13 427.50 L119.47 427.50 L119.80 427.50 L120.13 427.50 L120.47 427.50 L120.80 427.50 L121.13 427.50 L121.47 427.50 L121.80 427.50 L122.13 427.50 L122.47 427.50 L122.80 427.50 L123.13 427.50 L123.47 427.50 L123.80 427.50 L124.13 427.50 L124.47 427.50 L124.80 427.50 L125.13 427.50 L125.47 427.50 L125.80 427.50 L126.13 427.50 L126.47 427.50 L126.80 427.50 L127.13 427.50 L127.47 427.50 L127.80 427.50 L128.13 427.50 L128.47 427.50 L128.80 427.50 L129.13 427.50 L129.47 427.50 L129.80 427.50 L130.13 427.50 L130.47 427.50 L130.80 427.50 L131.13 427.50 L131.47 427.50 L131.80 427.50 L132.13 427.50 L132.47 427.50 L132.80 427.50 L133.13 427.50 L133.30 427.50 L133.43 427.50 L133.47 427.50 L133.57 427.50 L133.70 427.50 L133.80 427.50 L133.84 427.49 L133.97 427.49 L134.11 427.49 L134.13 427.49 L134.24 427.49 L134.38 427.49 L134.47 427.48 L134.51 427.48 L134.64 427.48 L134.78 427.47 L134.80 427.47 L134.91 427.47 L135.05 427.46 L135.13 427.45 L135.18 427.45 L135.32 427.43 L135.45 427.42 L135.47 427.41 L135.59 427.40 L135.72 427.37 L135.80 427.35 L135.85 427.34 L135.99 427.30 L136.12 427.26 L136.13 427.25 L136.26 427.20 L136.39 427.13 L136.47 427.09 L136.53 427.05 L136.66 426.95 L136.80 426.84 L136.80 426.83 L136.93 426.70 L137.06 426.53 L137.13 426.43 L137.20 426.33 L137.33 426.10 L137.47 425.82 L137.47 425.82 L137.60 425.50 L137.74 425.12 L137.80 424.92 L137.87 424.68 L138.01 424.16 L138.13 423.61 L138.14 423.57 L138.27 422.89 L138.41 422.11 L138.47 421.74 L138.54 421.22 L138.68 420.21 L138.80 419.18 L138.81 419.07 L138.95 417.79 L139.08 416.35 L139.13 415.76 L139.22 414.76 L139.35 413.00 L139.47 411.35 L139.48 411.08 L139.62 408.98 L139.75 406.71 L139.80 405.89 L139.89 404.28 L140.02 401.69 L140.13 399.47 L140.16 398.98 L140.29 396.15 L140.43 393.26 L140.47 392.38 L140.56 390.35 L140.69 387.47 L140.80 385.30 L140.83 384.71 L140.96 382.17 L141.10 379.98 L141.13 379.50 L141.23 378.39 L141.37 378.39 L141.47 379.50 L141.50 379.98 L141.64 382.17 L141.77 384.71 L141.80 385.30 L141.91 387.47 L142.04 390.35 L142.13 392.38 L142.17 393.26 L142.31 396.15 L142.44 398.98 L142.47 399.47 L142.58 401.69 L142.71 404.28 L142.80 405.89 L142.85 406.71 L142.98 408.98 L143.12 411.08 L143.13 411.35 L143.25 413.00 L143.38 414.76 L143.47 415.76 L143.52 416.35 L143.65 417.79 L143.79 419.07 L143.80 419.18 L143.92 420.21 L144.06 421.22 L144.13 421.74 L144.19 422.11 L144.33 422.89 L144.46 423.57 L144.47 423.61 L144.59 424.16 L144.73 424.68 L144.80 424.92 L144.86 425.12 L145.00 425.50 L145.13 425.82 L145.13 425.82 L145.27 426.10 L145.40 426.33 L145.47 426.43 L145.54 426.53 L145.67 426.70 L145.80 426.83 L145.80 426.84 L145.94 426.95 L146.07 427.05 L146.13 427.09 L146.21 427.13 L146.34 427.20 L146.47 427.25 L146.48 427.26 L146.61 427.30 L146.75 427.34 L146.80 427.35 L146.88 427.37 L147.01 427.40 L147.13 427.41 L147.15 427.42 L147.28 427.43 L147.42 427.45 L147.47 427.45 L147.55 427.46 L147.69 427.47 L147.80 427.47 L147.82 427.47 L147.96 427.48 L148.09 427.48 L148.13 427.48 L148.22 427.49 L148.36 427.49 L148.47 427.49 L148.49 427.49 L148.63 427.49 L148.76 427.49 L148.80 427.50 L148.90 427.50 L149.03 427.50 L149.13 427.50 L149.17 427.50 L149.30 427.50 L149.47 427.50 L149.80 427.50 L150.13 427.50 L150.47 427.50 L150.80 427.50 L151.13 427.50 L151.47 427.50 L151.80 427.50" fill="none" stroke="#41609c" stroke-width="1.1"/>
<path d="M95.30 427.50H98.30" stroke="#444" stroke-width="0.7"/>
<text x="91.40" y="429.10" font-size="4.4" text-anchor="middle" fill="#333" stroke="#333" stroke-width="0.18" >0</text>
<path d="M100.60 427.50V429.80M107.70 427.50V429.80M114.80 427.50V429.80M121.90 427.50V429.80M129.00 427.50V429.80M136.10 427.50V429.80M143.20 427.50V429.80M150.30 427.50V429.80" stroke="#333" stroke-width="0.8"/>
<path d="M104.10 427.50V428.90M111.20 427.50V428.90M118.30 427.50V428.90M125.40 427.50V428.90M132.50 427.50V428.90M139.60 427.50V428.90M146.70 427.50V428.90" stroke="#777" stroke-width="0.6"/>
<text x="103.70" y="438.10" font-size="4.4" text-anchor="middle" fill="#444">10<tspan font-size="3" dy="-2.3">1</tspan></text>
<text x="111.35" y="438.10" font-size="4.4" text-anchor="middle" fill="#444">10<tspan font-size="3" dy="-2.3">2</tspan></text>
<text x="119.00" y="438.10" font-size="4.4" text-anchor="middle" fill="#444">10<tspan font-size="3" dy="-2.3">3</tspan></text>
<text x="126.65" y="438.10" font-size="4.4" text-anchor="middle" fill="#444">10<tspan font-size="3" dy="-2.3">4</tspan></text>
<text x="134.30" y="438.10" font-size="4.4" text-anchor="middle" fill="#444">10<tspan font-size="3" dy="-2.3">5</tspan></text>
<text x="141.95" y="438.10" font-size="4.4" text-anchor="middle" fill="#444">10<tspan font-size="3" dy="-2.3">6</tspan></text>
<text x="149.60" y="438.10" font-size="4.4" text-anchor="middle" fill="#444">10<tspan font-size="3" dy="-2.3">7</tspan></text>
<text x="197.50" y="368.70" font-size="10.4" text-anchor="middle" fill="#231f20" textLength="33.1" lengthAdjust="spacingAndGlyphs" stroke="#231f20" stroke-width="0.12" >MEC04</text>
<rect x="170.50" y="373.40" width="54.00" height="54.10" fill="none" stroke="#1a1a1a" stroke-width="1.1"/>
<path d="M171.00 427.50 L171.33 427.50 L171.67 427.50 L172.00 427.50 L172.33 427.50 L172.67 427.50 L173.00 427.50 L173.33 427.50 L173.67 427.50 L174.00 427.50 L174.33 427.50 L174.67 427.50 L175.00 427.50 L175.33 427.50 L175.67 427.50 L176.00 427.50 L176.33 427.50 L176.67 427.50 L177.00 427.50 L177.33 427.50 L177.67 427.50 L178.00 427.50 L178.33 427.50 L178.67 427.50 L179.00 427.50 L179.33 427.50 L179.67 427.50 L180.00 427.50 L180.33 427.50 L180.67 427.50 L181.00 427.50 L181.33 427.50 L181.67 427.50 L182.00 427.50 L182.33 427.50 L182.67 427.50 L183.00 427.49 L183.33 427.49 L183.67 427.49 L184.00 427.48 L184.33 427.47 L184.40 427.47 L184.53 427.46 L184.67 427.45 L184.67 427.45 L184.80 427.44 L184.94 427.43 L185.00 427.42 L185.07 427.42 L185.21 427.40 L185.33 427.39 L185.34 427.38 L185.48 427.36 L185.61 427.34 L185.67 427.33 L185.74 427.31 L185.88 427.28 L186.00 427.24 L186.01 427.24 L186.15 427.19 L186.28 427.14 L186.33 427.12 L186.42 427.08 L186.55 427.01 L186.67 426.94 L186.69 426.93 L186.82 426.84 L186.95 426.73 L187.00 426.69 L187.09 426.61 L187.22 426.47 L187.33 426.34 L187.36 426.31 L187.49 426.12 L187.63 425.92 L187.67 425.85 L187.76 425.68 L187.90 425.41 L188.00 425.18 L188.03 425.11 L188.16 424.77 L188.30 424.38 L188.33 424.28 L188.43 423.95 L188.57 423.46 L188.67 423.07 L188.70 422.92 L188.84 422.32 L188.97 421.65 L189.00 421.50 L189.11 420.90 L189.24 420.08 L189.33 419.46 L189.37 419.18 L189.51 418.18 L189.64 417.09 L189.67 416.89 L189.78 415.90 L189.91 414.61 L190.00 413.71 L190.05 413.21 L190.18 411.69 L190.32 410.07 L190.33 409.85 L190.45 408.33 L190.58 406.48 L190.67 405.30 L190.72 404.52 L190.85 402.45 L190.99 400.30 L191.00 400.10 L191.12 398.05 L191.26 395.74 L191.33 394.41 L191.39 393.38 L191.53 391.00 L191.66 388.63 L191.67 388.52 L191.79 386.31 L191.93 384.10 L192.00 383.00 L192.06 382.05 L192.20 380.28 L192.33 378.95 L192.33 378.94 L192.47 378.95 L192.60 380.28 L192.67 381.09 L192.74 382.05 L192.87 384.10 L193.00 386.23 L193.01 386.31 L193.14 388.63 L193.27 391.00 L193.33 392.06 L193.41 393.38 L193.54 395.74 L193.67 397.87 L193.68 398.05 L193.81 400.30 L193.95 402.45 L194.00 403.29 L194.08 404.52 L194.22 406.48 L194.33 408.11 L194.35 408.33 L194.48 410.07 L194.62 411.69 L194.67 412.25 L194.75 413.21 L194.89 414.61 L195.00 415.70 L195.02 415.90 L195.16 417.09 L195.29 418.18 L195.33 418.51 L195.43 419.18 L195.56 420.08 L195.67 420.74 L195.69 420.90 L195.83 421.65 L195.96 422.32 L196.00 422.49 L196.10 422.92 L196.23 423.46 L196.33 423.83 L196.37 423.95 L196.50 424.38 L196.64 424.77 L196.67 424.85 L196.77 425.11 L196.90 425.41 L197.00 425.61 L197.04 425.68 L197.17 425.92 L197.31 426.12 L197.33 426.16 L197.44 426.31 L197.58 426.47 L197.67 426.56 L197.71 426.61 L197.85 426.73 L197.98 426.84 L198.00 426.85 L198.11 426.93 L198.25 427.01 L198.33 427.06 L198.38 427.08 L198.52 427.14 L198.65 427.19 L198.67 427.20 L198.79 427.24 L198.92 427.28 L199.00 427.30 L199.06 427.31 L199.19 427.34 L199.32 427.36 L199.33 427.37 L199.46 427.38 L199.59 427.40 L199.67 427.41 L199.73 427.42 L199.86 427.43 L200.00 427.44 L200.00 427.44 L200.13 427.45 L200.27 427.46 L200.33 427.46 L200.40 427.47 L200.67 427.48 L201.00 427.48 L201.33 427.49 L201.67 427.49 L202.00 427.50 L202.33 427.50 L202.67 427.50 L203.00 427.50 L203.33 427.50 L203.67 427.50 L204.00 427.50 L204.33 427.50 L204.67 427.50 L205.00 427.50 L205.33 427.50 L205.67 427.50 L206.00 427.50 L206.33 427.50 L206.67 427.50 L207.00 427.50 L207.33 427.50 L207.67 427.50 L208.00 427.50 L208.33 427.50 L208.67 427.50 L209.00 427.50 L209.33 427.50 L209.67 427.50 L210.00 427.50 L210.33 427.50 L210.67 427.50 L211.00 427.50 L211.33 427.50 L211.67 427.50 L212.00 427.50 L212.33 427.50 L212.67 427.50 L213.00 427.50 L213.33 427.50 L213.67 427.50 L214.00 427.50 L214.33 427.50 L214.67 427.50 L215.00 427.50 L215.33 427.50 L215.67 427.50 L216.00 427.50 L216.33 427.50 L216.67 427.50 L217.00 427.50 L217.33 427.50 L217.67 427.50 L218.00 427.50 L218.33 427.50 L218.67 427.50 L219.00 427.50 L219.33 427.50 L219.67 427.50 L220.00 427.50 L220.33 427.50 L220.67 427.50 L221.00 427.50 L221.33 427.50 L221.67 427.50 L222.00 427.50 L222.33 427.50 L222.67 427.50 L223.00 427.50 L223.33 427.50 L223.67 427.50 L224.00 427.50 L224.00 427.50 L171.00 427.50Z" fill="#3f495b" stroke="#4c566a" stroke-width="0.6"/>
<path d="M171.00 427.50 L171.33 427.50 L171.67 427.50 L172.00 427.50 L172.33 427.50 L172.67 427.50 L173.00 427.50 L173.33 427.50 L173.67 427.50 L174.00 427.50 L174.33 427.50 L174.67 427.50 L175.00 427.50 L175.33 427.50 L175.67 427.50 L176.00 427.50 L176.33 427.50 L176.67 427.50 L177.00 427.50 L177.33 427.50 L177.67 427.50 L178.00 427.50 L178.33 427.50 L178.67 427.50 L179.00 427.50 L179.33 427.50 L179.67 427.50 L180.00 427.50 L180.33 427.50 L180.67 427.50 L181.00 427.50 L181.33 427.50 L181.67 427.50 L182.00 427.50 L182.33 427.50 L182.67 427.50 L183.00 427.50 L183.33 427.50 L183.67 427.50 L184.00 427.50 L184.33 427.50 L184.67 427.50 L185.00 427.50 L185.33 427.50 L185.67 427.50 L186.00 427.50 L186.33 427.50 L186.67 427.50 L187.00 427.50 L187.33 427.50 L187.67 427.50 L188.00 427.50 L188.33 427.50 L188.67 427.50 L189.00 427.50 L189.33 427.50 L189.67 427.50 L190.00 427.50 L190.33 427.50 L190.67 427.50 L191.00 427.50 L191.33 427.50 L191.67 427.50 L192.00 427.50 L192.33 427.50 L192.67 427.50 L193.00 427.50 L193.33 427.50 L193.67 427.50 L194.00 427.50 L194.33 427.50 L194.67 427.50 L195.00 427.50 L195.33 427.50 L195.67 427.50 L196.00 427.50 L196.33 427.50 L196.67 427.50 L197.00 427.50 L197.33 427.50 L197.67 427.50 L198.00 427.50 L198.33 427.50 L198.67 427.50 L199.00 427.50 L199.33 427.50 L199.67 427.50 L200.00 427.50 L200.33 427.50 L200.67 427.50 L201.00 427.50 L201.33 427.50 L201.67 427.50 L202.00 427.50 L202.33 427.50 L202.67 427.49 L203.00 427.49 L203.33 427.48 L203.67 427.47 L204.00 427.46 L204.20 427.44 L204.33 427.43 L204.33 427.43 L204.47 427.42 L204.60 427.40 L204.67 427.39 L204.74 427.38 L204.87 427.36 L205.00 427.33 L205.01 427.33 L205.14 427.30 L205.28 427.26 L205.33 427.24 L205.41 427.21 L205.54 427.16 L205.67 427.10 L205.68 427.10 L205.81 427.03 L205.95 426.94 L206.00 426.91 L206.08 426.84 L206.22 426.73 L206.33 426.62 L206.35 426.60 L206.49 426.45 L206.62 426.28 L206.67 426.22 L206.75 426.09 L206.89 425.86 L207.00 425.66 L207.02 425.61 L207.16 425.32 L207.29 425.00 L207.33 424.89 L207.43 424.64 L207.56 424.23 L207.67 423.88 L207.70 423.77 L207.83 423.26 L207.96 422.70 L208.00 422.54 L208.10 422.08 L208.23 421.39 L208.33 420.83 L208.37 420.63 L208.50 419.80 L208.64 418.90 L208.67 418.69 L208.77 417.91 L208.91 416.85 L209.00 416.06 L209.04 415.70 L209.17 414.47 L209.31 413.16 L209.33 412.91 L209.44 411.76 L209.58 410.27 L209.67 409.25 L209.71 408.71 L209.85 407.07 L209.98 405.36 L210.00 405.12 L210.12 403.59 L210.25 401.77 L210.33 400.62 L210.38 399.90 L210.52 398.00 L210.65 396.08 L210.67 395.90 L210.79 394.16 L210.92 392.27 L211.00 391.19 L211.06 390.40 L211.19 388.60 L211.33 386.89 L211.33 386.80 L211.46 385.29 L211.59 383.82 L211.67 383.11 L211.73 382.53 L211.86 381.44 L212.00 380.61 L212.00 380.60 L212.13 380.09 L212.27 380.09 L212.33 380.30 L212.40 380.61 L212.54 381.44 L212.67 382.49 L212.67 382.53 L212.81 383.82 L212.94 385.29 L213.00 385.99 L213.07 386.89 L213.21 388.60 L213.33 390.28 L213.34 390.40 L213.48 392.27 L213.61 394.16 L213.67 394.95 L213.75 396.08 L213.88 398.00 L214.00 399.69 L214.02 399.90 L214.15 401.77 L214.28 403.59 L214.33 404.25 L214.42 405.36 L214.55 407.07 L214.67 408.46 L214.69 408.71 L214.82 410.27 L214.96 411.76 L215.00 412.22 L215.09 413.16 L215.23 414.47 L215.33 415.47 L215.36 415.70 L215.49 416.85 L215.63 417.91 L215.67 418.20 L215.76 418.90 L215.90 419.80 L216.00 420.44 L216.03 420.63 L216.17 421.39 L216.30 422.08 L216.33 422.23 L216.44 422.70 L216.57 423.26 L216.67 423.64 L216.70 423.77 L216.84 424.23 L216.97 424.64 L217.00 424.71 L217.11 425.00 L217.24 425.32 L217.33 425.52 L217.38 425.61 L217.51 425.86 L217.65 426.09 L217.67 426.12 L217.78 426.28 L217.91 426.45 L218.00 426.55 L218.05 426.60 L218.18 426.73 L218.32 426.84 L218.33 426.86 L218.45 426.94 L218.59 427.03 L218.67 427.07 L218.72 427.10 L218.86 427.16 L218.99 427.21 L219.00 427.22 L219.12 427.26 L219.26 427.30 L219.33 427.32 L219.39 427.33 L219.53 427.36 L219.66 427.38 L219.67 427.38 L219.80 427.40 L219.93 427.42 L220.00 427.43 L220.07 427.43 L220.20 427.44 L220.33 427.45 L220.67 427.47 L221.00 427.48 L221.33 427.49 L221.67 427.49 L222.00 427.50 L222.33 427.50 L222.67 427.50 L223.00 427.50 L223.33 427.50 L223.67 427.50 L224.00 427.50 L224.00 427.50 L171.00 427.50Z" fill="#d2d2d4" stroke="#b9b9bb" stroke-width="0.5"/>
<path d="M171.00 427.50 L171.33 427.50 L171.67 427.50 L172.00 427.50 L172.33 427.50 L172.67 427.50 L173.00 427.50 L173.33 427.50 L173.67 427.50 L174.00 427.50 L174.33 427.50 L174.67 427.50 L175.00 427.50 L175.33 427.50 L175.67 427.50 L176.00 427.50 L176.33 427.50 L176.67 427.50 L177.00 427.50 L177.33 427.50 L177.67 427.50 L178.00 427.50 L178.33 427.50 L178.67 427.50 L179.00 427.50 L179.33 427.50 L179.67 427.50 L180.00 427.50 L180.33 427.50 L180.67 427.50 L181.00 427.50 L181.33 427.50 L181.67 427.50 L182.00 427.50 L182.33 427.50 L182.67 427.50 L183.00 427.50 L183.33 427.50 L183.67 427.50 L184.00 427.50 L184.33 427.50 L184.67 427.50 L185.00 427.50 L185.33 427.50 L185.67 427.50 L186.00 427.50 L186.33 427.50 L186.67 427.50 L187.00 427.50 L187.33 427.50 L187.67 427.50 L188.00 427.50 L188.33 427.50 L188.67 427.50 L189.00 427.50 L189.33 427.50 L189.67 427.50 L190.00 427.50 L190.33 427.50 L190.67 427.50 L191.00 427.50 L191.33 427.50 L191.67 427.50 L192.00 427.50 L192.33 427.50 L192.67 427.50 L193.00 427.50 L193.20 427.50 L193.33 427.50 L193.33 427.50 L193.47 427.50 L193.60 427.50 L193.67 427.50 L193.74 427.50 L193.87 427.50 L194.00 427.49 L194.01 427.49 L194.14 427.49 L194.28 427.49 L194.33 427.49 L194.41 427.49 L194.54 427.49 L194.67 427.48 L194.68 427.48 L194.81 427.47 L194.95 427.47 L195.00 427.46 L195.08 427.46 L195.22 427.45 L195.33 427.43 L195.35 427.43 L195.49 427.41 L195.62 427.39 L195.67 427.38 L195.75 427.36 L195.89 427.33 L196.00 427.29 L196.02 427.28 L196.16 427.23 L196.29 427.16 L196.33 427.14 L196.43 427.08 L196.56 426.98 L196.67 426.88 L196.70 426.85 L196.83 426.71 L196.96 426.53 L197.00 426.48 L197.10 426.32 L197.23 426.06 L197.33 425.85 L197.37 425.76 L197.50 425.41 L197.64 424.99 L197.67 424.89 L197.77 424.50 L197.91 423.93 L198.00 423.48 L198.04 423.27 L198.17 422.51 L198.31 421.64 L198.33 421.47 L198.44 420.65 L198.58 419.52 L198.67 418.70 L198.71 418.25 L198.85 416.84 L198.98 415.26 L199.00 415.03 L199.12 413.52 L199.25 411.61 L199.33 410.35 L199.38 409.53 L199.52 407.30 L199.65 404.90 L199.67 404.67 L199.79 402.37 L199.92 399.72 L200.00 398.15 L200.06 396.98 L200.19 394.18 L200.33 391.37 L200.33 391.21 L200.46 388.60 L200.59 385.94 L200.67 384.59 L200.73 383.46 L200.86 381.26 L201.00 379.47 L201.00 379.45 L201.13 378.26 L201.27 378.08 L201.33 378.25 L201.40 378.49 L201.54 379.10 L201.67 379.85 L201.67 379.87 L201.81 380.77 L201.94 381.78 L202.00 382.27 L202.07 382.88 L202.21 384.06 L202.33 385.21 L202.34 385.30 L202.48 386.59 L202.61 387.92 L202.67 388.47 L202.75 389.28 L202.88 390.67 L203.00 391.91 L203.02 392.07 L203.15 393.47 L203.28 394.88 L203.33 395.39 L203.42 396.28 L203.55 397.67 L203.67 398.83 L203.69 399.04 L203.82 400.39 L203.96 401.72 L204.00 402.14 L204.09 403.02 L204.23 404.28 L204.33 405.28 L204.36 405.51 L204.49 406.71 L204.63 407.87 L204.67 408.19 L204.76 408.99 L204.90 410.07 L205.00 410.86 L205.03 411.11 L205.17 412.10 L205.30 413.06 L205.33 413.28 L205.44 413.97 L205.57 414.84 L205.67 415.44 L205.70 415.67 L205.84 416.46 L205.97 417.21 L206.00 417.35 L206.11 417.91 L206.24 418.59 L206.33 419.02 L206.38 419.22 L206.51 419.82 L206.65 420.38 L206.67 420.46 L206.78 420.91 L206.91 421.40 L207.00 421.70 L207.05 421.87 L207.18 422.31 L207.32 422.71 L207.33 422.76 L207.45 423.09 L207.59 423.45 L207.67 423.65 L207.72 423.78 L207.86 424.08 L207.99 424.37 L208.00 424.39 L208.12 424.63 L208.26 424.87 L208.33 425.00 L208.39 425.10 L208.53 425.31 L208.66 425.50 L208.67 425.51 L208.80 425.68 L208.93 425.84 L209.00 425.92 L209.07 425.99 L209.20 426.13 L209.33 426.26 L209.67 426.53 L210.00 426.74 L210.33 426.91 L210.67 427.05 L211.00 427.15 L211.33 427.24 L211.67 427.30 L212.00 427.35 L212.33 427.39 L212.67 427.42 L213.00 427.44 L213.33 427.45 L213.67 427.47 L214.00 427.48 L214.33 427.48 L214.67 427.49 L215.00 427.49 L215.33 427.49 L215.67 427.50 L216.00 427.50 L216.33 427.50 L216.67 427.50 L217.00 427.50 L217.33 427.50 L217.67 427.50 L218.00 427.50 L218.33 427.50 L218.67 427.50 L219.00 427.50 L219.33 427.50 L219.67 427.50 L220.00 427.50 L220.33 427.50 L220.67 427.50 L221.00 427.50 L221.33 427.50 L221.67 427.50 L222.00 427.50 L222.33 427.50 L222.67 427.50 L223.00 427.50 L223.33 427.50 L223.67 427.50 L224.00 427.50" fill="none" stroke="#c62a50" stroke-width="1.1"/>
<path d="M171.00 427.50 L171.33 427.50 L171.67 427.50 L172.00 427.50 L172.33 427.50 L172.67 427.50 L173.00 427.50 L173.33 427.50 L173.67 427.50 L174.00 427.50 L174.33 427.50 L174.67 427.50 L175.00 427.50 L175.33 427.50 L175.67 427.50 L176.00 427.50 L176.33 427.50 L176.67 427.50 L177.00 427.50 L177.33 427.50 L177.67 427.50 L178.00 427.50 L178.33 427.50 L178.67 427.50 L179.00 427.50 L179.33 427.50 L179.67 427.50 L180.00 427.50 L180.33 427.50 L180.67 427.50 L181.00 427.50 L181.33 427.50 L181.67 427.50 L182.00 427.50 L182.33 427.50 L182.67 427.50 L183.00 427.50 L183.33 427.50 L183.67 427.50 L184.00 427.50 L184.33 427.50 L184.67 427.50 L185.00 427.50 L185.33 427.50 L185.67 427.50 L186.00 427.50 L186.33 427.50 L186.67 427.50 L187.00 427.50 L187.33 427.50 L187.67 427.50 L188.00 427.50 L188.33 427.50 L188.67 427.50 L189.00 427.50 L189.33 427.50 L189.67 427.50 L190.00 427.50 L190.33 427.50 L190.67 427.50 L191.00 427.50 L191.33 427.50 L191.67 427.50 L192.00 427.50 L192.33 427.50 L192.67 427.50 L193.00 427.50 L193.33 427.50 L193.67 427.50 L194.00 427.50 L194.33 427.50 L194.67 427.50 L195.00 427.50 L195.33 427.50 L195.67 427.50 L196.00 427.50 L196.33 427.50 L196.67 427.50 L197.00 427.50 L197.33 427.50 L197.67 427.50 L198.00 427.50 L198.33 427.50 L198.67 427.50 L199.00 427.50 L199.33 427.50 L199.67 427.50 L200.00 427.50 L200.33 427.50 L200.67 427.50 L201.00 427.50 L201.33 427.50 L201.67 427.50 L202.00 427.50 L202.33 427.50 L202.67 427.49 L203.00 427.47 L203.33 427.44 L203.67 427.36 L204.00 427.21 L204.20 427.07 L204.33 426.94 L204.33 426.94 L204.47 426.78 L204.60 426.60 L204.67 426.50 L204.74 426.38 L204.87 426.13 L205.00 425.87 L205.01 425.85 L205.14 425.55 L205.28 425.22 L205.33 425.07 L205.41 424.87 L205.54 424.51 L205.67 424.18 L205.68 424.15 L205.81 423.79 L205.95 423.46 L206.00 423.34 L206.08 423.15 L206.22 422.88 L206.33 422.67 L206.35 422.64 L206.49 422.45 L206.62 422.30 L206.67 422.25 L206.75 422.18 L206.89 422.09 L207.00 422.04 L207.02 422.02 L207.16 421.96 L207.29 421.90 L207.33 421.88 L207.43 421.81 L207.56 421.69 L207.67 421.56 L207.70 421.52 L207.83 421.28 L207.96 420.97 L208.00 420.88 L208.10 420.58 L208.23 420.09 L208.33 419.66 L208.37 419.50 L208.50 418.81 L208.64 418.01 L208.67 417.82 L208.77 417.11 L208.91 416.10 L209.00 415.33 L209.04 414.98 L209.17 413.76 L209.31 412.43 L209.33 412.19 L209.44 411.01 L209.58 409.49 L209.67 408.44 L209.71 407.88 L209.85 406.19 L209.98 404.41 L210.00 404.17 L210.12 402.57 L210.25 400.68 L210.33 399.48 L210.38 398.73 L210.52 396.75 L210.65 394.76 L210.67 394.57 L210.79 392.76 L210.92 390.78 L211.00 389.66 L211.06 388.84 L211.19 386.97 L211.33 385.18 L211.33 385.09 L211.46 383.51 L211.59 381.98 L211.67 381.24 L211.73 380.64 L211.86 379.50 L212.00 378.64 L212.00 378.63 L212.13 378.10 L212.27 378.10 L212.33 378.32 L212.40 378.64 L212.54 379.50 L212.67 380.60 L212.67 380.64 L212.81 381.98 L212.94 383.51 L213.00 384.24 L213.07 385.18 L213.21 386.97 L213.33 388.71 L213.34 388.84 L213.48 390.78 L213.61 392.76 L213.67 393.58 L213.75 394.76 L213.88 396.76 L214.00 398.51 L214.02 398.74 L214.15 400.68 L214.28 402.59 L214.33 403.27 L214.42 404.43 L214.55 406.21 L214.67 407.66 L214.69 407.92 L214.82 409.55 L214.96 411.09 L215.00 411.58 L215.09 412.55 L215.23 413.92 L215.33 414.96 L215.36 415.21 L215.49 416.40 L215.63 417.51 L215.67 417.81 L215.76 418.53 L215.90 419.48 L216.00 420.14 L216.03 420.34 L216.17 421.13 L216.30 421.85 L216.33 422.01 L216.44 422.50 L216.57 423.09 L216.67 423.47 L216.70 423.62 L216.84 424.09 L216.97 424.52 L217.00 424.60 L217.11 424.89 L217.24 425.23 L217.33 425.44 L217.38 425.53 L217.51 425.79 L217.65 426.03 L217.67 426.06 L217.78 426.23 L217.91 426.41 L218.00 426.51 L218.05 426.56 L218.18 426.70 L218.32 426.82 L218.33 426.83 L218.45 426.92 L218.59 427.01 L218.67 427.05 L218.72 427.08 L218.86 427.15 L218.99 427.20 L219.00 427.21 L219.12 427.25 L219.26 427.29 L219.33 427.31 L219.39 427.32 L219.53 427.35 L219.66 427.38 L219.67 427.38 L219.80 427.40 L219.93 427.42 L220.00 427.42 L220.07 427.43 L220.20 427.44 L220.33 427.45 L220.67 427.47 L221.00 427.48 L221.33 427.49 L221.67 427.49 L222.00 427.50 L222.33 427.50 L222.67 427.50 L223.00 427.50 L223.33 427.50 L223.67 427.50 L224.00 427.50" fill="none" stroke="#41609c" stroke-width="1.1"/>
<path d="M167.50 427.50H170.50" stroke="#444" stroke-width="0.7"/>
<text x="163.60" y="429.10" font-size="4.4" text-anchor="middle" fill="#333" stroke="#333" stroke-width="0.18" >0</text>
<path d="M172.80 427.50V429.80M179.90 427.50V429.80M187.00 427.50V429.80M194.10 427.50V429.80M201.20 427.50V429.80M208.30 427.50V429.80M215.40 427.50V429.80M222.50 427.50V429.80" stroke="#333" stroke-width="0.8"/>
<path d="M176.30 427.50V428.90M183.40 427.50V428.90M190.50 427.50V428.90M197.60 427.50V428.90M204.70 427.50V428.90M211.80 427.50V428.90M218.90 427.50V428.90" stroke="#777" stroke-width="0.6"/>
<text x="175.90" y="438.10" font-size="4.4" text-anchor="middle" fill="#444">10<tspan font-size="3" dy="-2.3">1</tspan></text>
<text x="183.55" y="438.10" font-size="4.4" text-anchor="middle" fill="#444">10<tspan font-size="3" dy="-2.3">2</tspan></text>
<text x="191.20" y="438.10" font-size="4.4" text-anchor="middle" fill="#444">10<tspan font-size="3" dy="-2.3">3</tspan></text>
<text x="198.85" y="438.10" font-size="4.4" text-anchor="middle" fill="#444">10<tspan font-size="3" dy="-2.3">4</tspan></text>
<text x="206.50" y="438.10" font-size="4.4" text-anchor="middle" fill="#444">10<tspan font-size="3" dy="-2.3">5</tspan></text>
<text x="214.15" y="438.10" font-size="4.4" text-anchor="middle" fill="#444">10<tspan font-size="3" dy="-2.3">6</tspan></text>
<text x="221.80" y="438.10" font-size="4.4" text-anchor="middle" fill="#444">10<tspan font-size="3" dy="-2.3">7</tspan></text>
<path d="M167.3 201.90H189.1" stroke="#6e7688" stroke-width="1.3"/>
<text x="192.4" y="205.00" font-size="8.7" fill="#231f20" stroke="#231f20" stroke-width="0.06" textLength="34.3" lengthAdjust="spacingAndGlyphs">Unstained</text>
<path d="M167.3 215.30H189.1" stroke="#c9c9c9" stroke-width="1.3"/>
<text x="192.4" y="219.40" font-size="8.7" fill="#231f20" stroke="#231f20" stroke-width="0.06" textLength="31.2" lengthAdjust="spacingAndGlyphs">4<tspan font-size="5" dy="-2.5">°</tspan><tspan dy="2.5">C efflux</tspan></text>
<path d="M167.3 230.80H189.1" stroke="#c62a50" stroke-width="1.3"/>
<text x="192.4" y="235.00" font-size="8.7" fill="#231f20" stroke="#231f20" stroke-width="0.06" textLength="36.2" lengthAdjust="spacingAndGlyphs">37<tspan font-size="5" dy="-2.5">°</tspan><tspan dy="2.5">C efflux</tspan></text>
<path d="M167.3 246.10H189.1" stroke="#5f7bb0" stroke-width="1.3"/>
<text x="192.4" y="250.20" font-size="8.7" fill="#231f20" stroke="#231f20" stroke-width="0.06" textLength="36.2" lengthAdjust="spacingAndGlyphs">37<tspan font-size="5" dy="-2.5">°</tspan><tspan dy="2.5">C efflux</tspan></text>
<text x="192.4" y="259.1" font-size="8.7" fill="#231f20" stroke="#231f20" stroke-width="0.06" textLength="55.5" lengthAdjust="spacingAndGlyphs">+ Cyclosporin A</text>
<path d="M28.7 442H219" stroke="#505050" stroke-width="1.6"/>
<path d="M217.5 438.6L226.4 442L217.5 445.6Z" fill="#111"/>
<text x="127.60" y="451.60" font-size="7.6" text-anchor="middle" fill="#231f20" textLength="54.8" lengthAdjust="spacingAndGlyphs" stroke="#231f20" stroke-width="0.05" >Rhodamine-123</text>
<text x="264.00" y="176.80" font-size="12" text-anchor="start" fill="#000" font-weight="bold" stroke="#000" stroke-width="0.18" >D</text>
<text x="378.70" y="206.90" font-size="9.6" text-anchor="middle" fill="#231f20" textLength="89.5" lengthAdjust="spacingAndGlyphs" stroke="#231f20" stroke-width="0.12" >Rhodamine-123 efflux</text>
<path d="M317.10 234.56V233.00M314.10 233.00H320.10" stroke="#231f20" stroke-width="1.1" fill="none"/>
<rect x="310.90" y="234.56" width="12.4" height="85.24" fill="#a30028" stroke="#8a0020" stroke-width="0.5"/>
<path d="M317.10 319.8V322.7" stroke="#231f20" stroke-width="1"/>
<text transform="translate(319.80,326.5) rotate(-90)" x="0" y="0" font-size="8.2" text-anchor="end" fill="#231f20" stroke="#231f20" stroke-width="0.2" textLength="17.3" lengthAdjust="spacingAndGlyphs">KG-1</text>
<path d="M337.57 305.65V294.80M334.57 294.80H340.57" stroke="#231f20" stroke-width="1.1" fill="none"/>
<rect x="331.37" y="305.65" width="12.4" height="14.15" fill="#2e4f88" stroke="#1f3a6e" stroke-width="0.5"/>
<path d="M337.57 319.8V322.7" stroke="#231f20" stroke-width="1"/>
<text transform="translate(340.27,326.5) rotate(-90)" x="0" y="0" font-size="8.2" text-anchor="end" fill="#231f20" stroke="#231f20" stroke-width="0.2" textLength="19.6" lengthAdjust="spacingAndGlyphs">Jurkat</text>
<path d="M358.04 239.25V237.34M355.04 237.34H361.04" stroke="#231f20" stroke-width="1.1" fill="none"/>
<rect x="351.84" y="239.25" width="12.4" height="80.55" fill="#6aa842" stroke="#5a9a34" stroke-width="0.5"/>
<path d="M358.04 319.8V322.7" stroke="#231f20" stroke-width="1"/>
<text transform="translate(360.74,326.5) rotate(-90)" x="0" y="0" font-size="8.2" text-anchor="end" fill="#231f20" stroke="#231f20" stroke-width="0.2" textLength="19.6" lengthAdjust="spacingAndGlyphs">SNK6</text>
<path d="M378.51 313.72V306.61M375.51 306.61H381.51" stroke="#231f20" stroke-width="1.1" fill="none"/>
<rect x="372.31" y="313.72" width="12.4" height="6.08" fill="#6aa842" stroke="#5a9a34" stroke-width="0.5"/>
<path d="M378.51 319.8V322.7" stroke="#231f20" stroke-width="1"/>
<text transform="translate(381.21,326.5) rotate(-90)" x="0" y="0" font-size="8.2" text-anchor="end" fill="#231f20" stroke="#231f20" stroke-width="0.2" textLength="19.6" lengthAdjust="spacingAndGlyphs">SNT8</text>
<path d="M398.98 307.82V298.79M395.98 298.79H401.98" stroke="#231f20" stroke-width="1.1" fill="none"/>
<rect x="392.78" y="307.82" width="12.4" height="11.98" fill="#6aa842" stroke="#5a9a34" stroke-width="0.5"/>
<path d="M398.98 319.8V322.7" stroke="#231f20" stroke-width="1"/>
<text transform="translate(401.68,326.5) rotate(-90)" x="0" y="0" font-size="8.2" text-anchor="end" fill="#231f20" stroke="#231f20" stroke-width="0.2" textLength="23.8" lengthAdjust="spacingAndGlyphs">SNT15</text>
<path d="M419.45 304.35V301.57M416.45 301.57H422.45" stroke="#231f20" stroke-width="1.1" fill="none"/>
<rect x="413.25" y="304.35" width="12.4" height="15.45" fill="#6aa842" stroke="#5a9a34" stroke-width="0.5"/>
<path d="M419.45 319.8V322.7" stroke="#231f20" stroke-width="1"/>
<text transform="translate(422.15,326.5) rotate(-90)" x="0" y="0" font-size="8.2" text-anchor="end" fill="#231f20" stroke="#231f20" stroke-width="0.2" textLength="23.8" lengthAdjust="spacingAndGlyphs">SNT16</text>
<path d="M439.92 241.85V234.04M436.92 234.04H442.92" stroke="#231f20" stroke-width="1.1" fill="none"/>
<rect x="433.72" y="241.85" width="12.4" height="77.95" fill="#6aa842" stroke="#5a9a34" stroke-width="0.5"/>
<path d="M439.92 319.8V322.7" stroke="#231f20" stroke-width="1"/>
<text transform="translate(442.62,326.5) rotate(-90)" x="0" y="0" font-size="8.2" text-anchor="end" fill="#231f20" stroke="#231f20" stroke-width="0.2" textLength="26.5" lengthAdjust="spacingAndGlyphs">MEC04</text>
<path d="M306.6 223.8V320.4" stroke="#231f20" stroke-width="1.3" fill="none"/>
<path d="M306.0 319.8H450.3" stroke="#231f20" stroke-width="1.3" fill="none"/>
<path d="M303.4 233.00H306.6" stroke="#231f20" stroke-width="1.1"/>
<text x="301.10" y="235.70" font-size="8.5" text-anchor="end" fill="#231f20" textLength="13.19" lengthAdjust="spacingAndGlyphs" stroke="#231f20" stroke-width="0.06" >100</text>
<path d="M303.4 254.70H306.6" stroke="#231f20" stroke-width="1.1"/>
<text x="301.10" y="257.40" font-size="8.5" text-anchor="end" fill="#231f20" textLength="8.79" lengthAdjust="spacingAndGlyphs" stroke="#231f20" stroke-width="0.06" >75</text>
<path d="M303.4 276.40H306.6" stroke="#231f20" stroke-width="1.1"/>
<text x="301.10" y="279.10" font-size="8.5" text-anchor="end" fill="#231f20" textLength="8.79" lengthAdjust="spacingAndGlyphs" stroke="#231f20" stroke-width="0.06" >50</text>
<path d="M303.4 298.10H306.6" stroke="#231f20" stroke-width="1.1"/>
<text x="301.10" y="300.80" font-size="8.5" text-anchor="end" fill="#231f20" textLength="8.79" lengthAdjust="spacingAndGlyphs" stroke="#231f20" stroke-width="0.06" >25</text>
<path d="M303.4 319.80H306.6" stroke="#231f20" stroke-width="1.1"/>
<text x="301.10" y="322.50" font-size="8.5" text-anchor="end" fill="#231f20" textLength="4.4" lengthAdjust="spacingAndGlyphs" stroke="#231f20" stroke-width="0.06" >0</text>
<text transform="translate(282.3,272.2) rotate(-90)" x="0" y="0" font-size="10.4" text-anchor="middle" fill="#231f20" stroke="#231f20" stroke-width="0.2" textLength="61.7" lengthAdjust="spacingAndGlyphs">%max Rh-123 efflux</text>
<path d="M337.4 222.4V216.8H440.0V222.6" stroke="#444" stroke-width="1.1" fill="none"/>
<path d="M337.4 234.0V228.6H358.0V234.2" stroke="#444" stroke-width="1.1" fill="none"/>
<text x="388.40" y="217.20" font-size="7.2" text-anchor="middle" fill="#231f20" textLength="8.6" lengthAdjust="spacingAndGlyphs" stroke="#231f20" stroke-width="0.25" >***</text>
<text x="347.80" y="228.80" font-size="7.2" text-anchor="middle" fill="#231f20" textLength="8.6" lengthAdjust="spacingAndGlyphs" stroke="#231f20" stroke-width="0.25" >***</text>
<path d="M347.8 356.8H448.5" stroke="#555" stroke-width="1.7"/>
<text x="398.40" y="368.30" font-size="9.2" text-anchor="middle" fill="#231f20" textLength="69" lengthAdjust="spacingAndGlyphs" stroke="#231f20" stroke-width="0.3" >EBV+ve T/NK cell lines</text>
<rect x="0.5" y="0.5" width="519" height="458" fill="none" stroke="#000" stroke-width="1.2"/>
</svg>
</body></html>
